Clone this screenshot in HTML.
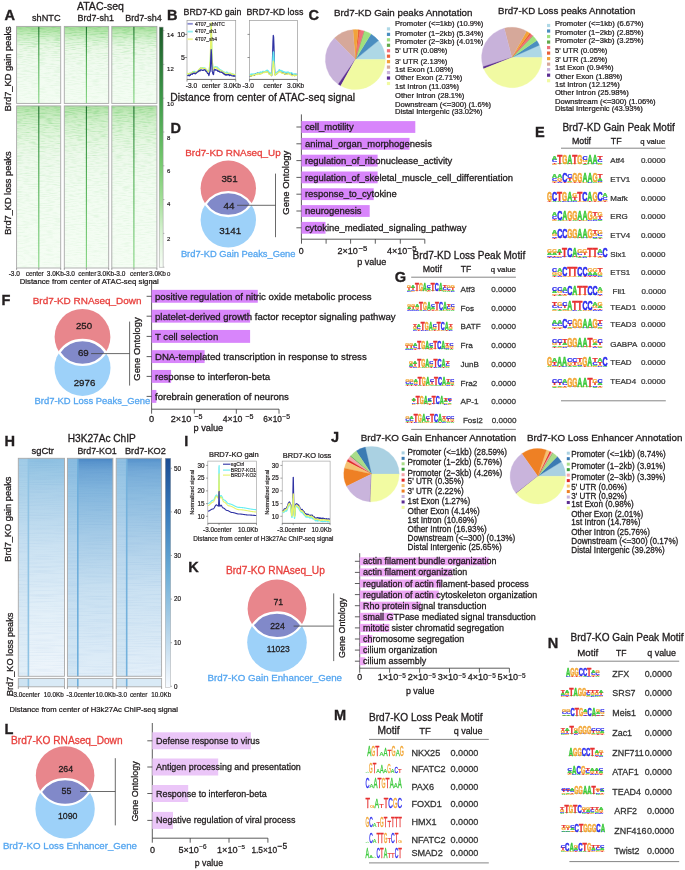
<!DOCTYPE html>
<html><head><meta charset="utf-8"><style>
html,body{margin:0;padding:0;background:#fff;}
svg{display:block;will-change:transform;}
text{font-family:"Liberation Sans",sans-serif;} .t{stroke-width:0.22px;}
</style></head><body>
<svg width="685" height="870" viewBox="0 0 685 870">
<defs><linearGradient id="gG" x1="0" y1="0" x2="0" y2="1">
<stop offset="0" stop-color="#a2db97"/><stop offset="0.05" stop-color="#b6e5ac"/><stop offset="0.12" stop-color="#cbeec4"/><stop offset="0.2" stop-color="#e0f5dc"/><stop offset="0.3" stop-color="#ecf9e9"/><stop offset="0.5" stop-color="#f1fbf0"/><stop offset="1" stop-color="#f4fdf3"/></linearGradient><linearGradient id="gL" x1="0" y1="0" x2="0" y2="1">
<stop offset="0" stop-color="#b0e1a6"/><stop offset="0.04" stop-color="#c3e9bb"/><stop offset="0.1" stop-color="#d5f1cf"/><stop offset="0.2" stop-color="#e5f7e1"/><stop offset="0.3" stop-color="#edf9eb"/><stop offset="0.5" stop-color="#f2fcf1"/><stop offset="1" stop-color="#f5fdf4"/></linearGradient><linearGradient id="gCL" x1="0" y1="0" x2="0" y2="1">
<stop offset="0" stop-color="#1a6a28"/><stop offset="0.12" stop-color="#2a8636"/><stop offset="0.45" stop-color="#4fae52"/><stop offset="1" stop-color="#86d684"/></linearGradient><linearGradient id="gCB" x1="0" y1="0" x2="0" y2="1">
<stop offset="0" stop-color="#1b5a29"/><stop offset="0.3" stop-color="#3e9a49"/><stop offset="0.57" stop-color="#76ca6f"/><stop offset="0.72" stop-color="#a3df98"/><stop offset="0.85" stop-color="#d6f2d0"/><stop offset="1" stop-color="#f7fdf6"/></linearGradient><filter id="nzG" x="0" y="0" width="1" height="1" color-interpolation-filters="sRGB">
<feTurbulence type="fractalNoise" baseFrequency="0.13 0.9" numOctaves="2" seed="11" result="n"/>
<feColorMatrix in="n" type="matrix" values="0 0 0 0 0.35  0 0 0 0 0.78  0 0 0 0 0.35  2.2 0 0 0 -0.95"/>
</filter><linearGradient id="mgG" x1="0" y1="0" x2="0" y2="1"><stop offset="0" stop-color="#fff"/><stop offset="0.2" stop-color="#aaa"/><stop offset="0.45" stop-color="#555"/><stop offset="1" stop-color="#222"/></linearGradient><linearGradient id="mgL" x1="0" y1="0" x2="0" y2="1"><stop offset="0" stop-color="#fff"/><stop offset="0.12" stop-color="#aaa"/><stop offset="0.35" stop-color="#555"/><stop offset="1" stop-color="#222"/></linearGradient><mask id="mk1" maskUnits="userSpaceOnUse" x="16.6" y="26.4" width="44.1" height="77.0"><rect x="16.6" y="26.4" width="44.1" height="77.0" fill="url(#mgG)"/></mask><mask id="mk2" maskUnits="userSpaceOnUse" x="16.6" y="105.9" width="44.1" height="162.1"><rect x="16.6" y="105.9" width="44.1" height="162.1" fill="url(#mgL)"/></mask><mask id="mk3" maskUnits="userSpaceOnUse" x="64.3" y="26.4" width="44.400000000000006" height="77.0"><rect x="64.3" y="26.4" width="44.400000000000006" height="77.0" fill="url(#mgG)"/></mask><mask id="mk4" maskUnits="userSpaceOnUse" x="64.3" y="105.9" width="44.400000000000006" height="162.1"><rect x="64.3" y="105.9" width="44.400000000000006" height="162.1" fill="url(#mgL)"/></mask><mask id="mk5" maskUnits="userSpaceOnUse" x="111.8" y="26.4" width="45.10000000000001" height="77.0"><rect x="111.8" y="26.4" width="45.10000000000001" height="77.0" fill="url(#mgG)"/></mask><mask id="mk6" maskUnits="userSpaceOnUse" x="111.8" y="105.9" width="45.10000000000001" height="162.1"><rect x="111.8" y="105.9" width="45.10000000000001" height="162.1" fill="url(#mgL)"/></mask><filter id="nzB" x="0" y="0" width="1" height="1" color-interpolation-filters="sRGB">
<feTurbulence type="fractalNoise" baseFrequency="0.035 1.1" numOctaves="1" seed="5" result="n"/>
<feColorMatrix in="n" type="matrix" values="0 0 0 0 0.2  0 0 0 0 0.45  0 0 0 0 0.75  2.0 0 0 0 -0.85"/>
</filter><linearGradient id="b1L" x1="0" y1="0" x2="0" y2="1"><stop offset="0" stop-color="#a0cbe7"/><stop offset="0.15" stop-color="#aed3ea"/><stop offset="0.4" stop-color="#c6dff1"/><stop offset="0.7" stop-color="#d8e9f5"/><stop offset="1" stop-color="#e2eff8"/></linearGradient><linearGradient id="b1R" x1="0" y1="0" x2="0" y2="1"><stop offset="0" stop-color="#8ec0e2"/><stop offset="0.05" stop-color="#98c6e4"/><stop offset="0.15" stop-color="#abd0e9"/><stop offset="0.4" stop-color="#cbe2f2"/><stop offset="0.7" stop-color="#e2eff8"/><stop offset="1" stop-color="#eef5fb"/></linearGradient><linearGradient id="b2L" x1="0" y1="0" x2="0" y2="1"><stop offset="0" stop-color="#88bbe0"/><stop offset="0.15" stop-color="#98c5e4"/><stop offset="0.4" stop-color="#b3d4ec"/><stop offset="0.7" stop-color="#c8e0f1"/><stop offset="1" stop-color="#d2e6f4"/></linearGradient><linearGradient id="b2R" x1="0" y1="0" x2="0" y2="1"><stop offset="0" stop-color="#4a87c5"/><stop offset="0.02" stop-color="#5a95cd"/><stop offset="0.06" stop-color="#6ea5d5"/><stop offset="0.15" stop-color="#83b6dd"/><stop offset="0.35" stop-color="#a5cbe7"/><stop offset="0.6" stop-color="#c8e0f1"/><stop offset="0.85" stop-color="#d8e9f6"/><stop offset="1" stop-color="#e1eef8"/></linearGradient><linearGradient id="b3L" x1="0" y1="0" x2="0" y2="1"><stop offset="0" stop-color="#90c0e2"/><stop offset="0.15" stop-color="#9ec9e6"/><stop offset="0.4" stop-color="#b7d6ed"/><stop offset="0.7" stop-color="#cae2f2"/><stop offset="1" stop-color="#d4e7f4"/></linearGradient><linearGradient id="b3R" x1="0" y1="0" x2="0" y2="1"><stop offset="0" stop-color="#5490cb"/><stop offset="0.02" stop-color="#639dd1"/><stop offset="0.06" stop-color="#76abd8"/><stop offset="0.15" stop-color="#89badf"/><stop offset="0.35" stop-color="#a9cde8"/><stop offset="0.6" stop-color="#cae1f2"/><stop offset="0.85" stop-color="#daeaf6"/><stop offset="1" stop-color="#e3eff9"/></linearGradient><linearGradient id="bcb" x1="0" y1="0" x2="0" y2="1">
<stop offset="0" stop-color="#1b4c92"/><stop offset="0.25" stop-color="#3b7dbd"/><stop offset="0.5" stop-color="#6cadd6"/><stop offset="0.75" stop-color="#b3d3e9"/><stop offset="1" stop-color="#f6faff"/></linearGradient></defs>
<rect width="685" height="870" fill="#fff"/>
<g fill="#231f20">
<rect x="16.60" y="26.40" width="44.10" height="77.00" fill="url(#gG)"/>
<rect x="16.60" y="26.40" width="44.10" height="77.00" filter="url(#nzG)" mask="url(#mk1)" opacity="0.5"/>
<rect x="38.25" y="26.40" width="1.10" height="77.00" fill="url(#gCL)"/>
<rect x="16.60" y="26.40" width="44.10" height="77.00" fill="none" stroke="#a9a9a9" stroke-width="0.9"/>
<rect x="16.60" y="105.90" width="44.10" height="162.10" fill="url(#gL)"/>
<rect x="16.60" y="105.90" width="44.10" height="162.10" filter="url(#nzG)" mask="url(#mk2)" opacity="0.5"/>
<rect x="38.25" y="105.90" width="1.10" height="162.10" fill="url(#gCL)"/>
<rect x="16.60" y="105.90" width="44.10" height="162.10" fill="none" stroke="#a9a9a9" stroke-width="0.9"/>
<rect x="64.30" y="26.40" width="44.40" height="77.00" fill="url(#gG)"/>
<rect x="64.30" y="26.40" width="44.40" height="77.00" filter="url(#nzG)" mask="url(#mk3)" opacity="0.5"/>
<rect x="85.85" y="26.40" width="1.10" height="77.00" fill="url(#gCL)"/>
<rect x="64.30" y="26.40" width="44.40" height="77.00" fill="none" stroke="#a9a9a9" stroke-width="0.9"/>
<rect x="64.30" y="105.90" width="44.40" height="162.10" fill="url(#gL)"/>
<rect x="64.30" y="105.90" width="44.40" height="162.10" filter="url(#nzG)" mask="url(#mk4)" opacity="0.5"/>
<rect x="85.85" y="105.90" width="1.10" height="162.10" fill="url(#gCL)"/>
<rect x="64.30" y="105.90" width="44.40" height="162.10" fill="none" stroke="#a9a9a9" stroke-width="0.9"/>
<rect x="111.80" y="26.40" width="45.10" height="77.00" fill="url(#gG)"/>
<rect x="111.80" y="26.40" width="45.10" height="77.00" filter="url(#nzG)" mask="url(#mk5)" opacity="0.5"/>
<rect x="133.35" y="26.40" width="1.10" height="77.00" fill="url(#gCL)"/>
<rect x="111.80" y="26.40" width="45.10" height="77.00" fill="none" stroke="#a9a9a9" stroke-width="0.9"/>
<rect x="111.80" y="105.90" width="45.10" height="162.10" fill="url(#gL)"/>
<rect x="111.80" y="105.90" width="45.10" height="162.10" filter="url(#nzG)" mask="url(#mk6)" opacity="0.5"/>
<rect x="133.35" y="105.90" width="1.10" height="162.10" fill="url(#gCL)"/>
<rect x="111.80" y="105.90" width="45.10" height="162.10" fill="none" stroke="#a9a9a9" stroke-width="0.9"/>
<rect x="159.20" y="27.10" width="3.90" height="240.10" fill="url(#gCB)"/>
<rect x="159.2" y="27.1" width="3.9" height="240.1" fill="none" stroke="#999" stroke-width="0.5"/>
<line x1="163.10" y1="30.60" x2="164.40" y2="30.60" stroke="#777" stroke-width="0.5"/>
<text x="167.10" y="36.50" font-size="6.00" stroke="#1c1819" stroke-width="0.187">14</text>
<line x1="163.10" y1="64.40" x2="164.40" y2="64.40" stroke="#777" stroke-width="0.5"/>
<text x="167.10" y="70.90" font-size="6.00" stroke="#1c1819" stroke-width="0.187">12</text>
<line x1="163.10" y1="98.20" x2="164.40" y2="98.20" stroke="#777" stroke-width="0.5"/>
<text x="167.10" y="105.60" font-size="6.00" stroke="#1c1819" stroke-width="0.187">10</text>
<line x1="163.10" y1="132.00" x2="164.40" y2="132.00" stroke="#777" stroke-width="0.5"/>
<text x="167.10" y="139.60" font-size="6.00" stroke="#1c1819" stroke-width="0.187">8</text>
<line x1="163.10" y1="165.80" x2="164.40" y2="165.80" stroke="#777" stroke-width="0.5"/>
<text x="167.10" y="173.30" font-size="6.00" stroke="#1c1819" stroke-width="0.187">6</text>
<line x1="163.10" y1="199.60" x2="164.40" y2="199.60" stroke="#777" stroke-width="0.5"/>
<text x="167.10" y="205.90" font-size="6.00" stroke="#1c1819" stroke-width="0.187">4</text>
<line x1="163.10" y1="233.40" x2="164.40" y2="233.40" stroke="#777" stroke-width="0.5"/>
<text x="167.10" y="241.30" font-size="6.00" stroke="#1c1819" stroke-width="0.187">2</text>
<line x1="163.10" y1="267.20" x2="164.40" y2="267.20" stroke="#777" stroke-width="0.5"/>
<text x="167.10" y="275.70" font-size="6.00" stroke="#1c1819" stroke-width="0.187">0</text>
<text x="4.40" y="20.22" font-size="14.56" fill="#231f20" font-weight="bold" stroke="#231f20" stroke-width="0.35">A</text>
<text x="77.00" y="10.30" font-size="10.53" stroke="#1c1819" stroke-width="0.296">ATAC-seq</text>
<text x="32.00" y="20.60" font-size="9.19" stroke="#1c1819" stroke-width="0.286">shNTC</text>
<text x="77.60" y="20.60" font-size="8.97" stroke="#1c1819" stroke-width="0.279">Brd7-sh1</text>
<text x="125.20" y="20.60" font-size="9.00" stroke="#1c1819" stroke-width="0.280">Brd7-sh4</text>
<text x="11.20" y="111.20" font-size="9.25" transform="rotate(-90 11.20 111.20)" stroke="#1c1819" stroke-width="0.288">Brd7_KD gain peaks</text>
<text x="11.20" y="234.80" font-size="9.21" transform="rotate(-90 11.20 234.80)" stroke="#1c1819" stroke-width="0.286">Brd7_KD loss peaks</text>
<line x1="16.60" y1="268.00" x2="16.60" y2="270.00" stroke="#555" stroke-width="0.5"/>
<line x1="38.80" y1="268.00" x2="38.80" y2="270.00" stroke="#555" stroke-width="0.5"/>
<line x1="60.70" y1="268.00" x2="60.70" y2="270.00" stroke="#555" stroke-width="0.5"/>
<line x1="64.30" y1="268.00" x2="64.30" y2="270.00" stroke="#555" stroke-width="0.5"/>
<line x1="86.40" y1="268.00" x2="86.40" y2="270.00" stroke="#555" stroke-width="0.5"/>
<line x1="108.70" y1="268.00" x2="108.70" y2="270.00" stroke="#555" stroke-width="0.5"/>
<line x1="111.80" y1="268.00" x2="111.80" y2="270.00" stroke="#555" stroke-width="0.5"/>
<line x1="133.90" y1="268.00" x2="133.90" y2="270.00" stroke="#555" stroke-width="0.5"/>
<line x1="156.90" y1="268.00" x2="156.90" y2="270.00" stroke="#555" stroke-width="0.5"/>
<text x="8.70" y="275.70" font-size="6.50" stroke="#1c1819" stroke-width="0.202">-3.0</text>
<text x="25.70" y="275.70" font-size="6.50" stroke="#1c1819" stroke-width="0.202">center</text>
<text x="46.80" y="275.70" font-size="6.50" stroke="#1c1819" stroke-width="0.202">3.0Kb-3.0</text>
<text x="78.30" y="275.70" font-size="6.50" stroke="#1c1819" stroke-width="0.202">center</text>
<text x="97.20" y="275.70" font-size="6.50" stroke="#1c1819" stroke-width="0.202">3.0Kb-3.0</text>
<text x="130.00" y="275.70" font-size="6.50" stroke="#1c1819" stroke-width="0.202">center</text>
<text x="149.00" y="275.70" font-size="6.50" stroke="#1c1819" stroke-width="0.202">3.0Kb</text>
<text x="19.70" y="283.80" font-size="7.78" stroke="#1c1819" stroke-width="0.242">Distance from center of ATAC-seq signal</text>
<text x="167.00" y="20.22" font-size="14.56" fill="#231f20" font-weight="bold" stroke="#231f20" stroke-width="0.35">B</text>
<text x="183.60" y="15.00" font-size="8.84" stroke="#1c1819" stroke-width="0.275">BRD7-KD gain</text>
<text x="246.40" y="15.00" font-size="8.84" stroke="#1c1819" stroke-width="0.275">BRD7-KD loss</text>
<rect x="187" y="20.5" width="48.70" height="58.90" fill="#fff" stroke="#9a9a9a" stroke-width="0.7"/>
<line x1="187.00" y1="79.40" x2="187.00" y2="81.60" stroke="#444" stroke-width="0.6"/>
<line x1="211.35" y1="79.40" x2="211.35" y2="81.60" stroke="#444" stroke-width="0.6"/>
<line x1="235.70" y1="79.40" x2="235.70" y2="81.60" stroke="#444" stroke-width="0.6"/>
<line x1="187.00" y1="79.40" x2="235.70" y2="79.40" stroke="#555" stroke-width="0.7"/>
<line x1="185.00" y1="34.40" x2="187.00" y2="34.40" stroke="#444" stroke-width="0.6"/>
<line x1="185.00" y1="57.50" x2="187.00" y2="57.50" stroke="#444" stroke-width="0.6"/>
<rect x="249.5" y="20.5" width="47.90" height="58.90" fill="#fff" stroke="#9a9a9a" stroke-width="0.7"/>
<line x1="249.50" y1="79.40" x2="249.50" y2="81.60" stroke="#444" stroke-width="0.6"/>
<line x1="273.45" y1="79.40" x2="273.45" y2="81.60" stroke="#444" stroke-width="0.6"/>
<line x1="297.40" y1="79.40" x2="297.40" y2="81.60" stroke="#444" stroke-width="0.6"/>
<line x1="249.50" y1="79.40" x2="297.40" y2="79.40" stroke="#555" stroke-width="0.7"/>
<line x1="247.50" y1="34.40" x2="249.50" y2="34.40" stroke="#444" stroke-width="0.6"/>
<line x1="247.50" y1="57.50" x2="249.50" y2="57.50" stroke="#444" stroke-width="0.6"/>
<text x="185.00" y="36.70" font-size="7.00" text-anchor="end" stroke="#1c1819" stroke-width="0.218">10</text>
<text x="185.00" y="59.80" font-size="7.00" text-anchor="end" stroke="#1c1819" stroke-width="0.218">5</text>
<path d="M187.30,74.52 L187.63,73.94 L187.96,73.65 L188.30,74.01 L188.63,73.91 L188.96,73.86 L189.29,73.55 L189.62,73.16 L189.95,73.65 L190.29,73.95 L190.62,73.18 L190.95,73.10 L191.28,72.63 L191.61,73.13 L191.94,72.88 L192.28,72.36 L192.61,72.54 L192.94,71.81 L193.27,71.37 L193.60,72.02 L193.93,72.38 L194.27,71.99 L194.60,71.28 L194.93,71.45 L195.26,71.73 L195.59,71.65 L195.92,72.04 L196.26,72.07 L196.59,71.80 L196.92,71.48 L197.25,71.47 L197.58,71.34 L197.92,71.14 L198.25,70.62 L198.58,70.36 L198.91,70.37 L199.24,69.35 L199.57,68.94 L199.91,68.51 L200.24,68.70 L200.57,67.88 L200.90,67.53 L201.23,68.17 L201.56,68.35 L201.90,68.05 L202.23,67.92 L202.56,67.61 L202.89,68.03 L203.22,67.86 L203.55,67.95 L203.89,68.43 L204.22,68.41 L204.55,68.07 L204.88,67.91 L205.21,68.32 L205.54,68.61 L205.88,69.56 L206.21,70.06 L206.54,69.89 L206.87,70.34 L207.20,70.96 L207.54,70.96 L207.87,70.77 L208.20,70.69 L208.53,71.17 L208.86,71.41 L209.19,70.33 L209.53,67.18 L209.86,64.11 L210.19,62.28 L210.52,56.27 L210.85,36.73 L211.18,24.17 L211.52,34.57 L211.85,54.30 L212.18,61.86 L212.51,63.67 L212.84,66.72 L213.17,69.09 L213.51,69.55 L213.84,68.33 L214.17,67.30 L214.50,67.00 L214.83,67.42 L215.16,67.27 L215.50,66.63 L215.83,66.62 L216.16,66.77 L216.49,67.15 L216.82,67.20 L217.16,66.91 L217.49,67.96 L217.82,67.89 L218.15,67.96 L218.48,68.09 L218.81,68.46 L219.15,68.70 L219.48,69.24 L219.81,69.54 L220.14,69.84 L220.47,70.41 L220.80,69.89 L221.14,69.98 L221.47,70.52 L221.80,70.59 L222.13,70.75 L222.46,71.08 L222.79,71.38 L223.13,71.45 L223.46,71.48 L223.79,71.61 L224.12,71.93 L224.45,72.67 L224.78,72.95 L225.12,73.22 L225.45,72.96 L225.78,72.51 L226.11,72.29 L226.44,72.15 L226.78,72.05 L227.11,72.63 L227.44,72.34 L227.77,72.37 L228.10,73.07 L228.43,73.58 L228.77,73.92 L229.10,73.32 L229.43,73.56 L229.76,73.88 L230.09,73.53 L230.42,73.66 L230.76,74.08 L231.09,74.26 L231.42,73.98 L231.75,74.25 L232.08,74.31 L232.41,73.89 L232.75,73.95 L233.08,74.15 L233.41,74.13 L233.74,74.63 L234.07,74.54 L234.40,74.46 L234.74,74.68 L235.07,74.90 L235.40,74.15" fill="none" stroke="#66eef2" stroke-width="1.2" stroke-linejoin="round"/>
<path d="M187.30,73.61 L187.63,73.29 L187.96,74.06 L188.30,74.46 L188.63,73.83 L188.96,73.53 L189.29,73.37 L189.62,73.64 L189.95,73.42 L190.29,73.24 L190.62,73.11 L190.95,73.45 L191.28,73.31 L191.61,73.21 L191.94,72.74 L192.28,72.10 L192.61,71.73 L192.94,71.91 L193.27,72.09 L193.60,72.35 L193.93,72.74 L194.27,72.95 L194.60,72.56 L194.93,72.48 L195.26,72.34 L195.59,71.69 L195.92,71.70 L196.26,71.68 L196.59,71.97 L196.92,72.29 L197.25,72.04 L197.58,71.97 L197.92,71.38 L198.25,70.35 L198.58,69.96 L198.91,70.13 L199.24,69.33 L199.57,68.85 L199.91,68.54 L200.24,68.10 L200.57,67.96 L200.90,67.84 L201.23,68.28 L201.56,67.88 L201.90,67.67 L202.23,68.45 L202.56,68.27 L202.89,68.22 L203.22,68.49 L203.55,68.58 L203.89,68.69 L204.22,68.28 L204.55,68.50 L204.88,68.28 L205.21,68.81 L205.54,68.70 L205.88,68.80 L206.21,69.51 L206.54,69.99 L206.87,70.01 L207.20,70.34 L207.54,70.85 L207.87,71.43 L208.20,71.66 L208.53,71.58 L208.86,72.15 L209.19,70.11 L209.53,66.76 L209.86,62.76 L210.19,61.37 L210.52,48.76 L210.85,31.59 L211.18,22.54 L211.52,30.49 L211.85,47.36 L212.18,60.53 L212.51,62.84 L212.84,66.03 L213.17,69.13 L213.51,70.07 L213.84,68.99 L214.17,68.40 L214.50,67.90 L214.83,67.65 L215.16,67.23 L215.50,67.73 L215.83,67.40 L216.16,67.97 L216.49,67.72 L216.82,68.10 L217.16,68.52 L217.49,68.20 L217.82,69.01 L218.15,69.18 L218.48,69.06 L218.81,69.78 L219.15,70.35 L219.48,70.01 L219.81,70.33 L220.14,70.18 L220.47,70.82 L220.80,70.89 L221.14,71.20 L221.47,70.92 L221.80,71.48 L222.13,70.94 L222.46,71.75 L222.79,71.54 L223.13,72.30 L223.46,72.59 L223.79,72.23 L224.12,72.82 L224.45,73.22 L224.78,72.95 L225.12,73.18 L225.45,73.72 L225.78,73.00 L226.11,73.49 L226.44,73.90 L226.78,73.81 L227.11,73.47 L227.44,73.14 L227.77,73.66 L228.10,73.74 L228.43,74.16 L228.77,73.97 L229.10,73.53 L229.43,73.32 L229.76,73.04 L230.09,73.07 L230.42,73.00 L230.76,73.16 L231.09,73.54 L231.42,74.07 L231.75,73.94 L232.08,74.27 L232.41,74.73 L232.75,74.64 L233.08,74.14 L233.41,74.69 L233.74,74.52 L234.07,74.65 L234.40,74.61 L234.74,75.00 L235.07,74.33 L235.40,74.71" fill="none" stroke="#e6f36a" stroke-width="1.2" stroke-linejoin="round"/>
<path d="M187.30,75.80 L187.63,75.60 L187.96,75.65 L188.30,75.39 L188.63,75.18 L188.96,75.63 L189.29,75.92 L189.62,75.14 L189.95,75.26 L190.29,75.31 L190.62,74.45 L190.95,74.46 L191.28,74.02 L191.61,74.10 L191.94,73.92 L192.28,74.30 L192.61,73.95 L192.94,73.44 L193.27,73.47 L193.60,73.21 L193.93,73.10 L194.27,73.68 L194.60,73.23 L194.93,73.13 L195.26,73.38 L195.59,73.82 L195.92,73.16 L196.26,73.20 L196.59,72.91 L196.92,72.46 L197.25,72.26 L197.58,71.79 L197.92,71.96 L198.25,71.47 L198.58,71.44 L198.91,70.74 L199.24,70.27 L199.57,70.74 L199.91,70.89 L200.24,70.83 L200.57,69.92 L200.90,69.96 L201.23,69.81 L201.56,70.12 L201.90,70.11 L202.23,70.28 L202.56,70.47 L202.89,70.37 L203.22,70.35 L203.55,70.01 L203.89,70.08 L204.22,69.86 L204.55,69.81 L204.88,69.63 L205.21,70.04 L205.54,71.04 L205.88,71.07 L206.21,71.18 L206.54,71.50 L206.87,72.22 L207.20,72.61 L207.54,73.46 L207.87,73.26 L208.20,73.52 L208.53,74.59 L208.86,75.56 L209.19,74.49 L209.53,72.72 L209.86,72.09 L210.19,71.09 L210.52,65.92 L210.85,55.71 L211.18,49.64 L211.52,54.39 L211.85,64.60 L212.18,71.58 L212.51,71.92 L212.84,73.67 L213.17,74.36 L213.51,74.62 L213.84,71.93 L214.17,69.75 L214.50,69.95 L214.83,69.41 L215.16,69.72 L215.50,70.08 L215.83,69.67 L216.16,70.08 L216.49,70.23 L216.82,70.20 L217.16,70.09 L217.49,70.68 L217.82,71.31 L218.15,70.92 L218.48,71.44 L218.81,71.16 L219.15,71.15 L219.48,71.79 L219.81,72.10 L220.14,72.19 L220.47,72.09 L220.80,72.12 L221.14,72.23 L221.47,72.29 L221.80,72.05 L222.13,72.45 L222.46,72.86 L222.79,72.87 L223.13,73.48 L223.46,73.86 L223.79,73.41 L224.12,73.71 L224.45,73.92 L224.78,74.69 L225.12,74.74 L225.45,74.61 L225.78,75.17 L226.11,74.83 L226.44,74.59 L226.78,75.09 L227.11,74.78 L227.44,74.79 L227.77,74.57 L228.10,74.83 L228.43,74.61 L228.77,74.47 L229.10,75.21 L229.43,75.64 L229.76,75.24 L230.09,74.71 L230.42,75.22 L230.76,75.32 L231.09,75.26 L231.42,75.55 L231.75,75.71 L232.08,75.89 L232.41,75.96 L232.75,75.77 L233.08,76.01 L233.41,76.09 L233.74,75.71 L234.07,76.33 L234.40,76.11 L234.74,75.80 L235.07,76.09 L235.40,76.36" fill="none" stroke="#2f32a3" stroke-width="1.2" stroke-linejoin="round"/>
<path d="M249.80,75.80 L250.13,76.11 L250.46,75.95 L250.79,76.11 L251.12,76.27 L251.45,75.98 L251.78,75.20 L252.12,74.84 L252.45,74.62 L252.78,75.07 L253.11,74.95 L253.44,75.13 L253.77,75.32 L254.10,75.47 L254.43,75.40 L254.76,74.53 L255.09,74.08 L255.42,73.79 L255.75,73.59 L256.08,74.10 L256.42,74.25 L256.75,73.94 L257.08,73.61 L257.41,73.24 L257.74,72.96 L258.07,73.65 L258.40,73.45 L258.73,73.24 L259.06,73.27 L259.39,73.64 L259.72,73.52 L260.05,73.86 L260.38,73.11 L260.72,72.74 L261.05,72.87 L261.38,73.22 L261.71,72.75 L262.04,72.79 L262.37,72.42 L262.70,72.18 L263.03,72.34 L263.36,72.47 L263.69,72.27 L264.02,72.26 L264.35,72.48 L264.68,72.38 L265.02,71.70 L265.35,72.08 L265.68,72.26 L266.01,71.68 L266.34,71.69 L266.67,71.40 L267.00,71.30 L267.33,71.42 L267.66,70.94 L267.99,71.76 L268.32,72.24 L268.65,72.97 L268.98,73.10 L269.32,73.68 L269.65,73.95 L269.98,73.61 L270.31,73.99 L270.64,74.17 L270.97,74.06 L271.30,75.00 L271.63,75.62 L271.96,74.56 L272.29,65.98 L272.62,53.78 L272.95,42.37 L273.28,35.34 L273.62,36.97 L273.95,45.76 L274.28,58.39 L274.61,69.14 L274.94,74.57 L275.27,74.29 L275.60,74.06 L275.93,73.47 L276.26,74.02 L276.59,73.99 L276.92,73.29 L277.25,73.00 L277.58,72.97 L277.92,72.11 L278.25,71.70 L278.58,71.04 L278.91,71.10 L279.24,71.22 L279.57,71.11 L279.90,71.46 L280.23,71.44 L280.56,70.85 L280.89,71.26 L281.22,71.94 L281.55,72.39 L281.88,72.60 L282.22,72.13 L282.55,72.39 L282.88,72.70 L283.21,73.17 L283.54,72.54 L283.87,72.83 L284.20,73.29 L284.53,73.76 L284.86,74.06 L285.19,74.11 L285.52,73.56 L285.85,73.81 L286.18,74.10 L286.52,73.78 L286.85,73.88 L287.18,73.12 L287.51,73.66 L287.84,73.56 L288.17,73.24 L288.50,73.49 L288.83,73.02 L289.16,73.33 L289.49,73.81 L289.82,73.94 L290.15,74.46 L290.48,74.37 L290.82,74.55 L291.15,73.97 L291.48,73.72 L291.81,73.97 L292.14,74.67 L292.47,74.87 L292.80,75.03 L293.13,75.19 L293.46,75.29 L293.79,74.67 L294.12,75.12 L294.45,75.52 L294.78,74.80 L295.12,74.79 L295.45,74.33 L295.78,74.71 L296.11,74.40 L296.44,74.49 L296.77,74.40 L297.10,74.40" fill="none" stroke="#2f32a3" stroke-width="1.2" stroke-linejoin="round"/>
<path d="M249.80,74.91 L250.13,74.68 L250.46,74.46 L250.79,74.15 L251.12,74.16 L251.45,73.94 L251.78,74.76 L252.12,74.74 L252.45,74.17 L252.78,74.11 L253.11,73.76 L253.44,74.39 L253.77,74.32 L254.10,74.49 L254.43,74.22 L254.76,73.98 L255.09,74.42 L255.42,74.42 L255.75,74.30 L256.08,73.48 L256.42,73.12 L256.75,73.53 L257.08,73.04 L257.41,73.44 L257.74,73.11 L258.07,73.42 L258.40,73.72 L258.73,72.91 L259.06,73.13 L259.39,73.24 L259.72,72.44 L260.05,72.06 L260.38,72.48 L260.72,71.97 L261.05,72.14 L261.38,72.09 L261.71,72.57 L262.04,71.99 L262.37,71.86 L262.70,71.41 L263.03,71.15 L263.36,71.57 L263.69,71.67 L264.02,71.87 L264.35,71.93 L264.68,71.97 L265.02,71.67 L265.35,71.08 L265.68,71.34 L266.01,70.71 L266.34,70.67 L266.67,70.67 L267.00,70.10 L267.33,70.18 L267.66,70.58 L267.99,70.86 L268.32,71.01 L268.65,72.02 L268.98,71.78 L269.32,72.80 L269.65,72.62 L269.98,72.33 L270.31,73.25 L270.64,73.22 L270.97,73.90 L271.30,74.23 L271.63,75.07 L271.96,74.75 L272.29,70.22 L272.62,62.54 L272.95,56.22 L273.28,51.76 L273.62,52.11 L273.95,56.93 L274.28,64.39 L274.61,71.08 L274.94,74.45 L275.27,74.16 L275.60,74.39 L275.93,73.56 L276.26,72.82 L276.59,72.23 L276.92,72.87 L277.25,72.19 L277.58,72.47 L277.92,72.11 L278.25,71.34 L278.58,70.34 L278.91,70.26 L279.24,69.53 L279.57,69.61 L279.90,70.00 L280.23,70.27 L280.56,70.65 L280.89,71.05 L281.22,71.29 L281.55,70.91 L281.88,70.43 L282.22,71.14 L282.55,71.78 L282.88,71.19 L283.21,71.42 L283.54,71.75 L283.87,72.20 L284.20,72.11 L284.53,71.83 L284.86,72.09 L285.19,72.28 L285.52,72.78 L285.85,72.13 L286.18,72.73 L286.52,72.60 L286.85,72.16 L287.18,72.70 L287.51,72.38 L287.84,71.98 L288.17,72.12 L288.50,72.06 L288.83,72.82 L289.16,72.94 L289.49,73.37 L289.82,72.89 L290.15,73.25 L290.48,73.33 L290.82,72.81 L291.15,72.70 L291.48,72.53 L291.81,73.05 L292.14,73.36 L292.47,73.32 L292.80,73.60 L293.13,74.02 L293.46,74.17 L293.79,74.58 L294.12,74.60 L294.45,73.96 L294.78,73.63 L295.12,73.83 L295.45,74.10 L295.78,74.46 L296.11,74.96 L296.44,75.07 L296.77,74.57 L297.10,74.18" fill="none" stroke="#66eef2" stroke-width="1.2" stroke-linejoin="round"/>
<path d="M249.80,75.65 L250.13,75.40 L250.46,75.61 L250.79,75.97 L251.12,76.45 L251.45,75.98 L251.78,75.88 L252.12,75.47 L252.45,75.63 L252.78,75.25 L253.11,75.53 L253.44,75.08 L253.77,74.86 L254.10,75.03 L254.43,74.96 L254.76,74.72 L255.09,75.08 L255.42,74.86 L255.75,74.41 L256.08,74.70 L256.42,74.24 L256.75,74.06 L257.08,73.74 L257.41,74.08 L257.74,74.52 L258.07,73.98 L258.40,73.62 L258.73,73.77 L259.06,74.24 L259.39,74.38 L259.72,73.97 L260.05,74.09 L260.38,73.42 L260.72,73.41 L261.05,73.84 L261.38,73.60 L261.71,73.76 L262.04,73.19 L262.37,72.81 L262.70,72.97 L263.03,72.85 L263.36,72.64 L263.69,72.33 L264.02,71.88 L264.35,72.58 L264.68,72.57 L265.02,72.23 L265.35,72.29 L265.68,71.97 L266.01,72.29 L266.34,71.57 L266.67,71.53 L267.00,71.96 L267.33,71.64 L267.66,72.02 L267.99,72.59 L268.32,72.85 L268.65,73.59 L268.98,74.13 L269.32,73.82 L269.65,73.85 L269.98,74.55 L270.31,74.23 L270.64,75.09 L270.97,75.44 L271.30,75.12 L271.63,75.26 L271.96,75.19 L272.29,72.47 L272.62,68.28 L272.95,64.47 L273.28,61.19 L273.62,62.27 L273.95,65.37 L274.28,69.29 L274.61,73.42 L274.94,74.96 L275.27,75.43 L275.60,74.65 L275.93,74.09 L276.26,73.85 L276.59,73.41 L276.92,73.70 L277.25,73.38 L277.58,72.99 L277.92,72.83 L278.25,72.56 L278.58,71.96 L278.91,71.81 L279.24,72.05 L279.57,71.55 L279.90,71.86 L280.23,71.84 L280.56,71.57 L280.89,72.15 L281.22,72.74 L281.55,73.05 L281.88,72.81 L282.22,73.00 L282.55,73.31 L282.88,73.35 L283.21,72.92 L283.54,73.47 L283.87,73.68 L284.20,73.33 L284.53,73.45 L284.86,73.91 L285.19,73.96 L285.52,73.97 L285.85,74.34 L286.18,74.32 L286.52,74.40 L286.85,73.91 L287.18,74.17 L287.51,73.97 L287.84,73.53 L288.17,73.34 L288.50,73.86 L288.83,73.94 L289.16,74.34 L289.49,74.51 L289.82,74.55 L290.15,74.27 L290.48,73.97 L290.82,74.53 L291.15,75.22 L291.48,75.17 L291.81,75.61 L292.14,75.93 L292.47,75.33 L292.80,75.73 L293.13,75.32 L293.46,75.50 L293.79,74.99 L294.12,74.81 L294.45,75.59 L294.78,75.94 L295.12,75.33 L295.45,75.34 L295.78,75.58 L296.11,75.33 L296.44,75.15 L296.77,75.41 L297.10,75.58" fill="none" stroke="#e6f36a" stroke-width="1.2" stroke-linejoin="round"/>
<line x1="187.40" y1="23.80" x2="192.80" y2="23.80" stroke="#8c8ed0" stroke-width="1.8"/>
<text x="194.90" y="25.60" font-size="5.06" stroke="#1c1819" stroke-width="0.157">4T07_shNTC</text>
<line x1="187.40" y1="31.60" x2="192.80" y2="31.60" stroke="#8ff3f5" stroke-width="1.8"/>
<text x="194.90" y="33.40" font-size="4.95" stroke="#1c1819" stroke-width="0.154">4T07_sh1</text>
<line x1="187.40" y1="39.20" x2="192.80" y2="39.20" stroke="#eef59a" stroke-width="1.8"/>
<text x="194.90" y="41.00" font-size="5.01" stroke="#1c1819" stroke-width="0.156">4T07_sh4</text>
<text x="185.70" y="87.90" font-size="6.60" stroke="#1c1819" stroke-width="0.205">-3.0</text>
<text x="201.80" y="87.90" font-size="6.60" stroke="#1c1819" stroke-width="0.205">center</text>
<text x="223.60" y="87.90" font-size="6.60" stroke="#1c1819" stroke-width="0.205">3.0Kb</text>
<text x="242.60" y="87.90" font-size="6.60" stroke="#1c1819" stroke-width="0.205">-3.0</text>
<text x="263.60" y="87.90" font-size="6.60" stroke="#1c1819" stroke-width="0.205">center</text>
<text x="287.00" y="87.90" font-size="6.60" stroke="#1c1819" stroke-width="0.205">3.0Kb</text>
<text x="170.20" y="101.00" font-size="10.32" stroke="#1c1819" stroke-width="0.296">Distance from center of ATAC-seq signal</text>
<text x="308.40" y="20.22" font-size="14.56" fill="#231f20" font-weight="bold" stroke="#231f20" stroke-width="0.35">C</text>
<text x="334.00" y="15.60" font-size="9.77" stroke="#1c1819" stroke-width="0.296">Brd7-KD Gain peaks Annotation</text>
<path d="M355.30,59.60 L385.30,59.60 A30,30 0 0 0 378.54,40.62 Z" fill="#aed8e6" stroke="#aed8e6" stroke-width="0.3"/>
<path d="M355.30,59.60 L378.54,40.62 A30,30 0 0 0 370.99,34.03 Z" fill="#4a8ec0" stroke="#4a8ec0" stroke-width="0.3"/>
<path d="M355.30,59.60 L370.99,34.03 A30,30 0 0 0 364.12,30.93 Z" fill="#9fe07e" stroke="#9fe07e" stroke-width="0.3"/>
<path d="M355.30,59.60 L364.12,30.93 A30,30 0 0 0 363.98,30.88 Z" fill="#62a84a" stroke="#62a84a" stroke-width="0.3"/>
<path d="M355.30,59.60 L363.98,30.88 A30,30 0 0 0 360.07,29.98 Z" fill="#f0707a" stroke="#f0707a" stroke-width="0.3"/>
<path d="M355.30,59.60 L360.07,29.98 A30,30 0 0 0 358.05,29.73 Z" fill="#ea6038" stroke="#ea6038" stroke-width="0.3"/>
<path d="M355.30,59.60 L358.05,29.73 A30,30 0 0 0 352.95,29.69 Z" fill="#f2a33a" stroke="#f2a33a" stroke-width="0.3"/>
<path d="M355.30,59.60 L352.95,29.69 A30,30 0 0 0 334.38,38.10 Z" fill="#d6a89a" stroke="#d6a89a" stroke-width="0.3"/>
<path d="M355.30,59.60 L334.38,38.10 A30,30 0 0 0 338.25,84.28 Z" fill="#c8b2da" stroke="#c8b2da" stroke-width="0.3"/>
<path d="M355.30,59.60 L338.25,84.28 A30,30 0 0 0 340.81,85.87 Z" fill="#5c2e91" stroke="#5c2e91" stroke-width="0.3"/>
<path d="M355.30,59.60 L340.81,85.87 A30,30 0 0 0 385.30,59.60 Z" fill="#f1faa2" stroke="#f1faa2" stroke-width="0.3"/>
<rect x="386.90" y="27.30" width="3.20" height="3.20" fill="#aed8e6"/>
<rect x="386.90" y="32.76" width="3.20" height="3.20" fill="#4a8ec0"/>
<rect x="386.90" y="38.22" width="3.20" height="3.20" fill="#9fe07e"/>
<rect x="386.90" y="43.68" width="3.20" height="3.20" fill="#62a84a"/>
<rect x="386.90" y="49.14" width="3.20" height="3.20" fill="#f0707a"/>
<rect x="386.90" y="54.60" width="3.20" height="3.20" fill="#ea6038"/>
<rect x="386.90" y="60.06" width="3.20" height="3.20" fill="#f2a33a"/>
<rect x="386.90" y="65.52" width="3.20" height="3.20" fill="#d6a89a"/>
<rect x="386.90" y="70.98" width="3.20" height="3.20" fill="#c8b2da"/>
<rect x="386.90" y="76.44" width="3.20" height="3.20" fill="#5c2e91"/>
<rect x="386.90" y="81.90" width="3.20" height="3.20" fill="#f1faa2"/>
<text x="395.00" y="26.00" font-size="7.62" stroke="#1c1819" stroke-width="0.237">Promoter (&lt;=1kb) (10.9%)</text>
<text x="395.00" y="35.70" font-size="7.62" stroke="#1c1819" stroke-width="0.237">Promoter (1−2kb) (5.34%)</text>
<text x="395.00" y="43.70" font-size="7.62" stroke="#1c1819" stroke-width="0.237">Promoter (2−3kb) (4.01%)</text>
<text x="395.00" y="53.00" font-size="7.62" stroke="#1c1819" stroke-width="0.237">5' UTR (0.08%)</text>
<text x="395.00" y="63.50" font-size="7.62" stroke="#1c1819" stroke-width="0.237">3' UTR (2.13%)</text>
<text x="395.00" y="71.50" font-size="7.62" stroke="#1c1819" stroke-width="0.237">1st Exon (1.08%)</text>
<text x="395.00" y="79.50" font-size="7.62" stroke="#1c1819" stroke-width="0.237">Other Exon (2.71%)</text>
<text x="395.00" y="89.20" font-size="7.62" stroke="#1c1819" stroke-width="0.237">1st Intron (11.03%)</text>
<text x="395.00" y="98.30" font-size="7.62" stroke="#1c1819" stroke-width="0.237">Other Intron (28.1%)</text>
<text x="395.00" y="106.50" font-size="7.62" stroke="#1c1819" stroke-width="0.237">Downstream (&lt;=300) (1.6%)</text>
<text x="395.00" y="114.40" font-size="7.62" stroke="#1c1819" stroke-width="0.237">Distal Intergenic (33.02%)</text>
<text x="498.00" y="14.00" font-size="9.70" stroke="#1c1819" stroke-width="0.296">Brd7-KD Loss peaks Annotation</text>
<path d="M511.80,57.50 L542.00,57.50 A30.2,30.2 0 0 0 539.39,45.21 Z" fill="#aed8e6" stroke="#aed8e6" stroke-width="0.3"/>
<path d="M511.80,57.50 L539.39,45.21 A30.2,30.2 0 0 0 536.76,40.49 Z" fill="#4a8ec0" stroke="#4a8ec0" stroke-width="0.3"/>
<path d="M511.80,57.50 L536.76,40.49 A30.2,30.2 0 0 0 532.79,35.78 Z" fill="#9fe07e" stroke="#9fe07e" stroke-width="0.3"/>
<path d="M511.80,57.50 L532.79,35.78 A30.2,30.2 0 0 0 532.72,35.72 Z" fill="#62a84a" stroke="#62a84a" stroke-width="0.3"/>
<path d="M511.80,57.50 L532.72,35.72 A30.2,30.2 0 0 0 530.93,34.13 Z" fill="#f0707a" stroke="#f0707a" stroke-width="0.3"/>
<path d="M511.80,57.50 L530.93,34.13 A30.2,30.2 0 0 0 529.52,33.04 Z" fill="#ea6038" stroke="#ea6038" stroke-width="0.3"/>
<path d="M511.80,57.50 L529.52,33.04 A30.2,30.2 0 0 0 526.51,31.13 Z" fill="#f2a33a" stroke="#f2a33a" stroke-width="0.3"/>
<path d="M511.80,57.50 L526.51,31.13 A30.2,30.2 0 0 0 504.25,28.26 Z" fill="#d6a89a" stroke="#d6a89a" stroke-width="0.3"/>
<path d="M511.80,57.50 L504.25,28.26 A30.2,30.2 0 0 0 483.08,66.84 Z" fill="#c8b2da" stroke="#c8b2da" stroke-width="0.3"/>
<path d="M511.80,57.50 L483.08,66.84 A30.2,30.2 0 0 0 483.77,68.73 Z" fill="#5c2e91" stroke="#5c2e91" stroke-width="0.3"/>
<path d="M511.80,57.50 L483.77,68.73 A30.2,30.2 0 0 0 542.00,57.50 Z" fill="#f1faa2" stroke="#f1faa2" stroke-width="0.3"/>
<rect x="547.00" y="23.90" width="3.20" height="3.20" fill="#aed8e6"/>
<rect x="547.00" y="29.42" width="3.20" height="3.20" fill="#4a8ec0"/>
<rect x="547.00" y="34.94" width="3.20" height="3.20" fill="#9fe07e"/>
<rect x="547.00" y="40.46" width="3.20" height="3.20" fill="#62a84a"/>
<rect x="547.00" y="45.98" width="3.20" height="3.20" fill="#f0707a"/>
<rect x="547.00" y="51.50" width="3.20" height="3.20" fill="#ea6038"/>
<rect x="547.00" y="57.02" width="3.20" height="3.20" fill="#f2a33a"/>
<rect x="547.00" y="62.54" width="3.20" height="3.20" fill="#d6a89a"/>
<rect x="547.00" y="68.06" width="3.20" height="3.20" fill="#c8b2da"/>
<rect x="547.00" y="73.58" width="3.20" height="3.20" fill="#5c2e91"/>
<rect x="547.00" y="79.10" width="3.20" height="3.20" fill="#f1faa2"/>
<text x="554.90" y="25.90" font-size="7.65" stroke="#1c1819" stroke-width="0.238">Promoter (&lt;=1kb) (6.67%)</text>
<text x="554.90" y="35.10" font-size="7.65" stroke="#1c1819" stroke-width="0.238">Promoter (1−2kb) (2.85%)</text>
<text x="554.90" y="43.40" font-size="7.65" stroke="#1c1819" stroke-width="0.238">Promoter (2−3kb) (3.25%)</text>
<text x="554.90" y="52.70" font-size="7.65" stroke="#1c1819" stroke-width="0.238">5' UTR (0.05%)</text>
<text x="554.90" y="62.00" font-size="7.65" stroke="#1c1819" stroke-width="0.238">3' UTR (1.26%)</text>
<text x="554.90" y="69.70" font-size="7.65" stroke="#1c1819" stroke-width="0.238">1st Exon (0.94%)</text>
<text x="554.90" y="79.00" font-size="7.65" stroke="#1c1819" stroke-width="0.238">Other Exon (1.88%)</text>
<text x="554.90" y="87.20" font-size="7.65" stroke="#1c1819" stroke-width="0.238">1st Intron (12.12%)</text>
<text x="554.90" y="95.20" font-size="7.65" stroke="#1c1819" stroke-width="0.238">Other Intron (25.98%)</text>
<text x="554.90" y="103.50" font-size="7.65" stroke="#1c1819" stroke-width="0.238">Downstream (&lt;=300) (1.06%)</text>
<text x="554.90" y="111.40" font-size="7.65" stroke="#1c1819" stroke-width="0.238">Distal Intergenic (43.93%)</text>
<text x="170.50" y="133.32" font-size="14.56" fill="#231f20" font-weight="bold" stroke="#231f20" stroke-width="0.35">D</text>
<text x="185.30" y="155.80" font-size="9.87" fill="#e8403d" stroke="#e8403d" stroke-width="0.296">Brd7-KD RNAseq_Up</text>
<circle cx="228.30" cy="188.30" r="27.70" fill="#e8868c"/>
<circle cx="228.30" cy="219.80" r="27.70" fill="#9dd1f9"/>
<path d="M205.51,204.05 A27.70,27.70 0 0 0 251.09,204.05 A27.70,27.70 0 0 0 205.51,204.05 Z" fill="#8189c9" stroke="#fff" stroke-width="2.3"/>
<text x="229.60" y="182.00" font-size="9.80" text-anchor="middle" stroke="#1c1819" stroke-width="0.296">351</text>
<text x="229.00" y="208.90" font-size="9.80" text-anchor="middle" stroke="#1c1819" stroke-width="0.296">44</text>
<text x="230.20" y="233.70" font-size="9.80" text-anchor="middle" stroke="#1c1819" stroke-width="0.296">3141</text>
<line x1="237.00" y1="205.30" x2="275.50" y2="205.30" stroke="#444" stroke-width="0.8"/>
<line x1="275.50" y1="173.60" x2="275.50" y2="237.20" stroke="#444" stroke-width="0.8"/>
<text x="180.90" y="256.50" font-size="9.34" fill="#55a6f0" stroke="#55a6f0" stroke-width="0.290">Brd7-KD Gain Peaks_Gene</text>
<text x="289.00" y="214.70" font-size="9.50" transform="rotate(-90 289.00 214.70)" stroke="#1c1819" stroke-width="0.296">Gene Ontology</text>
<line x1="301.40" y1="114.40" x2="301.40" y2="239.20" stroke="#333" stroke-width="0.8"/>
<line x1="301.40" y1="239.20" x2="424.80" y2="239.20" stroke="#333" stroke-width="0.8"/>
<rect x="301.40" y="121.10" width="113.90" height="11.80" fill="#d885fb"/>
<line x1="296.40" y1="127.00" x2="301.40" y2="127.00" stroke="#333" stroke-width="0.8"/>
<rect x="301.40" y="137.90" width="108.10" height="11.80" fill="#d885fb"/>
<line x1="296.40" y1="143.80" x2="301.40" y2="143.80" stroke="#333" stroke-width="0.8"/>
<rect x="301.40" y="154.70" width="76.20" height="11.80" fill="#d885fb"/>
<line x1="296.40" y1="160.60" x2="301.40" y2="160.60" stroke="#333" stroke-width="0.8"/>
<rect x="301.40" y="171.50" width="76.20" height="11.80" fill="#d885fb"/>
<line x1="296.40" y1="177.40" x2="301.40" y2="177.40" stroke="#333" stroke-width="0.8"/>
<rect x="301.40" y="188.30" width="72.30" height="11.80" fill="#d885fb"/>
<line x1="296.40" y1="194.20" x2="301.40" y2="194.20" stroke="#333" stroke-width="0.8"/>
<rect x="301.40" y="205.10" width="68.30" height="11.80" fill="#d885fb"/>
<line x1="296.40" y1="211.00" x2="301.40" y2="211.00" stroke="#333" stroke-width="0.8"/>
<rect x="301.40" y="221.90" width="24.10" height="11.80" fill="#d885fb"/>
<line x1="296.40" y1="227.80" x2="301.40" y2="227.80" stroke="#333" stroke-width="0.8"/>
<text x="304.90" y="130.20" font-size="9.45" stroke="#1c1819" stroke-width="0.294">cell_motility</text>
<text x="304.90" y="147.00" font-size="9.45" stroke="#1c1819" stroke-width="0.294">animal_organ_morphogenesis</text>
<text x="304.90" y="163.80" font-size="9.45" stroke="#1c1819" stroke-width="0.294">regulation_of_ribonuclease_activity</text>
<text x="304.90" y="180.60" font-size="9.45" stroke="#1c1819" stroke-width="0.294">regulation_of_skeletal_muscle_cell_differentiation</text>
<text x="304.90" y="197.40" font-size="9.45" stroke="#1c1819" stroke-width="0.294">response_to_cytokine</text>
<text x="304.90" y="214.20" font-size="9.45" stroke="#1c1819" stroke-width="0.294">neurogenesis</text>
<text x="304.90" y="231.00" font-size="9.45" stroke="#1c1819" stroke-width="0.294">cytokine_mediated_signaling_pathway</text>
<line x1="301.50" y1="239.20" x2="301.50" y2="243.70" stroke="#333" stroke-width="0.8"/>
<line x1="326.10" y1="239.20" x2="326.10" y2="243.70" stroke="#333" stroke-width="0.8"/>
<line x1="350.60" y1="239.20" x2="350.60" y2="243.70" stroke="#333" stroke-width="0.8"/>
<line x1="375.30" y1="239.20" x2="375.30" y2="243.70" stroke="#333" stroke-width="0.8"/>
<line x1="400.30" y1="239.20" x2="400.30" y2="243.70" stroke="#333" stroke-width="0.8"/>
<line x1="424.80" y1="239.20" x2="424.80" y2="243.70" stroke="#333" stroke-width="0.8"/>
<text x="301.20" y="253.90" font-size="8.80" text-anchor="middle" stroke="#1c1819" stroke-width="0.274">0</text>
<text x="337.40" y="253.90" font-size="9.06" stroke="#1c1819" stroke-width="0.282">2×10</text>
<text x="358.40" y="251.20" font-size="7.72" stroke="#1c1819" stroke-width="0.240">−5</text>
<text x="387.00" y="253.90" font-size="8.97" stroke="#1c1819" stroke-width="0.279">4×10</text>
<text x="407.60" y="251.20" font-size="7.89" stroke="#1c1819" stroke-width="0.246">−5</text>
<text x="357.30" y="264.70" font-size="9.02" stroke="#1c1819" stroke-width="0.281">p value</text>
<text x="535.00" y="136.52" font-size="14.56" fill="#231f20" font-weight="bold" stroke="#231f20" stroke-width="0.35">E</text>
<text x="562.40" y="130.80" font-size="10.01" stroke="#1c1819" stroke-width="0.296">Brd7-KD Gain Peak Motif</text>
<text x="571.90" y="144.00" font-size="8.86" stroke="#1c1819" stroke-width="0.276">Motif</text>
<text x="610.80" y="144.00" font-size="8.90" stroke="#1c1819" stroke-width="0.277">TF</text>
<text x="640.20" y="144.00" font-size="7.78" stroke="#1c1819" stroke-width="0.242">q value</text>
<line x1="561.00" y1="148.20" x2="665.80" y2="148.20" stroke="#666" stroke-width="0.8"/>
<line x1="561.00" y1="400.80" x2="665.80" y2="400.80" stroke="#777" stroke-width="0.9"/>
<text x="610.30" y="163.20" font-size="8.00" fill="#333" stroke="#333" stroke-width="0.249">Atf4</text>
<text x="640.90" y="163.20" font-size="8.00" fill="#333" stroke="#333" stroke-width="0.249">0.0000</text>
<text transform="translate(552.10,164.70) scale(6.492,1.453)" font-size="1" font-weight="bold" fill="#f2a634" stroke="#f2a634" stroke-width="0.05">G</text>
<text transform="translate(552.10,163.70) scale(8.267,2.326)" font-size="1" font-weight="bold" fill="#e63030" stroke="#e63030" stroke-width="0.05">T</text>
<text transform="translate(552.10,162.10) scale(6.993,3.488)" font-size="1" font-weight="bold" fill="#2b2bee" stroke="#2b2bee" stroke-width="0.05">C</text>
<text transform="translate(552.10,159.70) scale(6.993,4.942)" font-size="1" font-weight="bold" fill="#3cc93c" stroke="#3cc93c" stroke-width="0.05">A</text>
<text transform="translate(557.15,164.70) scale(6.993,0.581)" font-size="1" font-weight="bold" fill="#2b2bee" stroke="#2b2bee" stroke-width="0.05">C</text>
<text transform="translate(557.15,164.30) scale(6.993,0.872)" font-size="1" font-weight="bold" fill="#3cc93c" stroke="#3cc93c" stroke-width="0.05">A</text>
<text transform="translate(557.15,163.70) scale(8.267,13.081)" font-size="1" font-weight="bold" fill="#e63030" stroke="#e63030" stroke-width="0.05">T</text>
<text transform="translate(562.20,164.70) scale(6.993,0.581)" font-size="1" font-weight="bold" fill="#2b2bee" stroke="#2b2bee" stroke-width="0.05">C</text>
<text transform="translate(562.20,164.30) scale(6.993,0.872)" font-size="1" font-weight="bold" fill="#3cc93c" stroke="#3cc93c" stroke-width="0.05">A</text>
<text transform="translate(562.20,163.70) scale(6.492,13.081)" font-size="1" font-weight="bold" fill="#f2a634" stroke="#f2a634" stroke-width="0.05">G</text>
<text transform="translate(567.25,164.70) scale(6.492,0.581)" font-size="1" font-weight="bold" fill="#f2a634" stroke="#f2a634" stroke-width="0.05">G</text>
<text transform="translate(567.25,164.30) scale(8.267,0.872)" font-size="1" font-weight="bold" fill="#e63030" stroke="#e63030" stroke-width="0.05">T</text>
<text transform="translate(567.25,163.70) scale(6.993,13.081)" font-size="1" font-weight="bold" fill="#3cc93c" stroke="#3cc93c" stroke-width="0.05">A</text>
<text transform="translate(572.30,164.70) scale(6.993,0.581)" font-size="1" font-weight="bold" fill="#3cc93c" stroke="#3cc93c" stroke-width="0.05">A</text>
<text transform="translate(572.30,164.30) scale(6.492,0.872)" font-size="1" font-weight="bold" fill="#f2a634" stroke="#f2a634" stroke-width="0.05">G</text>
<text transform="translate(572.30,163.70) scale(8.267,13.081)" font-size="1" font-weight="bold" fill="#e63030" stroke="#e63030" stroke-width="0.05">T</text>
<text transform="translate(577.35,164.70) scale(6.993,0.581)" font-size="1" font-weight="bold" fill="#2b2bee" stroke="#2b2bee" stroke-width="0.05">C</text>
<text transform="translate(577.35,164.30) scale(6.993,0.872)" font-size="1" font-weight="bold" fill="#3cc93c" stroke="#3cc93c" stroke-width="0.05">A</text>
<text transform="translate(577.35,163.70) scale(6.492,13.081)" font-size="1" font-weight="bold" fill="#f2a634" stroke="#f2a634" stroke-width="0.05">G</text>
<text transform="translate(582.40,164.70) scale(6.993,1.453)" font-size="1" font-weight="bold" fill="#3cc93c" stroke="#3cc93c" stroke-width="0.05">A</text>
<text transform="translate(582.40,163.70) scale(8.267,2.326)" font-size="1" font-weight="bold" fill="#e63030" stroke="#e63030" stroke-width="0.05">T</text>
<text transform="translate(582.40,162.10) scale(6.492,3.488)" font-size="1" font-weight="bold" fill="#f2a634" stroke="#f2a634" stroke-width="0.05">G</text>
<text transform="translate(582.40,159.70) scale(6.993,4.942)" font-size="1" font-weight="bold" fill="#2b2bee" stroke="#2b2bee" stroke-width="0.05">C</text>
<text transform="translate(587.45,164.70) scale(8.267,0.581)" font-size="1" font-weight="bold" fill="#e63030" stroke="#e63030" stroke-width="0.05">T</text>
<text transform="translate(587.45,164.30) scale(6.492,0.872)" font-size="1" font-weight="bold" fill="#f2a634" stroke="#f2a634" stroke-width="0.05">G</text>
<text transform="translate(587.45,163.70) scale(6.993,13.081)" font-size="1" font-weight="bold" fill="#3cc93c" stroke="#3cc93c" stroke-width="0.05">A</text>
<text transform="translate(592.50,164.70) scale(6.492,0.581)" font-size="1" font-weight="bold" fill="#f2a634" stroke="#f2a634" stroke-width="0.05">G</text>
<text transform="translate(592.50,164.30) scale(6.993,0.872)" font-size="1" font-weight="bold" fill="#2b2bee" stroke="#2b2bee" stroke-width="0.05">C</text>
<text transform="translate(592.50,163.70) scale(6.993,13.081)" font-size="1" font-weight="bold" fill="#3cc93c" stroke="#3cc93c" stroke-width="0.05">A</text>
<text transform="translate(597.55,164.70) scale(6.492,1.453)" font-size="1" font-weight="bold" fill="#f2a634" stroke="#f2a634" stroke-width="0.05">G</text>
<text transform="translate(597.55,163.70) scale(6.993,2.326)" font-size="1" font-weight="bold" fill="#3cc93c" stroke="#3cc93c" stroke-width="0.05">A</text>
<text transform="translate(597.55,162.10) scale(6.993,3.488)" font-size="1" font-weight="bold" fill="#2b2bee" stroke="#2b2bee" stroke-width="0.05">C</text>
<text transform="translate(597.55,159.70) scale(8.267,4.942)" font-size="1" font-weight="bold" fill="#e63030" stroke="#e63030" stroke-width="0.05">T</text>
<text x="610.30" y="182.00" font-size="8.00" fill="#333" stroke="#333" stroke-width="0.249">ETV1</text>
<text x="640.90" y="182.00" font-size="8.00" fill="#333" stroke="#333" stroke-width="0.249">0.0000</text>
<text transform="translate(552.10,183.30) scale(8.267,1.453)" font-size="1" font-weight="bold" fill="#e63030" stroke="#e63030" stroke-width="0.05">T</text>
<text transform="translate(552.10,182.30) scale(6.492,2.326)" font-size="1" font-weight="bold" fill="#f2a634" stroke="#f2a634" stroke-width="0.05">G</text>
<text transform="translate(552.10,180.70) scale(6.993,3.488)" font-size="1" font-weight="bold" fill="#2b2bee" stroke="#2b2bee" stroke-width="0.05">C</text>
<text transform="translate(552.10,178.30) scale(6.993,4.942)" font-size="1" font-weight="bold" fill="#3cc93c" stroke="#3cc93c" stroke-width="0.05">A</text>
<text transform="translate(557.15,183.30) scale(6.993,1.453)" font-size="1" font-weight="bold" fill="#2b2bee" stroke="#2b2bee" stroke-width="0.05">C</text>
<text transform="translate(557.15,182.30) scale(8.267,2.326)" font-size="1" font-weight="bold" fill="#e63030" stroke="#e63030" stroke-width="0.05">T</text>
<text transform="translate(557.15,180.70) scale(6.492,3.488)" font-size="1" font-weight="bold" fill="#f2a634" stroke="#f2a634" stroke-width="0.05">G</text>
<text transform="translate(557.15,178.30) scale(6.993,4.942)" font-size="1" font-weight="bold" fill="#3cc93c" stroke="#3cc93c" stroke-width="0.05">A</text>
<text transform="translate(562.20,183.30) scale(6.492,0.581)" font-size="1" font-weight="bold" fill="#f2a634" stroke="#f2a634" stroke-width="0.05">G</text>
<text transform="translate(562.20,182.90) scale(8.267,0.872)" font-size="1" font-weight="bold" fill="#e63030" stroke="#e63030" stroke-width="0.05">T</text>
<text transform="translate(562.20,182.30) scale(6.993,13.081)" font-size="1" font-weight="bold" fill="#2b2bee" stroke="#2b2bee" stroke-width="0.05">C</text>
<text transform="translate(567.25,183.30) scale(6.492,1.453)" font-size="1" font-weight="bold" fill="#f2a634" stroke="#f2a634" stroke-width="0.05">G</text>
<text transform="translate(567.25,182.30) scale(6.993,2.326)" font-size="1" font-weight="bold" fill="#3cc93c" stroke="#3cc93c" stroke-width="0.05">A</text>
<text transform="translate(567.25,180.70) scale(8.267,3.488)" font-size="1" font-weight="bold" fill="#e63030" stroke="#e63030" stroke-width="0.05">T</text>
<text transform="translate(567.25,178.30) scale(6.993,4.942)" font-size="1" font-weight="bold" fill="#2b2bee" stroke="#2b2bee" stroke-width="0.05">C</text>
<text transform="translate(572.30,183.30) scale(6.993,0.581)" font-size="1" font-weight="bold" fill="#3cc93c" stroke="#3cc93c" stroke-width="0.05">A</text>
<text transform="translate(572.30,182.90) scale(8.267,0.872)" font-size="1" font-weight="bold" fill="#e63030" stroke="#e63030" stroke-width="0.05">T</text>
<text transform="translate(572.30,182.30) scale(6.492,13.081)" font-size="1" font-weight="bold" fill="#f2a634" stroke="#f2a634" stroke-width="0.05">G</text>
<text transform="translate(577.35,183.30) scale(6.993,0.581)" font-size="1" font-weight="bold" fill="#3cc93c" stroke="#3cc93c" stroke-width="0.05">A</text>
<text transform="translate(577.35,182.90) scale(8.267,0.872)" font-size="1" font-weight="bold" fill="#e63030" stroke="#e63030" stroke-width="0.05">T</text>
<text transform="translate(577.35,182.30) scale(6.492,13.081)" font-size="1" font-weight="bold" fill="#f2a634" stroke="#f2a634" stroke-width="0.05">G</text>
<text transform="translate(582.40,183.30) scale(8.267,0.581)" font-size="1" font-weight="bold" fill="#e63030" stroke="#e63030" stroke-width="0.05">T</text>
<text transform="translate(582.40,182.90) scale(6.492,0.872)" font-size="1" font-weight="bold" fill="#f2a634" stroke="#f2a634" stroke-width="0.05">G</text>
<text transform="translate(582.40,182.30) scale(6.993,13.081)" font-size="1" font-weight="bold" fill="#3cc93c" stroke="#3cc93c" stroke-width="0.05">A</text>
<text transform="translate(587.45,183.30) scale(8.267,0.581)" font-size="1" font-weight="bold" fill="#e63030" stroke="#e63030" stroke-width="0.05">T</text>
<text transform="translate(587.45,182.90) scale(6.993,0.872)" font-size="1" font-weight="bold" fill="#2b2bee" stroke="#2b2bee" stroke-width="0.05">C</text>
<text transform="translate(587.45,182.30) scale(6.993,13.081)" font-size="1" font-weight="bold" fill="#3cc93c" stroke="#3cc93c" stroke-width="0.05">A</text>
<text transform="translate(592.50,183.30) scale(8.267,0.581)" font-size="1" font-weight="bold" fill="#e63030" stroke="#e63030" stroke-width="0.05">T</text>
<text transform="translate(592.50,182.90) scale(6.993,0.872)" font-size="1" font-weight="bold" fill="#3cc93c" stroke="#3cc93c" stroke-width="0.05">A</text>
<text transform="translate(592.50,182.30) scale(6.492,13.081)" font-size="1" font-weight="bold" fill="#f2a634" stroke="#f2a634" stroke-width="0.05">G</text>
<text transform="translate(597.55,183.30) scale(6.492,1.453)" font-size="1" font-weight="bold" fill="#f2a634" stroke="#f2a634" stroke-width="0.05">G</text>
<text transform="translate(597.55,182.30) scale(6.993,2.326)" font-size="1" font-weight="bold" fill="#2b2bee" stroke="#2b2bee" stroke-width="0.05">C</text>
<text transform="translate(597.55,180.70) scale(6.993,3.488)" font-size="1" font-weight="bold" fill="#3cc93c" stroke="#3cc93c" stroke-width="0.05">A</text>
<text transform="translate(597.55,178.30) scale(8.267,4.942)" font-size="1" font-weight="bold" fill="#e63030" stroke="#e63030" stroke-width="0.05">T</text>
<text x="610.30" y="200.50" font-size="8.00" fill="#333" stroke="#333" stroke-width="0.249">Mafk</text>
<text x="640.90" y="200.50" font-size="8.00" fill="#333" stroke="#333" stroke-width="0.249">0.0000</text>
<text transform="translate(546.90,202.20) scale(7.004,0.581)" font-size="1" font-weight="bold" fill="#3cc93c" stroke="#3cc93c" stroke-width="0.05">A</text>
<text transform="translate(546.90,201.80) scale(8.281,0.872)" font-size="1" font-weight="bold" fill="#e63030" stroke="#e63030" stroke-width="0.05">T</text>
<text transform="translate(546.90,201.20) scale(6.503,13.081)" font-size="1" font-weight="bold" fill="#f2a634" stroke="#f2a634" stroke-width="0.05">G</text>
<text transform="translate(551.96,202.20) scale(6.503,0.581)" font-size="1" font-weight="bold" fill="#f2a634" stroke="#f2a634" stroke-width="0.05">G</text>
<text transform="translate(551.96,201.80) scale(7.004,0.872)" font-size="1" font-weight="bold" fill="#3cc93c" stroke="#3cc93c" stroke-width="0.05">A</text>
<text transform="translate(551.96,201.20) scale(7.004,13.081)" font-size="1" font-weight="bold" fill="#2b2bee" stroke="#2b2bee" stroke-width="0.05">C</text>
<text transform="translate(557.02,202.20) scale(6.503,0.581)" font-size="1" font-weight="bold" fill="#f2a634" stroke="#f2a634" stroke-width="0.05">G</text>
<text transform="translate(557.02,201.80) scale(7.004,0.872)" font-size="1" font-weight="bold" fill="#3cc93c" stroke="#3cc93c" stroke-width="0.05">A</text>
<text transform="translate(557.02,201.20) scale(8.281,13.081)" font-size="1" font-weight="bold" fill="#e63030" stroke="#e63030" stroke-width="0.05">T</text>
<text transform="translate(562.08,202.20) scale(7.004,0.581)" font-size="1" font-weight="bold" fill="#3cc93c" stroke="#3cc93c" stroke-width="0.05">A</text>
<text transform="translate(562.08,201.80) scale(7.004,0.872)" font-size="1" font-weight="bold" fill="#2b2bee" stroke="#2b2bee" stroke-width="0.05">C</text>
<text transform="translate(562.08,201.20) scale(6.503,13.081)" font-size="1" font-weight="bold" fill="#f2a634" stroke="#f2a634" stroke-width="0.05">G</text>
<text transform="translate(567.13,202.20) scale(8.281,0.581)" font-size="1" font-weight="bold" fill="#e63030" stroke="#e63030" stroke-width="0.05">T</text>
<text transform="translate(567.13,201.80) scale(7.004,0.872)" font-size="1" font-weight="bold" fill="#2b2bee" stroke="#2b2bee" stroke-width="0.05">C</text>
<text transform="translate(567.13,201.20) scale(7.004,13.081)" font-size="1" font-weight="bold" fill="#3cc93c" stroke="#3cc93c" stroke-width="0.05">A</text>
<text transform="translate(572.19,202.20) scale(7.004,1.453)" font-size="1" font-weight="bold" fill="#2b2bee" stroke="#2b2bee" stroke-width="0.05">C</text>
<text transform="translate(572.19,201.20) scale(7.004,2.326)" font-size="1" font-weight="bold" fill="#3cc93c" stroke="#3cc93c" stroke-width="0.05">A</text>
<text transform="translate(572.19,199.60) scale(8.281,3.488)" font-size="1" font-weight="bold" fill="#e63030" stroke="#e63030" stroke-width="0.05">T</text>
<text transform="translate(572.19,197.20) scale(6.503,4.942)" font-size="1" font-weight="bold" fill="#f2a634" stroke="#f2a634" stroke-width="0.05">G</text>
<text transform="translate(577.25,202.20) scale(7.004,0.581)" font-size="1" font-weight="bold" fill="#3cc93c" stroke="#3cc93c" stroke-width="0.05">A</text>
<text transform="translate(577.25,201.80) scale(6.503,0.872)" font-size="1" font-weight="bold" fill="#f2a634" stroke="#f2a634" stroke-width="0.05">G</text>
<text transform="translate(577.25,201.20) scale(8.281,13.081)" font-size="1" font-weight="bold" fill="#e63030" stroke="#e63030" stroke-width="0.05">T</text>
<text transform="translate(582.31,202.20) scale(7.004,0.581)" font-size="1" font-weight="bold" fill="#3cc93c" stroke="#3cc93c" stroke-width="0.05">A</text>
<text transform="translate(582.31,201.80) scale(6.503,0.872)" font-size="1" font-weight="bold" fill="#f2a634" stroke="#f2a634" stroke-width="0.05">G</text>
<text transform="translate(582.31,201.20) scale(7.004,13.081)" font-size="1" font-weight="bold" fill="#2b2bee" stroke="#2b2bee" stroke-width="0.05">C</text>
<text transform="translate(587.37,202.20) scale(7.004,0.581)" font-size="1" font-weight="bold" fill="#2b2bee" stroke="#2b2bee" stroke-width="0.05">C</text>
<text transform="translate(587.37,201.80) scale(8.281,0.872)" font-size="1" font-weight="bold" fill="#e63030" stroke="#e63030" stroke-width="0.05">T</text>
<text transform="translate(587.37,201.20) scale(7.004,13.081)" font-size="1" font-weight="bold" fill="#3cc93c" stroke="#3cc93c" stroke-width="0.05">A</text>
<text transform="translate(592.42,202.20) scale(7.004,0.581)" font-size="1" font-weight="bold" fill="#3cc93c" stroke="#3cc93c" stroke-width="0.05">A</text>
<text transform="translate(592.42,201.80) scale(8.281,0.872)" font-size="1" font-weight="bold" fill="#e63030" stroke="#e63030" stroke-width="0.05">T</text>
<text transform="translate(592.42,201.20) scale(6.503,13.081)" font-size="1" font-weight="bold" fill="#f2a634" stroke="#f2a634" stroke-width="0.05">G</text>
<text transform="translate(597.48,202.20) scale(8.281,0.581)" font-size="1" font-weight="bold" fill="#e63030" stroke="#e63030" stroke-width="0.05">T</text>
<text transform="translate(597.48,201.80) scale(6.503,0.872)" font-size="1" font-weight="bold" fill="#f2a634" stroke="#f2a634" stroke-width="0.05">G</text>
<text transform="translate(597.48,201.20) scale(7.004,13.081)" font-size="1" font-weight="bold" fill="#2b2bee" stroke="#2b2bee" stroke-width="0.05">C</text>
<text transform="translate(602.54,202.20) scale(8.281,1.453)" font-size="1" font-weight="bold" fill="#e63030" stroke="#e63030" stroke-width="0.05">T</text>
<text transform="translate(602.54,201.20) scale(6.503,2.326)" font-size="1" font-weight="bold" fill="#f2a634" stroke="#f2a634" stroke-width="0.05">G</text>
<text transform="translate(602.54,199.60) scale(7.004,3.488)" font-size="1" font-weight="bold" fill="#2b2bee" stroke="#2b2bee" stroke-width="0.05">C</text>
<text transform="translate(602.54,197.20) scale(7.004,4.942)" font-size="1" font-weight="bold" fill="#3cc93c" stroke="#3cc93c" stroke-width="0.05">A</text>
<text x="610.30" y="219.30" font-size="8.00" fill="#333" stroke="#333" stroke-width="0.249">ERG</text>
<text x="640.90" y="219.30" font-size="8.00" fill="#333" stroke="#333" stroke-width="0.249">0.0000</text>
<text transform="translate(552.10,221.10) scale(6.492,1.453)" font-size="1" font-weight="bold" fill="#f2a634" stroke="#f2a634" stroke-width="0.05">G</text>
<text transform="translate(552.10,220.10) scale(8.267,2.326)" font-size="1" font-weight="bold" fill="#e63030" stroke="#e63030" stroke-width="0.05">T</text>
<text transform="translate(552.10,218.50) scale(6.993,3.488)" font-size="1" font-weight="bold" fill="#2b2bee" stroke="#2b2bee" stroke-width="0.05">C</text>
<text transform="translate(552.10,216.10) scale(6.993,4.942)" font-size="1" font-weight="bold" fill="#3cc93c" stroke="#3cc93c" stroke-width="0.05">A</text>
<text transform="translate(557.15,221.10) scale(6.492,0.581)" font-size="1" font-weight="bold" fill="#f2a634" stroke="#f2a634" stroke-width="0.05">G</text>
<text transform="translate(557.15,220.70) scale(6.993,0.872)" font-size="1" font-weight="bold" fill="#3cc93c" stroke="#3cc93c" stroke-width="0.05">A</text>
<text transform="translate(557.15,220.10) scale(6.993,13.081)" font-size="1" font-weight="bold" fill="#2b2bee" stroke="#2b2bee" stroke-width="0.05">C</text>
<text transform="translate(562.20,221.10) scale(6.993,0.581)" font-size="1" font-weight="bold" fill="#2b2bee" stroke="#2b2bee" stroke-width="0.05">C</text>
<text transform="translate(562.20,220.70) scale(6.492,0.872)" font-size="1" font-weight="bold" fill="#f2a634" stroke="#f2a634" stroke-width="0.05">G</text>
<text transform="translate(562.20,220.10) scale(6.993,13.081)" font-size="1" font-weight="bold" fill="#3cc93c" stroke="#3cc93c" stroke-width="0.05">A</text>
<text transform="translate(567.25,221.10) scale(6.993,0.581)" font-size="1" font-weight="bold" fill="#2b2bee" stroke="#2b2bee" stroke-width="0.05">C</text>
<text transform="translate(567.25,220.70) scale(8.267,0.872)" font-size="1" font-weight="bold" fill="#e63030" stroke="#e63030" stroke-width="0.05">T</text>
<text transform="translate(567.25,220.10) scale(6.492,13.081)" font-size="1" font-weight="bold" fill="#f2a634" stroke="#f2a634" stroke-width="0.05">G</text>
<text transform="translate(572.30,221.10) scale(6.993,0.581)" font-size="1" font-weight="bold" fill="#2b2bee" stroke="#2b2bee" stroke-width="0.05">C</text>
<text transform="translate(572.30,220.70) scale(6.993,0.872)" font-size="1" font-weight="bold" fill="#3cc93c" stroke="#3cc93c" stroke-width="0.05">A</text>
<text transform="translate(572.30,220.10) scale(6.492,13.081)" font-size="1" font-weight="bold" fill="#f2a634" stroke="#f2a634" stroke-width="0.05">G</text>
<text transform="translate(577.35,221.10) scale(6.492,0.581)" font-size="1" font-weight="bold" fill="#f2a634" stroke="#f2a634" stroke-width="0.05">G</text>
<text transform="translate(577.35,220.70) scale(8.267,0.872)" font-size="1" font-weight="bold" fill="#e63030" stroke="#e63030" stroke-width="0.05">T</text>
<text transform="translate(577.35,220.10) scale(6.993,13.081)" font-size="1" font-weight="bold" fill="#3cc93c" stroke="#3cc93c" stroke-width="0.05">A</text>
<text transform="translate(582.40,221.10) scale(6.993,0.581)" font-size="1" font-weight="bold" fill="#2b2bee" stroke="#2b2bee" stroke-width="0.05">C</text>
<text transform="translate(582.40,220.70) scale(6.492,0.872)" font-size="1" font-weight="bold" fill="#f2a634" stroke="#f2a634" stroke-width="0.05">G</text>
<text transform="translate(582.40,220.10) scale(6.993,13.081)" font-size="1" font-weight="bold" fill="#3cc93c" stroke="#3cc93c" stroke-width="0.05">A</text>
<text transform="translate(587.45,221.10) scale(6.993,0.581)" font-size="1" font-weight="bold" fill="#3cc93c" stroke="#3cc93c" stroke-width="0.05">A</text>
<text transform="translate(587.45,220.70) scale(6.993,0.872)" font-size="1" font-weight="bold" fill="#2b2bee" stroke="#2b2bee" stroke-width="0.05">C</text>
<text transform="translate(587.45,220.10) scale(6.492,13.081)" font-size="1" font-weight="bold" fill="#f2a634" stroke="#f2a634" stroke-width="0.05">G</text>
<text transform="translate(592.50,221.10) scale(6.993,1.453)" font-size="1" font-weight="bold" fill="#2b2bee" stroke="#2b2bee" stroke-width="0.05">C</text>
<text transform="translate(592.50,220.10) scale(6.993,2.326)" font-size="1" font-weight="bold" fill="#3cc93c" stroke="#3cc93c" stroke-width="0.05">A</text>
<text transform="translate(592.50,218.50) scale(6.492,3.488)" font-size="1" font-weight="bold" fill="#f2a634" stroke="#f2a634" stroke-width="0.05">G</text>
<text transform="translate(592.50,216.10) scale(8.267,4.942)" font-size="1" font-weight="bold" fill="#e63030" stroke="#e63030" stroke-width="0.05">T</text>
<text transform="translate(597.55,221.10) scale(6.993,1.453)" font-size="1" font-weight="bold" fill="#3cc93c" stroke="#3cc93c" stroke-width="0.05">A</text>
<text transform="translate(597.55,220.10) scale(6.993,2.326)" font-size="1" font-weight="bold" fill="#2b2bee" stroke="#2b2bee" stroke-width="0.05">C</text>
<text transform="translate(597.55,218.50) scale(8.267,3.488)" font-size="1" font-weight="bold" fill="#e63030" stroke="#e63030" stroke-width="0.05">T</text>
<text transform="translate(597.55,216.10) scale(6.492,4.942)" font-size="1" font-weight="bold" fill="#f2a634" stroke="#f2a634" stroke-width="0.05">G</text>
<text x="610.30" y="237.90" font-size="8.00" fill="#333" stroke="#333" stroke-width="0.249">ETV4</text>
<text x="640.90" y="237.90" font-size="8.00" fill="#333" stroke="#333" stroke-width="0.249">0.0000</text>
<text transform="translate(552.10,238.70) scale(8.267,1.453)" font-size="1" font-weight="bold" fill="#e63030" stroke="#e63030" stroke-width="0.05">T</text>
<text transform="translate(552.10,237.70) scale(6.993,2.326)" font-size="1" font-weight="bold" fill="#2b2bee" stroke="#2b2bee" stroke-width="0.05">C</text>
<text transform="translate(552.10,236.10) scale(6.492,3.488)" font-size="1" font-weight="bold" fill="#f2a634" stroke="#f2a634" stroke-width="0.05">G</text>
<text transform="translate(552.10,233.70) scale(6.993,4.942)" font-size="1" font-weight="bold" fill="#3cc93c" stroke="#3cc93c" stroke-width="0.05">A</text>
<text transform="translate(557.15,238.70) scale(8.267,0.581)" font-size="1" font-weight="bold" fill="#e63030" stroke="#e63030" stroke-width="0.05">T</text>
<text transform="translate(557.15,238.30) scale(6.492,0.872)" font-size="1" font-weight="bold" fill="#f2a634" stroke="#f2a634" stroke-width="0.05">G</text>
<text transform="translate(557.15,237.70) scale(6.993,13.081)" font-size="1" font-weight="bold" fill="#2b2bee" stroke="#2b2bee" stroke-width="0.05">C</text>
<text transform="translate(562.20,238.70) scale(6.492,0.581)" font-size="1" font-weight="bold" fill="#f2a634" stroke="#f2a634" stroke-width="0.05">G</text>
<text transform="translate(562.20,238.30) scale(8.267,0.872)" font-size="1" font-weight="bold" fill="#e63030" stroke="#e63030" stroke-width="0.05">T</text>
<text transform="translate(562.20,237.70) scale(6.993,13.081)" font-size="1" font-weight="bold" fill="#2b2bee" stroke="#2b2bee" stroke-width="0.05">C</text>
<text transform="translate(567.25,238.70) scale(8.267,0.581)" font-size="1" font-weight="bold" fill="#e63030" stroke="#e63030" stroke-width="0.05">T</text>
<text transform="translate(567.25,238.30) scale(6.993,0.872)" font-size="1" font-weight="bold" fill="#3cc93c" stroke="#3cc93c" stroke-width="0.05">A</text>
<text transform="translate(567.25,237.70) scale(6.492,13.081)" font-size="1" font-weight="bold" fill="#f2a634" stroke="#f2a634" stroke-width="0.05">G</text>
<text transform="translate(572.30,238.70) scale(6.993,0.581)" font-size="1" font-weight="bold" fill="#3cc93c" stroke="#3cc93c" stroke-width="0.05">A</text>
<text transform="translate(572.30,238.30) scale(6.993,0.872)" font-size="1" font-weight="bold" fill="#2b2bee" stroke="#2b2bee" stroke-width="0.05">C</text>
<text transform="translate(572.30,237.70) scale(6.492,13.081)" font-size="1" font-weight="bold" fill="#f2a634" stroke="#f2a634" stroke-width="0.05">G</text>
<text transform="translate(577.35,238.70) scale(6.492,0.581)" font-size="1" font-weight="bold" fill="#f2a634" stroke="#f2a634" stroke-width="0.05">G</text>
<text transform="translate(577.35,238.30) scale(8.267,0.872)" font-size="1" font-weight="bold" fill="#e63030" stroke="#e63030" stroke-width="0.05">T</text>
<text transform="translate(577.35,237.70) scale(6.993,13.081)" font-size="1" font-weight="bold" fill="#3cc93c" stroke="#3cc93c" stroke-width="0.05">A</text>
<text transform="translate(582.40,238.70) scale(6.492,0.581)" font-size="1" font-weight="bold" fill="#f2a634" stroke="#f2a634" stroke-width="0.05">G</text>
<text transform="translate(582.40,238.30) scale(6.993,0.872)" font-size="1" font-weight="bold" fill="#2b2bee" stroke="#2b2bee" stroke-width="0.05">C</text>
<text transform="translate(582.40,237.70) scale(6.993,13.081)" font-size="1" font-weight="bold" fill="#3cc93c" stroke="#3cc93c" stroke-width="0.05">A</text>
<text transform="translate(587.45,238.70) scale(6.993,0.581)" font-size="1" font-weight="bold" fill="#2b2bee" stroke="#2b2bee" stroke-width="0.05">C</text>
<text transform="translate(587.45,238.30) scale(8.267,0.872)" font-size="1" font-weight="bold" fill="#e63030" stroke="#e63030" stroke-width="0.05">T</text>
<text transform="translate(587.45,237.70) scale(6.492,13.081)" font-size="1" font-weight="bold" fill="#f2a634" stroke="#f2a634" stroke-width="0.05">G</text>
<text transform="translate(592.50,238.70) scale(6.993,1.453)" font-size="1" font-weight="bold" fill="#3cc93c" stroke="#3cc93c" stroke-width="0.05">A</text>
<text transform="translate(592.50,237.70) scale(6.993,2.326)" font-size="1" font-weight="bold" fill="#2b2bee" stroke="#2b2bee" stroke-width="0.05">C</text>
<text transform="translate(592.50,236.10) scale(6.492,3.488)" font-size="1" font-weight="bold" fill="#f2a634" stroke="#f2a634" stroke-width="0.05">G</text>
<text transform="translate(592.50,233.70) scale(8.267,4.942)" font-size="1" font-weight="bold" fill="#e63030" stroke="#e63030" stroke-width="0.05">T</text>
<text transform="translate(597.55,238.70) scale(8.267,1.453)" font-size="1" font-weight="bold" fill="#e63030" stroke="#e63030" stroke-width="0.05">T</text>
<text transform="translate(597.55,237.70) scale(6.993,2.326)" font-size="1" font-weight="bold" fill="#3cc93c" stroke="#3cc93c" stroke-width="0.05">A</text>
<text transform="translate(597.55,236.10) scale(6.993,3.488)" font-size="1" font-weight="bold" fill="#2b2bee" stroke="#2b2bee" stroke-width="0.05">C</text>
<text transform="translate(597.55,233.70) scale(6.492,4.942)" font-size="1" font-weight="bold" fill="#f2a634" stroke="#f2a634" stroke-width="0.05">G</text>
<text x="610.30" y="256.60" font-size="8.00" fill="#333" stroke="#333" stroke-width="0.249">Six1</text>
<text x="640.90" y="256.60" font-size="8.00" fill="#333" stroke="#333" stroke-width="0.249">0.0000</text>
<text transform="translate(546.90,257.70) scale(8.281,1.453)" font-size="1" font-weight="bold" fill="#e63030" stroke="#e63030" stroke-width="0.05">T</text>
<text transform="translate(546.90,256.70) scale(7.004,2.326)" font-size="1" font-weight="bold" fill="#2b2bee" stroke="#2b2bee" stroke-width="0.05">C</text>
<text transform="translate(546.90,255.10) scale(7.004,3.488)" font-size="1" font-weight="bold" fill="#3cc93c" stroke="#3cc93c" stroke-width="0.05">A</text>
<text transform="translate(546.90,252.70) scale(6.503,4.942)" font-size="1" font-weight="bold" fill="#f2a634" stroke="#f2a634" stroke-width="0.05">G</text>
<text transform="translate(551.96,257.70) scale(7.004,1.453)" font-size="1" font-weight="bold" fill="#2b2bee" stroke="#2b2bee" stroke-width="0.05">C</text>
<text transform="translate(551.96,256.70) scale(8.281,2.326)" font-size="1" font-weight="bold" fill="#e63030" stroke="#e63030" stroke-width="0.05">T</text>
<text transform="translate(551.96,255.10) scale(7.004,3.488)" font-size="1" font-weight="bold" fill="#3cc93c" stroke="#3cc93c" stroke-width="0.05">A</text>
<text transform="translate(551.96,252.70) scale(6.503,4.942)" font-size="1" font-weight="bold" fill="#f2a634" stroke="#f2a634" stroke-width="0.05">G</text>
<text transform="translate(557.02,257.70) scale(7.004,1.453)" font-size="1" font-weight="bold" fill="#2b2bee" stroke="#2b2bee" stroke-width="0.05">C</text>
<text transform="translate(557.02,256.70) scale(6.503,2.326)" font-size="1" font-weight="bold" fill="#f2a634" stroke="#f2a634" stroke-width="0.05">G</text>
<text transform="translate(557.02,255.10) scale(8.281,3.488)" font-size="1" font-weight="bold" fill="#e63030" stroke="#e63030" stroke-width="0.05">T</text>
<text transform="translate(557.02,252.70) scale(7.004,4.942)" font-size="1" font-weight="bold" fill="#3cc93c" stroke="#3cc93c" stroke-width="0.05">A</text>
<text transform="translate(562.08,257.70) scale(6.503,0.581)" font-size="1" font-weight="bold" fill="#f2a634" stroke="#f2a634" stroke-width="0.05">G</text>
<text transform="translate(562.08,257.30) scale(7.004,0.872)" font-size="1" font-weight="bold" fill="#2b2bee" stroke="#2b2bee" stroke-width="0.05">C</text>
<text transform="translate(562.08,256.70) scale(8.281,13.081)" font-size="1" font-weight="bold" fill="#e63030" stroke="#e63030" stroke-width="0.05">T</text>
<text transform="translate(567.13,257.70) scale(8.281,0.581)" font-size="1" font-weight="bold" fill="#e63030" stroke="#e63030" stroke-width="0.05">T</text>
<text transform="translate(567.13,257.30) scale(7.004,0.872)" font-size="1" font-weight="bold" fill="#3cc93c" stroke="#3cc93c" stroke-width="0.05">A</text>
<text transform="translate(567.13,256.70) scale(7.004,13.081)" font-size="1" font-weight="bold" fill="#2b2bee" stroke="#2b2bee" stroke-width="0.05">C</text>
<text transform="translate(572.19,257.70) scale(7.004,0.581)" font-size="1" font-weight="bold" fill="#2b2bee" stroke="#2b2bee" stroke-width="0.05">C</text>
<text transform="translate(572.19,257.30) scale(8.281,0.872)" font-size="1" font-weight="bold" fill="#e63030" stroke="#e63030" stroke-width="0.05">T</text>
<text transform="translate(572.19,256.70) scale(7.004,13.081)" font-size="1" font-weight="bold" fill="#3cc93c" stroke="#3cc93c" stroke-width="0.05">A</text>
<text transform="translate(577.25,257.70) scale(7.004,1.453)" font-size="1" font-weight="bold" fill="#3cc93c" stroke="#3cc93c" stroke-width="0.05">A</text>
<text transform="translate(577.25,256.70) scale(8.281,2.326)" font-size="1" font-weight="bold" fill="#e63030" stroke="#e63030" stroke-width="0.05">T</text>
<text transform="translate(577.25,255.10) scale(7.004,3.488)" font-size="1" font-weight="bold" fill="#2b2bee" stroke="#2b2bee" stroke-width="0.05">C</text>
<text transform="translate(577.25,252.70) scale(6.503,4.942)" font-size="1" font-weight="bold" fill="#f2a634" stroke="#f2a634" stroke-width="0.05">G</text>
<text transform="translate(582.31,257.70) scale(7.004,1.453)" font-size="1" font-weight="bold" fill="#2b2bee" stroke="#2b2bee" stroke-width="0.05">C</text>
<text transform="translate(582.31,256.70) scale(7.004,2.326)" font-size="1" font-weight="bold" fill="#3cc93c" stroke="#3cc93c" stroke-width="0.05">A</text>
<text transform="translate(582.31,255.10) scale(8.281,3.488)" font-size="1" font-weight="bold" fill="#e63030" stroke="#e63030" stroke-width="0.05">T</text>
<text transform="translate(582.31,252.70) scale(6.503,4.942)" font-size="1" font-weight="bold" fill="#f2a634" stroke="#f2a634" stroke-width="0.05">G</text>
<text transform="translate(587.37,257.70) scale(7.004,0.581)" font-size="1" font-weight="bold" fill="#2b2bee" stroke="#2b2bee" stroke-width="0.05">C</text>
<text transform="translate(587.37,257.30) scale(6.503,0.872)" font-size="1" font-weight="bold" fill="#f2a634" stroke="#f2a634" stroke-width="0.05">G</text>
<text transform="translate(587.37,256.70) scale(8.281,13.081)" font-size="1" font-weight="bold" fill="#e63030" stroke="#e63030" stroke-width="0.05">T</text>
<text transform="translate(592.42,257.70) scale(7.004,0.581)" font-size="1" font-weight="bold" fill="#2b2bee" stroke="#2b2bee" stroke-width="0.05">C</text>
<text transform="translate(592.42,257.30) scale(6.503,0.872)" font-size="1" font-weight="bold" fill="#f2a634" stroke="#f2a634" stroke-width="0.05">G</text>
<text transform="translate(592.42,256.70) scale(8.281,13.081)" font-size="1" font-weight="bold" fill="#e63030" stroke="#e63030" stroke-width="0.05">T</text>
<text transform="translate(597.48,257.70) scale(6.503,1.453)" font-size="1" font-weight="bold" fill="#f2a634" stroke="#f2a634" stroke-width="0.05">G</text>
<text transform="translate(597.48,256.70) scale(8.281,2.326)" font-size="1" font-weight="bold" fill="#e63030" stroke="#e63030" stroke-width="0.05">T</text>
<text transform="translate(597.48,255.10) scale(7.004,3.488)" font-size="1" font-weight="bold" fill="#2b2bee" stroke="#2b2bee" stroke-width="0.05">C</text>
<text transform="translate(597.48,252.70) scale(7.004,4.942)" font-size="1" font-weight="bold" fill="#3cc93c" stroke="#3cc93c" stroke-width="0.05">A</text>
<text transform="translate(602.54,257.70) scale(8.281,0.581)" font-size="1" font-weight="bold" fill="#e63030" stroke="#e63030" stroke-width="0.05">T</text>
<text transform="translate(602.54,257.30) scale(6.503,0.872)" font-size="1" font-weight="bold" fill="#f2a634" stroke="#f2a634" stroke-width="0.05">G</text>
<text transform="translate(602.54,256.70) scale(7.004,13.081)" font-size="1" font-weight="bold" fill="#2b2bee" stroke="#2b2bee" stroke-width="0.05">C</text>
<text x="610.30" y="275.20" font-size="8.00" fill="#333" stroke="#333" stroke-width="0.249">ETS1</text>
<text x="640.90" y="275.20" font-size="8.00" fill="#333" stroke="#333" stroke-width="0.249">0.0000</text>
<text transform="translate(552.10,277.10) scale(8.267,1.453)" font-size="1" font-weight="bold" fill="#e63030" stroke="#e63030" stroke-width="0.05">T</text>
<text transform="translate(552.10,276.10) scale(6.993,2.326)" font-size="1" font-weight="bold" fill="#3cc93c" stroke="#3cc93c" stroke-width="0.05">A</text>
<text transform="translate(552.10,274.50) scale(6.492,3.488)" font-size="1" font-weight="bold" fill="#f2a634" stroke="#f2a634" stroke-width="0.05">G</text>
<text transform="translate(552.10,272.10) scale(6.993,4.942)" font-size="1" font-weight="bold" fill="#2b2bee" stroke="#2b2bee" stroke-width="0.05">C</text>
<text transform="translate(557.15,277.10) scale(6.993,1.453)" font-size="1" font-weight="bold" fill="#2b2bee" stroke="#2b2bee" stroke-width="0.05">C</text>
<text transform="translate(557.15,276.10) scale(8.267,2.326)" font-size="1" font-weight="bold" fill="#e63030" stroke="#e63030" stroke-width="0.05">T</text>
<text transform="translate(557.15,274.50) scale(6.492,3.488)" font-size="1" font-weight="bold" fill="#f2a634" stroke="#f2a634" stroke-width="0.05">G</text>
<text transform="translate(557.15,272.10) scale(6.993,4.942)" font-size="1" font-weight="bold" fill="#3cc93c" stroke="#3cc93c" stroke-width="0.05">A</text>
<text transform="translate(562.20,277.10) scale(6.993,0.581)" font-size="1" font-weight="bold" fill="#3cc93c" stroke="#3cc93c" stroke-width="0.05">A</text>
<text transform="translate(562.20,276.70) scale(6.492,0.872)" font-size="1" font-weight="bold" fill="#f2a634" stroke="#f2a634" stroke-width="0.05">G</text>
<text transform="translate(562.20,276.10) scale(6.993,13.081)" font-size="1" font-weight="bold" fill="#2b2bee" stroke="#2b2bee" stroke-width="0.05">C</text>
<text transform="translate(567.25,277.10) scale(6.993,0.581)" font-size="1" font-weight="bold" fill="#3cc93c" stroke="#3cc93c" stroke-width="0.05">A</text>
<text transform="translate(567.25,276.70) scale(6.492,0.872)" font-size="1" font-weight="bold" fill="#f2a634" stroke="#f2a634" stroke-width="0.05">G</text>
<text transform="translate(567.25,276.10) scale(8.267,13.081)" font-size="1" font-weight="bold" fill="#e63030" stroke="#e63030" stroke-width="0.05">T</text>
<text transform="translate(572.30,277.10) scale(6.993,0.581)" font-size="1" font-weight="bold" fill="#3cc93c" stroke="#3cc93c" stroke-width="0.05">A</text>
<text transform="translate(572.30,276.70) scale(6.492,0.872)" font-size="1" font-weight="bold" fill="#f2a634" stroke="#f2a634" stroke-width="0.05">G</text>
<text transform="translate(572.30,276.10) scale(8.267,13.081)" font-size="1" font-weight="bold" fill="#e63030" stroke="#e63030" stroke-width="0.05">T</text>
<text transform="translate(577.35,277.10) scale(6.492,0.581)" font-size="1" font-weight="bold" fill="#f2a634" stroke="#f2a634" stroke-width="0.05">G</text>
<text transform="translate(577.35,276.70) scale(6.993,0.872)" font-size="1" font-weight="bold" fill="#3cc93c" stroke="#3cc93c" stroke-width="0.05">A</text>
<text transform="translate(577.35,276.10) scale(6.993,13.081)" font-size="1" font-weight="bold" fill="#2b2bee" stroke="#2b2bee" stroke-width="0.05">C</text>
<text transform="translate(582.40,277.10) scale(6.492,0.581)" font-size="1" font-weight="bold" fill="#f2a634" stroke="#f2a634" stroke-width="0.05">G</text>
<text transform="translate(582.40,276.70) scale(8.267,0.872)" font-size="1" font-weight="bold" fill="#e63030" stroke="#e63030" stroke-width="0.05">T</text>
<text transform="translate(582.40,276.10) scale(6.993,13.081)" font-size="1" font-weight="bold" fill="#2b2bee" stroke="#2b2bee" stroke-width="0.05">C</text>
<text transform="translate(587.45,277.10) scale(8.267,1.453)" font-size="1" font-weight="bold" fill="#e63030" stroke="#e63030" stroke-width="0.05">T</text>
<text transform="translate(587.45,276.10) scale(6.993,2.326)" font-size="1" font-weight="bold" fill="#2b2bee" stroke="#2b2bee" stroke-width="0.05">C</text>
<text transform="translate(587.45,274.50) scale(6.993,3.488)" font-size="1" font-weight="bold" fill="#3cc93c" stroke="#3cc93c" stroke-width="0.05">A</text>
<text transform="translate(587.45,272.10) scale(6.492,4.942)" font-size="1" font-weight="bold" fill="#f2a634" stroke="#f2a634" stroke-width="0.05">G</text>
<text transform="translate(592.50,277.10) scale(8.267,1.453)" font-size="1" font-weight="bold" fill="#e63030" stroke="#e63030" stroke-width="0.05">T</text>
<text transform="translate(592.50,276.10) scale(6.993,2.326)" font-size="1" font-weight="bold" fill="#2b2bee" stroke="#2b2bee" stroke-width="0.05">C</text>
<text transform="translate(592.50,274.50) scale(6.993,3.488)" font-size="1" font-weight="bold" fill="#3cc93c" stroke="#3cc93c" stroke-width="0.05">A</text>
<text transform="translate(592.50,272.10) scale(6.492,4.942)" font-size="1" font-weight="bold" fill="#f2a634" stroke="#f2a634" stroke-width="0.05">G</text>
<text transform="translate(597.55,277.10) scale(6.993,1.453)" font-size="1" font-weight="bold" fill="#2b2bee" stroke="#2b2bee" stroke-width="0.05">C</text>
<text transform="translate(597.55,276.10) scale(6.993,2.326)" font-size="1" font-weight="bold" fill="#3cc93c" stroke="#3cc93c" stroke-width="0.05">A</text>
<text transform="translate(597.55,274.50) scale(6.492,3.488)" font-size="1" font-weight="bold" fill="#f2a634" stroke="#f2a634" stroke-width="0.05">G</text>
<text transform="translate(597.55,272.10) scale(8.267,4.942)" font-size="1" font-weight="bold" fill="#e63030" stroke="#e63030" stroke-width="0.05">T</text>
<text x="612.60" y="293.80" font-size="8.00" fill="#333" stroke="#333" stroke-width="0.249">Fli1</text>
<text x="641.60" y="293.80" font-size="8.00" fill="#333" stroke="#333" stroke-width="0.249">0.0000</text>
<text transform="translate(552.10,295.80) scale(8.267,1.453)" font-size="1" font-weight="bold" fill="#e63030" stroke="#e63030" stroke-width="0.05">T</text>
<text transform="translate(552.10,294.80) scale(6.492,2.326)" font-size="1" font-weight="bold" fill="#f2a634" stroke="#f2a634" stroke-width="0.05">G</text>
<text transform="translate(552.10,293.20) scale(6.993,3.488)" font-size="1" font-weight="bold" fill="#3cc93c" stroke="#3cc93c" stroke-width="0.05">A</text>
<text transform="translate(552.10,290.80) scale(6.993,4.942)" font-size="1" font-weight="bold" fill="#2b2bee" stroke="#2b2bee" stroke-width="0.05">C</text>
<text transform="translate(557.15,295.80) scale(6.993,1.453)" font-size="1" font-weight="bold" fill="#3cc93c" stroke="#3cc93c" stroke-width="0.05">A</text>
<text transform="translate(557.15,294.80) scale(8.267,2.326)" font-size="1" font-weight="bold" fill="#e63030" stroke="#e63030" stroke-width="0.05">T</text>
<text transform="translate(557.15,293.20) scale(6.492,3.488)" font-size="1" font-weight="bold" fill="#f2a634" stroke="#f2a634" stroke-width="0.05">G</text>
<text transform="translate(557.15,290.80) scale(6.993,4.942)" font-size="1" font-weight="bold" fill="#2b2bee" stroke="#2b2bee" stroke-width="0.05">C</text>
<text transform="translate(562.20,295.80) scale(6.492,1.453)" font-size="1" font-weight="bold" fill="#f2a634" stroke="#f2a634" stroke-width="0.05">G</text>
<text transform="translate(562.20,294.80) scale(8.267,2.326)" font-size="1" font-weight="bold" fill="#e63030" stroke="#e63030" stroke-width="0.05">T</text>
<text transform="translate(562.20,293.20) scale(6.993,3.488)" font-size="1" font-weight="bold" fill="#2b2bee" stroke="#2b2bee" stroke-width="0.05">C</text>
<text transform="translate(562.20,290.80) scale(6.993,4.942)" font-size="1" font-weight="bold" fill="#3cc93c" stroke="#3cc93c" stroke-width="0.05">A</text>
<text transform="translate(567.25,295.80) scale(6.993,0.581)" font-size="1" font-weight="bold" fill="#3cc93c" stroke="#3cc93c" stroke-width="0.05">A</text>
<text transform="translate(567.25,295.40) scale(6.492,0.872)" font-size="1" font-weight="bold" fill="#f2a634" stroke="#f2a634" stroke-width="0.05">G</text>
<text transform="translate(567.25,294.80) scale(6.993,13.081)" font-size="1" font-weight="bold" fill="#2b2bee" stroke="#2b2bee" stroke-width="0.05">C</text>
<text transform="translate(572.30,295.80) scale(8.267,0.581)" font-size="1" font-weight="bold" fill="#e63030" stroke="#e63030" stroke-width="0.05">T</text>
<text transform="translate(572.30,295.40) scale(6.492,0.872)" font-size="1" font-weight="bold" fill="#f2a634" stroke="#f2a634" stroke-width="0.05">G</text>
<text transform="translate(572.30,294.80) scale(6.993,13.081)" font-size="1" font-weight="bold" fill="#3cc93c" stroke="#3cc93c" stroke-width="0.05">A</text>
<text transform="translate(577.35,295.80) scale(6.993,0.581)" font-size="1" font-weight="bold" fill="#2b2bee" stroke="#2b2bee" stroke-width="0.05">C</text>
<text transform="translate(577.35,295.40) scale(6.492,0.872)" font-size="1" font-weight="bold" fill="#f2a634" stroke="#f2a634" stroke-width="0.05">G</text>
<text transform="translate(577.35,294.80) scale(8.267,13.081)" font-size="1" font-weight="bold" fill="#e63030" stroke="#e63030" stroke-width="0.05">T</text>
<text transform="translate(582.40,295.80) scale(6.993,0.581)" font-size="1" font-weight="bold" fill="#2b2bee" stroke="#2b2bee" stroke-width="0.05">C</text>
<text transform="translate(582.40,295.40) scale(6.492,0.872)" font-size="1" font-weight="bold" fill="#f2a634" stroke="#f2a634" stroke-width="0.05">G</text>
<text transform="translate(582.40,294.80) scale(8.267,13.081)" font-size="1" font-weight="bold" fill="#e63030" stroke="#e63030" stroke-width="0.05">T</text>
<text transform="translate(587.45,295.80) scale(8.267,0.581)" font-size="1" font-weight="bold" fill="#e63030" stroke="#e63030" stroke-width="0.05">T</text>
<text transform="translate(587.45,295.40) scale(6.993,0.872)" font-size="1" font-weight="bold" fill="#3cc93c" stroke="#3cc93c" stroke-width="0.05">A</text>
<text transform="translate(587.45,294.80) scale(6.993,13.081)" font-size="1" font-weight="bold" fill="#2b2bee" stroke="#2b2bee" stroke-width="0.05">C</text>
<text transform="translate(592.50,295.80) scale(6.492,0.581)" font-size="1" font-weight="bold" fill="#f2a634" stroke="#f2a634" stroke-width="0.05">G</text>
<text transform="translate(592.50,295.40) scale(6.993,0.872)" font-size="1" font-weight="bold" fill="#3cc93c" stroke="#3cc93c" stroke-width="0.05">A</text>
<text transform="translate(592.50,294.80) scale(6.993,13.081)" font-size="1" font-weight="bold" fill="#2b2bee" stroke="#2b2bee" stroke-width="0.05">C</text>
<text transform="translate(597.55,295.80) scale(8.267,1.453)" font-size="1" font-weight="bold" fill="#e63030" stroke="#e63030" stroke-width="0.05">T</text>
<text transform="translate(597.55,294.80) scale(6.993,2.326)" font-size="1" font-weight="bold" fill="#2b2bee" stroke="#2b2bee" stroke-width="0.05">C</text>
<text transform="translate(597.55,293.20) scale(6.492,3.488)" font-size="1" font-weight="bold" fill="#f2a634" stroke="#f2a634" stroke-width="0.05">G</text>
<text transform="translate(597.55,290.80) scale(6.993,4.942)" font-size="1" font-weight="bold" fill="#3cc93c" stroke="#3cc93c" stroke-width="0.05">A</text>
<text x="610.30" y="309.60" font-size="8.00" fill="#333" stroke="#333" stroke-width="0.249">TEAD1</text>
<text x="640.90" y="309.60" font-size="8.00" fill="#333" stroke="#333" stroke-width="0.249">0.0000</text>
<text transform="translate(552.10,311.00) scale(6.492,1.453)" font-size="1" font-weight="bold" fill="#f2a634" stroke="#f2a634" stroke-width="0.05">G</text>
<text transform="translate(552.10,310.00) scale(6.993,2.326)" font-size="1" font-weight="bold" fill="#3cc93c" stroke="#3cc93c" stroke-width="0.05">A</text>
<text transform="translate(552.10,308.40) scale(6.993,3.488)" font-size="1" font-weight="bold" fill="#2b2bee" stroke="#2b2bee" stroke-width="0.05">C</text>
<text transform="translate(552.10,306.00) scale(8.267,4.942)" font-size="1" font-weight="bold" fill="#e63030" stroke="#e63030" stroke-width="0.05">T</text>
<text transform="translate(557.15,311.00) scale(6.993,1.453)" font-size="1" font-weight="bold" fill="#3cc93c" stroke="#3cc93c" stroke-width="0.05">A</text>
<text transform="translate(557.15,310.00) scale(8.267,2.326)" font-size="1" font-weight="bold" fill="#e63030" stroke="#e63030" stroke-width="0.05">T</text>
<text transform="translate(557.15,308.40) scale(6.993,3.488)" font-size="1" font-weight="bold" fill="#2b2bee" stroke="#2b2bee" stroke-width="0.05">C</text>
<text transform="translate(557.15,306.00) scale(6.492,4.942)" font-size="1" font-weight="bold" fill="#f2a634" stroke="#f2a634" stroke-width="0.05">G</text>
<text transform="translate(562.20,311.00) scale(6.492,1.453)" font-size="1" font-weight="bold" fill="#f2a634" stroke="#f2a634" stroke-width="0.05">G</text>
<text transform="translate(562.20,310.00) scale(6.993,2.326)" font-size="1" font-weight="bold" fill="#3cc93c" stroke="#3cc93c" stroke-width="0.05">A</text>
<text transform="translate(562.20,308.40) scale(8.267,3.488)" font-size="1" font-weight="bold" fill="#e63030" stroke="#e63030" stroke-width="0.05">T</text>
<text transform="translate(562.20,306.00) scale(6.993,4.942)" font-size="1" font-weight="bold" fill="#2b2bee" stroke="#2b2bee" stroke-width="0.05">C</text>
<text transform="translate(567.25,311.00) scale(8.267,0.581)" font-size="1" font-weight="bold" fill="#e63030" stroke="#e63030" stroke-width="0.05">T</text>
<text transform="translate(567.25,310.60) scale(6.492,0.872)" font-size="1" font-weight="bold" fill="#f2a634" stroke="#f2a634" stroke-width="0.05">G</text>
<text transform="translate(567.25,310.00) scale(6.993,13.081)" font-size="1" font-weight="bold" fill="#3cc93c" stroke="#3cc93c" stroke-width="0.05">A</text>
<text transform="translate(572.30,311.00) scale(6.993,0.581)" font-size="1" font-weight="bold" fill="#3cc93c" stroke="#3cc93c" stroke-width="0.05">A</text>
<text transform="translate(572.30,310.60) scale(6.993,0.872)" font-size="1" font-weight="bold" fill="#2b2bee" stroke="#2b2bee" stroke-width="0.05">C</text>
<text transform="translate(572.30,310.00) scale(8.267,13.081)" font-size="1" font-weight="bold" fill="#e63030" stroke="#e63030" stroke-width="0.05">T</text>
<text transform="translate(577.35,311.00) scale(6.492,0.581)" font-size="1" font-weight="bold" fill="#f2a634" stroke="#f2a634" stroke-width="0.05">G</text>
<text transform="translate(577.35,310.60) scale(6.993,0.872)" font-size="1" font-weight="bold" fill="#3cc93c" stroke="#3cc93c" stroke-width="0.05">A</text>
<text transform="translate(577.35,310.00) scale(8.267,13.081)" font-size="1" font-weight="bold" fill="#e63030" stroke="#e63030" stroke-width="0.05">T</text>
<text transform="translate(582.40,311.00) scale(8.267,0.581)" font-size="1" font-weight="bold" fill="#e63030" stroke="#e63030" stroke-width="0.05">T</text>
<text transform="translate(582.40,310.60) scale(6.492,0.872)" font-size="1" font-weight="bold" fill="#f2a634" stroke="#f2a634" stroke-width="0.05">G</text>
<text transform="translate(582.40,310.00) scale(6.993,13.081)" font-size="1" font-weight="bold" fill="#2b2bee" stroke="#2b2bee" stroke-width="0.05">C</text>
<text transform="translate(587.45,311.00) scale(6.993,0.581)" font-size="1" font-weight="bold" fill="#3cc93c" stroke="#3cc93c" stroke-width="0.05">A</text>
<text transform="translate(587.45,310.60) scale(6.492,0.872)" font-size="1" font-weight="bold" fill="#f2a634" stroke="#f2a634" stroke-width="0.05">G</text>
<text transform="translate(587.45,310.00) scale(6.993,13.081)" font-size="1" font-weight="bold" fill="#2b2bee" stroke="#2b2bee" stroke-width="0.05">C</text>
<text transform="translate(592.50,311.00) scale(6.993,1.453)" font-size="1" font-weight="bold" fill="#2b2bee" stroke="#2b2bee" stroke-width="0.05">C</text>
<text transform="translate(592.50,310.00) scale(8.267,2.326)" font-size="1" font-weight="bold" fill="#e63030" stroke="#e63030" stroke-width="0.05">T</text>
<text transform="translate(592.50,308.40) scale(6.492,3.488)" font-size="1" font-weight="bold" fill="#f2a634" stroke="#f2a634" stroke-width="0.05">G</text>
<text transform="translate(592.50,306.00) scale(6.993,4.942)" font-size="1" font-weight="bold" fill="#3cc93c" stroke="#3cc93c" stroke-width="0.05">A</text>
<text transform="translate(597.55,311.00) scale(6.993,1.453)" font-size="1" font-weight="bold" fill="#2b2bee" stroke="#2b2bee" stroke-width="0.05">C</text>
<text transform="translate(597.55,310.00) scale(8.267,2.326)" font-size="1" font-weight="bold" fill="#e63030" stroke="#e63030" stroke-width="0.05">T</text>
<text transform="translate(597.55,308.40) scale(6.993,3.488)" font-size="1" font-weight="bold" fill="#3cc93c" stroke="#3cc93c" stroke-width="0.05">A</text>
<text transform="translate(597.55,306.00) scale(6.492,4.942)" font-size="1" font-weight="bold" fill="#f2a634" stroke="#f2a634" stroke-width="0.05">G</text>
<text x="610.30" y="326.60" font-size="8.00" fill="#333" stroke="#333" stroke-width="0.249">TEAD3</text>
<text x="640.90" y="326.60" font-size="8.00" fill="#333" stroke="#333" stroke-width="0.249">0.0000</text>
<text transform="translate(552.10,328.70) scale(8.267,1.453)" font-size="1" font-weight="bold" fill="#e63030" stroke="#e63030" stroke-width="0.05">T</text>
<text transform="translate(552.10,327.70) scale(6.492,2.326)" font-size="1" font-weight="bold" fill="#f2a634" stroke="#f2a634" stroke-width="0.05">G</text>
<text transform="translate(552.10,326.10) scale(6.993,3.488)" font-size="1" font-weight="bold" fill="#2b2bee" stroke="#2b2bee" stroke-width="0.05">C</text>
<text transform="translate(552.10,323.70) scale(6.993,4.942)" font-size="1" font-weight="bold" fill="#3cc93c" stroke="#3cc93c" stroke-width="0.05">A</text>
<text transform="translate(557.15,328.70) scale(8.267,1.453)" font-size="1" font-weight="bold" fill="#e63030" stroke="#e63030" stroke-width="0.05">T</text>
<text transform="translate(557.15,327.70) scale(6.492,2.326)" font-size="1" font-weight="bold" fill="#f2a634" stroke="#f2a634" stroke-width="0.05">G</text>
<text transform="translate(557.15,326.10) scale(6.993,3.488)" font-size="1" font-weight="bold" fill="#2b2bee" stroke="#2b2bee" stroke-width="0.05">C</text>
<text transform="translate(557.15,323.70) scale(6.993,4.942)" font-size="1" font-weight="bold" fill="#3cc93c" stroke="#3cc93c" stroke-width="0.05">A</text>
<text transform="translate(562.20,328.70) scale(6.993,0.581)" font-size="1" font-weight="bold" fill="#3cc93c" stroke="#3cc93c" stroke-width="0.05">A</text>
<text transform="translate(562.20,328.30) scale(6.492,0.872)" font-size="1" font-weight="bold" fill="#f2a634" stroke="#f2a634" stroke-width="0.05">G</text>
<text transform="translate(562.20,327.70) scale(6.993,13.081)" font-size="1" font-weight="bold" fill="#2b2bee" stroke="#2b2bee" stroke-width="0.05">C</text>
<text transform="translate(567.25,328.70) scale(6.492,1.453)" font-size="1" font-weight="bold" fill="#f2a634" stroke="#f2a634" stroke-width="0.05">G</text>
<text transform="translate(567.25,327.70) scale(6.993,2.326)" font-size="1" font-weight="bold" fill="#3cc93c" stroke="#3cc93c" stroke-width="0.05">A</text>
<text transform="translate(567.25,326.10) scale(8.267,3.488)" font-size="1" font-weight="bold" fill="#e63030" stroke="#e63030" stroke-width="0.05">T</text>
<text transform="translate(567.25,323.70) scale(6.993,4.942)" font-size="1" font-weight="bold" fill="#2b2bee" stroke="#2b2bee" stroke-width="0.05">C</text>
<text transform="translate(572.30,328.70) scale(6.993,0.581)" font-size="1" font-weight="bold" fill="#3cc93c" stroke="#3cc93c" stroke-width="0.05">A</text>
<text transform="translate(572.30,328.30) scale(6.993,0.872)" font-size="1" font-weight="bold" fill="#2b2bee" stroke="#2b2bee" stroke-width="0.05">C</text>
<text transform="translate(572.30,327.70) scale(6.492,13.081)" font-size="1" font-weight="bold" fill="#f2a634" stroke="#f2a634" stroke-width="0.05">G</text>
<text transform="translate(577.35,328.70) scale(8.267,0.581)" font-size="1" font-weight="bold" fill="#e63030" stroke="#e63030" stroke-width="0.05">T</text>
<text transform="translate(577.35,328.30) scale(6.993,0.872)" font-size="1" font-weight="bold" fill="#2b2bee" stroke="#2b2bee" stroke-width="0.05">C</text>
<text transform="translate(577.35,327.70) scale(6.492,13.081)" font-size="1" font-weight="bold" fill="#f2a634" stroke="#f2a634" stroke-width="0.05">G</text>
<text transform="translate(582.40,328.70) scale(8.267,0.581)" font-size="1" font-weight="bold" fill="#e63030" stroke="#e63030" stroke-width="0.05">T</text>
<text transform="translate(582.40,328.30) scale(6.993,0.872)" font-size="1" font-weight="bold" fill="#2b2bee" stroke="#2b2bee" stroke-width="0.05">C</text>
<text transform="translate(582.40,327.70) scale(6.993,13.081)" font-size="1" font-weight="bold" fill="#3cc93c" stroke="#3cc93c" stroke-width="0.05">A</text>
<text transform="translate(587.45,328.70) scale(6.492,0.581)" font-size="1" font-weight="bold" fill="#f2a634" stroke="#f2a634" stroke-width="0.05">G</text>
<text transform="translate(587.45,328.30) scale(8.267,0.872)" font-size="1" font-weight="bold" fill="#e63030" stroke="#e63030" stroke-width="0.05">T</text>
<text transform="translate(587.45,327.70) scale(6.993,13.081)" font-size="1" font-weight="bold" fill="#3cc93c" stroke="#3cc93c" stroke-width="0.05">A</text>
<text transform="translate(592.50,328.70) scale(6.993,0.581)" font-size="1" font-weight="bold" fill="#3cc93c" stroke="#3cc93c" stroke-width="0.05">A</text>
<text transform="translate(592.50,328.30) scale(6.993,0.872)" font-size="1" font-weight="bold" fill="#2b2bee" stroke="#2b2bee" stroke-width="0.05">C</text>
<text transform="translate(592.50,327.70) scale(6.492,13.081)" font-size="1" font-weight="bold" fill="#f2a634" stroke="#f2a634" stroke-width="0.05">G</text>
<text transform="translate(597.55,328.70) scale(6.492,1.453)" font-size="1" font-weight="bold" fill="#f2a634" stroke="#f2a634" stroke-width="0.05">G</text>
<text transform="translate(597.55,327.70) scale(6.993,2.326)" font-size="1" font-weight="bold" fill="#3cc93c" stroke="#3cc93c" stroke-width="0.05">A</text>
<text transform="translate(597.55,326.10) scale(6.993,3.488)" font-size="1" font-weight="bold" fill="#2b2bee" stroke="#2b2bee" stroke-width="0.05">C</text>
<text transform="translate(597.55,323.70) scale(8.267,4.942)" font-size="1" font-weight="bold" fill="#e63030" stroke="#e63030" stroke-width="0.05">T</text>
<text x="610.30" y="347.00" font-size="8.00" fill="#333" stroke="#333" stroke-width="0.249">GABPA</text>
<text x="640.90" y="347.00" font-size="8.00" fill="#333" stroke="#333" stroke-width="0.249">0.0000</text>
<text transform="translate(552.10,347.60) scale(8.267,1.453)" font-size="1" font-weight="bold" fill="#e63030" stroke="#e63030" stroke-width="0.05">T</text>
<text transform="translate(552.10,346.60) scale(6.993,2.326)" font-size="1" font-weight="bold" fill="#3cc93c" stroke="#3cc93c" stroke-width="0.05">A</text>
<text transform="translate(552.10,345.00) scale(6.492,3.488)" font-size="1" font-weight="bold" fill="#f2a634" stroke="#f2a634" stroke-width="0.05">G</text>
<text transform="translate(552.10,342.60) scale(6.993,4.942)" font-size="1" font-weight="bold" fill="#2b2bee" stroke="#2b2bee" stroke-width="0.05">C</text>
<text transform="translate(557.15,347.60) scale(6.492,1.453)" font-size="1" font-weight="bold" fill="#f2a634" stroke="#f2a634" stroke-width="0.05">G</text>
<text transform="translate(557.15,346.60) scale(6.993,2.326)" font-size="1" font-weight="bold" fill="#3cc93c" stroke="#3cc93c" stroke-width="0.05">A</text>
<text transform="translate(557.15,345.00) scale(8.267,3.488)" font-size="1" font-weight="bold" fill="#e63030" stroke="#e63030" stroke-width="0.05">T</text>
<text transform="translate(557.15,342.60) scale(6.993,4.942)" font-size="1" font-weight="bold" fill="#2b2bee" stroke="#2b2bee" stroke-width="0.05">C</text>
<text transform="translate(562.20,347.60) scale(6.993,1.453)" font-size="1" font-weight="bold" fill="#2b2bee" stroke="#2b2bee" stroke-width="0.05">C</text>
<text transform="translate(562.20,346.60) scale(6.492,2.326)" font-size="1" font-weight="bold" fill="#f2a634" stroke="#f2a634" stroke-width="0.05">G</text>
<text transform="translate(562.20,345.00) scale(6.993,3.488)" font-size="1" font-weight="bold" fill="#3cc93c" stroke="#3cc93c" stroke-width="0.05">A</text>
<text transform="translate(562.20,342.60) scale(8.267,4.942)" font-size="1" font-weight="bold" fill="#e63030" stroke="#e63030" stroke-width="0.05">T</text>
<text transform="translate(567.25,347.60) scale(6.993,0.581)" font-size="1" font-weight="bold" fill="#3cc93c" stroke="#3cc93c" stroke-width="0.05">A</text>
<text transform="translate(567.25,347.20) scale(6.993,0.872)" font-size="1" font-weight="bold" fill="#2b2bee" stroke="#2b2bee" stroke-width="0.05">C</text>
<text transform="translate(567.25,346.60) scale(6.492,13.081)" font-size="1" font-weight="bold" fill="#f2a634" stroke="#f2a634" stroke-width="0.05">G</text>
<text transform="translate(572.30,347.60) scale(8.267,0.581)" font-size="1" font-weight="bold" fill="#e63030" stroke="#e63030" stroke-width="0.05">T</text>
<text transform="translate(572.30,347.20) scale(6.993,0.872)" font-size="1" font-weight="bold" fill="#2b2bee" stroke="#2b2bee" stroke-width="0.05">C</text>
<text transform="translate(572.30,346.60) scale(6.492,13.081)" font-size="1" font-weight="bold" fill="#f2a634" stroke="#f2a634" stroke-width="0.05">G</text>
<text transform="translate(577.35,347.60) scale(8.267,0.581)" font-size="1" font-weight="bold" fill="#e63030" stroke="#e63030" stroke-width="0.05">T</text>
<text transform="translate(577.35,347.20) scale(6.993,0.872)" font-size="1" font-weight="bold" fill="#2b2bee" stroke="#2b2bee" stroke-width="0.05">C</text>
<text transform="translate(577.35,346.60) scale(6.993,13.081)" font-size="1" font-weight="bold" fill="#3cc93c" stroke="#3cc93c" stroke-width="0.05">A</text>
<text transform="translate(582.40,347.60) scale(6.492,0.581)" font-size="1" font-weight="bold" fill="#f2a634" stroke="#f2a634" stroke-width="0.05">G</text>
<text transform="translate(582.40,347.20) scale(8.267,0.872)" font-size="1" font-weight="bold" fill="#e63030" stroke="#e63030" stroke-width="0.05">T</text>
<text transform="translate(582.40,346.60) scale(6.993,13.081)" font-size="1" font-weight="bold" fill="#3cc93c" stroke="#3cc93c" stroke-width="0.05">A</text>
<text transform="translate(587.45,347.60) scale(6.993,0.581)" font-size="1" font-weight="bold" fill="#2b2bee" stroke="#2b2bee" stroke-width="0.05">C</text>
<text transform="translate(587.45,347.20) scale(6.492,0.872)" font-size="1" font-weight="bold" fill="#f2a634" stroke="#f2a634" stroke-width="0.05">G</text>
<text transform="translate(587.45,346.60) scale(8.267,13.081)" font-size="1" font-weight="bold" fill="#e63030" stroke="#e63030" stroke-width="0.05">T</text>
<text transform="translate(592.50,347.60) scale(6.993,1.453)" font-size="1" font-weight="bold" fill="#2b2bee" stroke="#2b2bee" stroke-width="0.05">C</text>
<text transform="translate(592.50,346.60) scale(8.267,2.326)" font-size="1" font-weight="bold" fill="#e63030" stroke="#e63030" stroke-width="0.05">T</text>
<text transform="translate(592.50,345.00) scale(6.993,3.488)" font-size="1" font-weight="bold" fill="#3cc93c" stroke="#3cc93c" stroke-width="0.05">A</text>
<text transform="translate(592.50,342.60) scale(6.492,4.942)" font-size="1" font-weight="bold" fill="#f2a634" stroke="#f2a634" stroke-width="0.05">G</text>
<text transform="translate(597.55,347.60) scale(6.993,1.453)" font-size="1" font-weight="bold" fill="#3cc93c" stroke="#3cc93c" stroke-width="0.05">A</text>
<text transform="translate(597.55,346.60) scale(6.492,2.326)" font-size="1" font-weight="bold" fill="#f2a634" stroke="#f2a634" stroke-width="0.05">G</text>
<text transform="translate(597.55,345.00) scale(8.267,3.488)" font-size="1" font-weight="bold" fill="#e63030" stroke="#e63030" stroke-width="0.05">T</text>
<text transform="translate(597.55,342.60) scale(6.993,4.942)" font-size="1" font-weight="bold" fill="#2b2bee" stroke="#2b2bee" stroke-width="0.05">C</text>
<text x="610.30" y="365.00" font-size="8.00" fill="#333" stroke="#333" stroke-width="0.249">TEAD</text>
<text x="640.90" y="365.00" font-size="8.00" fill="#333" stroke="#333" stroke-width="0.249">0.0000</text>
<text transform="translate(546.90,367.20) scale(8.281,0.581)" font-size="1" font-weight="bold" fill="#e63030" stroke="#e63030" stroke-width="0.05">T</text>
<text transform="translate(546.90,366.80) scale(7.004,0.872)" font-size="1" font-weight="bold" fill="#3cc93c" stroke="#3cc93c" stroke-width="0.05">A</text>
<text transform="translate(546.90,366.20) scale(6.503,13.081)" font-size="1" font-weight="bold" fill="#f2a634" stroke="#f2a634" stroke-width="0.05">G</text>
<text transform="translate(551.96,367.20) scale(6.503,1.453)" font-size="1" font-weight="bold" fill="#f2a634" stroke="#f2a634" stroke-width="0.05">G</text>
<text transform="translate(551.96,366.20) scale(7.004,2.326)" font-size="1" font-weight="bold" fill="#2b2bee" stroke="#2b2bee" stroke-width="0.05">C</text>
<text transform="translate(551.96,364.60) scale(8.281,3.488)" font-size="1" font-weight="bold" fill="#e63030" stroke="#e63030" stroke-width="0.05">T</text>
<text transform="translate(551.96,362.20) scale(7.004,4.942)" font-size="1" font-weight="bold" fill="#3cc93c" stroke="#3cc93c" stroke-width="0.05">A</text>
<text transform="translate(557.02,367.20) scale(7.004,0.581)" font-size="1" font-weight="bold" fill="#2b2bee" stroke="#2b2bee" stroke-width="0.05">C</text>
<text transform="translate(557.02,366.80) scale(8.281,0.872)" font-size="1" font-weight="bold" fill="#e63030" stroke="#e63030" stroke-width="0.05">T</text>
<text transform="translate(557.02,366.20) scale(7.004,13.081)" font-size="1" font-weight="bold" fill="#3cc93c" stroke="#3cc93c" stroke-width="0.05">A</text>
<text transform="translate(562.08,367.20) scale(8.281,0.581)" font-size="1" font-weight="bold" fill="#e63030" stroke="#e63030" stroke-width="0.05">T</text>
<text transform="translate(562.08,366.80) scale(7.004,0.872)" font-size="1" font-weight="bold" fill="#2b2bee" stroke="#2b2bee" stroke-width="0.05">C</text>
<text transform="translate(562.08,366.20) scale(7.004,13.081)" font-size="1" font-weight="bold" fill="#3cc93c" stroke="#3cc93c" stroke-width="0.05">A</text>
<text transform="translate(567.13,367.20) scale(7.004,1.453)" font-size="1" font-weight="bold" fill="#3cc93c" stroke="#3cc93c" stroke-width="0.05">A</text>
<text transform="translate(567.13,366.20) scale(8.281,2.326)" font-size="1" font-weight="bold" fill="#e63030" stroke="#e63030" stroke-width="0.05">T</text>
<text transform="translate(567.13,364.60) scale(6.503,3.488)" font-size="1" font-weight="bold" fill="#f2a634" stroke="#f2a634" stroke-width="0.05">G</text>
<text transform="translate(567.13,362.20) scale(7.004,4.942)" font-size="1" font-weight="bold" fill="#2b2bee" stroke="#2b2bee" stroke-width="0.05">C</text>
<text transform="translate(572.19,367.20) scale(7.004,1.453)" font-size="1" font-weight="bold" fill="#3cc93c" stroke="#3cc93c" stroke-width="0.05">A</text>
<text transform="translate(572.19,366.20) scale(6.503,2.326)" font-size="1" font-weight="bold" fill="#f2a634" stroke="#f2a634" stroke-width="0.05">G</text>
<text transform="translate(572.19,364.60) scale(8.281,3.488)" font-size="1" font-weight="bold" fill="#e63030" stroke="#e63030" stroke-width="0.05">T</text>
<text transform="translate(572.19,362.20) scale(7.004,4.942)" font-size="1" font-weight="bold" fill="#2b2bee" stroke="#2b2bee" stroke-width="0.05">C</text>
<text transform="translate(577.25,367.20) scale(7.004,1.453)" font-size="1" font-weight="bold" fill="#3cc93c" stroke="#3cc93c" stroke-width="0.05">A</text>
<text transform="translate(577.25,366.20) scale(7.004,2.326)" font-size="1" font-weight="bold" fill="#2b2bee" stroke="#2b2bee" stroke-width="0.05">C</text>
<text transform="translate(577.25,364.60) scale(6.503,3.488)" font-size="1" font-weight="bold" fill="#f2a634" stroke="#f2a634" stroke-width="0.05">G</text>
<text transform="translate(577.25,362.20) scale(8.281,4.942)" font-size="1" font-weight="bold" fill="#e63030" stroke="#e63030" stroke-width="0.05">T</text>
<text transform="translate(582.31,367.20) scale(7.004,0.581)" font-size="1" font-weight="bold" fill="#3cc93c" stroke="#3cc93c" stroke-width="0.05">A</text>
<text transform="translate(582.31,366.80) scale(8.281,0.872)" font-size="1" font-weight="bold" fill="#e63030" stroke="#e63030" stroke-width="0.05">T</text>
<text transform="translate(582.31,366.20) scale(6.503,13.081)" font-size="1" font-weight="bold" fill="#f2a634" stroke="#f2a634" stroke-width="0.05">G</text>
<text transform="translate(587.37,367.20) scale(7.004,0.581)" font-size="1" font-weight="bold" fill="#2b2bee" stroke="#2b2bee" stroke-width="0.05">C</text>
<text transform="translate(587.37,366.80) scale(6.503,0.872)" font-size="1" font-weight="bold" fill="#f2a634" stroke="#f2a634" stroke-width="0.05">G</text>
<text transform="translate(587.37,366.20) scale(7.004,13.081)" font-size="1" font-weight="bold" fill="#3cc93c" stroke="#3cc93c" stroke-width="0.05">A</text>
<text transform="translate(592.42,367.20) scale(6.503,1.453)" font-size="1" font-weight="bold" fill="#f2a634" stroke="#f2a634" stroke-width="0.05">G</text>
<text transform="translate(592.42,366.20) scale(7.004,2.326)" font-size="1" font-weight="bold" fill="#3cc93c" stroke="#3cc93c" stroke-width="0.05">A</text>
<text transform="translate(592.42,364.60) scale(7.004,3.488)" font-size="1" font-weight="bold" fill="#2b2bee" stroke="#2b2bee" stroke-width="0.05">C</text>
<text transform="translate(592.42,362.20) scale(8.281,4.942)" font-size="1" font-weight="bold" fill="#e63030" stroke="#e63030" stroke-width="0.05">T</text>
<text transform="translate(597.48,367.20) scale(7.004,1.453)" font-size="1" font-weight="bold" fill="#2b2bee" stroke="#2b2bee" stroke-width="0.05">C</text>
<text transform="translate(597.48,366.20) scale(6.503,2.326)" font-size="1" font-weight="bold" fill="#f2a634" stroke="#f2a634" stroke-width="0.05">G</text>
<text transform="translate(597.48,364.60) scale(8.281,3.488)" font-size="1" font-weight="bold" fill="#e63030" stroke="#e63030" stroke-width="0.05">T</text>
<text transform="translate(597.48,362.20) scale(7.004,4.942)" font-size="1" font-weight="bold" fill="#3cc93c" stroke="#3cc93c" stroke-width="0.05">A</text>
<text transform="translate(602.54,367.20) scale(8.281,0.581)" font-size="1" font-weight="bold" fill="#e63030" stroke="#e63030" stroke-width="0.05">T</text>
<text transform="translate(602.54,366.80) scale(7.004,0.872)" font-size="1" font-weight="bold" fill="#3cc93c" stroke="#3cc93c" stroke-width="0.05">A</text>
<text transform="translate(602.54,366.20) scale(7.004,13.081)" font-size="1" font-weight="bold" fill="#2b2bee" stroke="#2b2bee" stroke-width="0.05">C</text>
<text x="610.30" y="384.30" font-size="8.00" fill="#333" stroke="#333" stroke-width="0.249">TEAD4</text>
<text x="640.90" y="384.30" font-size="8.00" fill="#333" stroke="#333" stroke-width="0.249">0.0000</text>
<text transform="translate(552.10,387.50) scale(6.993,1.453)" font-size="1" font-weight="bold" fill="#3cc93c" stroke="#3cc93c" stroke-width="0.05">A</text>
<text transform="translate(552.10,386.50) scale(6.492,2.326)" font-size="1" font-weight="bold" fill="#f2a634" stroke="#f2a634" stroke-width="0.05">G</text>
<text transform="translate(552.10,384.90) scale(8.267,3.488)" font-size="1" font-weight="bold" fill="#e63030" stroke="#e63030" stroke-width="0.05">T</text>
<text transform="translate(552.10,382.50) scale(6.993,4.942)" font-size="1" font-weight="bold" fill="#2b2bee" stroke="#2b2bee" stroke-width="0.05">C</text>
<text transform="translate(557.15,387.50) scale(6.492,1.453)" font-size="1" font-weight="bold" fill="#f2a634" stroke="#f2a634" stroke-width="0.05">G</text>
<text transform="translate(557.15,386.50) scale(6.993,2.326)" font-size="1" font-weight="bold" fill="#3cc93c" stroke="#3cc93c" stroke-width="0.05">A</text>
<text transform="translate(557.15,384.90) scale(8.267,3.488)" font-size="1" font-weight="bold" fill="#e63030" stroke="#e63030" stroke-width="0.05">T</text>
<text transform="translate(557.15,382.50) scale(6.993,4.942)" font-size="1" font-weight="bold" fill="#2b2bee" stroke="#2b2bee" stroke-width="0.05">C</text>
<text transform="translate(562.20,387.50) scale(6.492,1.453)" font-size="1" font-weight="bold" fill="#f2a634" stroke="#f2a634" stroke-width="0.05">G</text>
<text transform="translate(562.20,386.50) scale(8.267,2.326)" font-size="1" font-weight="bold" fill="#e63030" stroke="#e63030" stroke-width="0.05">T</text>
<text transform="translate(562.20,384.90) scale(6.993,3.488)" font-size="1" font-weight="bold" fill="#2b2bee" stroke="#2b2bee" stroke-width="0.05">C</text>
<text transform="translate(562.20,382.50) scale(6.993,4.942)" font-size="1" font-weight="bold" fill="#3cc93c" stroke="#3cc93c" stroke-width="0.05">A</text>
<text transform="translate(567.25,387.50) scale(8.267,0.581)" font-size="1" font-weight="bold" fill="#e63030" stroke="#e63030" stroke-width="0.05">T</text>
<text transform="translate(567.25,387.10) scale(6.993,0.872)" font-size="1" font-weight="bold" fill="#3cc93c" stroke="#3cc93c" stroke-width="0.05">A</text>
<text transform="translate(567.25,386.50) scale(6.492,13.081)" font-size="1" font-weight="bold" fill="#f2a634" stroke="#f2a634" stroke-width="0.05">G</text>
<text transform="translate(572.30,387.50) scale(8.267,0.581)" font-size="1" font-weight="bold" fill="#e63030" stroke="#e63030" stroke-width="0.05">T</text>
<text transform="translate(572.30,387.10) scale(6.993,0.872)" font-size="1" font-weight="bold" fill="#2b2bee" stroke="#2b2bee" stroke-width="0.05">C</text>
<text transform="translate(572.30,386.50) scale(6.492,13.081)" font-size="1" font-weight="bold" fill="#f2a634" stroke="#f2a634" stroke-width="0.05">G</text>
<text transform="translate(577.35,387.50) scale(8.267,0.581)" font-size="1" font-weight="bold" fill="#e63030" stroke="#e63030" stroke-width="0.05">T</text>
<text transform="translate(577.35,387.10) scale(6.492,0.872)" font-size="1" font-weight="bold" fill="#f2a634" stroke="#f2a634" stroke-width="0.05">G</text>
<text transform="translate(577.35,386.50) scale(6.993,13.081)" font-size="1" font-weight="bold" fill="#3cc93c" stroke="#3cc93c" stroke-width="0.05">A</text>
<text transform="translate(582.40,387.50) scale(8.267,0.581)" font-size="1" font-weight="bold" fill="#e63030" stroke="#e63030" stroke-width="0.05">T</text>
<text transform="translate(582.40,387.10) scale(6.492,0.872)" font-size="1" font-weight="bold" fill="#f2a634" stroke="#f2a634" stroke-width="0.05">G</text>
<text transform="translate(582.40,386.50) scale(6.993,13.081)" font-size="1" font-weight="bold" fill="#3cc93c" stroke="#3cc93c" stroke-width="0.05">A</text>
<text transform="translate(587.45,387.50) scale(6.492,0.581)" font-size="1" font-weight="bold" fill="#f2a634" stroke="#f2a634" stroke-width="0.05">G</text>
<text transform="translate(587.45,387.10) scale(6.993,0.872)" font-size="1" font-weight="bold" fill="#3cc93c" stroke="#3cc93c" stroke-width="0.05">A</text>
<text transform="translate(587.45,386.50) scale(8.267,13.081)" font-size="1" font-weight="bold" fill="#e63030" stroke="#e63030" stroke-width="0.05">T</text>
<text transform="translate(592.50,387.50) scale(6.993,1.453)" font-size="1" font-weight="bold" fill="#3cc93c" stroke="#3cc93c" stroke-width="0.05">A</text>
<text transform="translate(592.50,386.50) scale(6.993,2.326)" font-size="1" font-weight="bold" fill="#2b2bee" stroke="#2b2bee" stroke-width="0.05">C</text>
<text transform="translate(592.50,384.90) scale(8.267,3.488)" font-size="1" font-weight="bold" fill="#e63030" stroke="#e63030" stroke-width="0.05">T</text>
<text transform="translate(592.50,382.50) scale(6.492,4.942)" font-size="1" font-weight="bold" fill="#f2a634" stroke="#f2a634" stroke-width="0.05">G</text>
<text transform="translate(597.55,387.50) scale(6.492,1.453)" font-size="1" font-weight="bold" fill="#f2a634" stroke="#f2a634" stroke-width="0.05">G</text>
<text transform="translate(597.55,386.50) scale(8.267,2.326)" font-size="1" font-weight="bold" fill="#e63030" stroke="#e63030" stroke-width="0.05">T</text>
<text transform="translate(597.55,384.90) scale(6.993,3.488)" font-size="1" font-weight="bold" fill="#3cc93c" stroke="#3cc93c" stroke-width="0.05">A</text>
<text transform="translate(597.55,382.50) scale(6.993,4.942)" font-size="1" font-weight="bold" fill="#2b2bee" stroke="#2b2bee" stroke-width="0.05">C</text>
<text x="1.50" y="305.02" font-size="14.56" fill="#231f20" font-weight="bold" stroke="#231f20" stroke-width="0.35">F</text>
<text x="32.70" y="303.60" font-size="9.95" fill="#e8403d" stroke="#e8403d" stroke-width="0.296">Brd7-KD RNAseq_Down</text>
<circle cx="82.50" cy="336.90" r="27.90" fill="#e8868c"/>
<circle cx="82.50" cy="368.00" r="28.00" fill="#9dd1f9"/>
<path d="M59.28,352.36 A27.90,27.90 0 0 0 105.72,352.36 A28.00,28.00 0 0 0 59.28,352.36 Z" fill="#8189c9" stroke="#fff" stroke-width="2.3"/>
<text x="84.00" y="328.60" font-size="9.70" text-anchor="middle" stroke="#1c1819" stroke-width="0.296">250</text>
<text x="83.30" y="356.40" font-size="9.70" text-anchor="middle" stroke="#1c1819" stroke-width="0.296">69</text>
<text x="84.50" y="385.60" font-size="9.70" text-anchor="middle" stroke="#1c1819" stroke-width="0.296">2976</text>
<line x1="91.10" y1="353.60" x2="129.60" y2="353.60" stroke="#444" stroke-width="0.8"/>
<line x1="129.60" y1="321.60" x2="129.60" y2="385.60" stroke="#444" stroke-width="0.8"/>
<text x="34.50" y="404.30" font-size="9.43" fill="#55a6f0" stroke="#55a6f0" stroke-width="0.294">Brd7-KD Loss Peaks_Gene</text>
<text x="140.50" y="380.70" font-size="9.43" transform="rotate(-90 140.50 380.70)" stroke="#1c1819" stroke-width="0.293">Gene Ontology</text>
<line x1="151.60" y1="280.00" x2="151.60" y2="409.20" stroke="#333" stroke-width="0.8"/>
<line x1="151.60" y1="409.20" x2="279.00" y2="409.20" stroke="#333" stroke-width="0.8"/>
<rect x="151.60" y="289.85" width="106.20" height="12.90" fill="#d885fb"/>
<line x1="146.60" y1="296.30" x2="151.60" y2="296.30" stroke="#333" stroke-width="0.8"/>
<rect x="151.60" y="309.75" width="98.50" height="12.90" fill="#d885fb"/>
<line x1="146.60" y1="316.20" x2="151.60" y2="316.20" stroke="#333" stroke-width="0.8"/>
<rect x="151.60" y="329.95" width="98.50" height="12.90" fill="#d885fb"/>
<line x1="146.60" y1="336.40" x2="151.60" y2="336.40" stroke="#333" stroke-width="0.8"/>
<rect x="151.60" y="350.15" width="53.00" height="12.90" fill="#d885fb"/>
<line x1="146.60" y1="356.60" x2="151.60" y2="356.60" stroke="#333" stroke-width="0.8"/>
<rect x="151.60" y="369.95" width="19.50" height="12.90" fill="#d885fb"/>
<line x1="146.60" y1="376.40" x2="151.60" y2="376.40" stroke="#333" stroke-width="0.8"/>
<rect x="151.60" y="389.95" width="4.80" height="12.90" fill="#d885fb"/>
<line x1="146.60" y1="396.40" x2="151.60" y2="396.40" stroke="#333" stroke-width="0.8"/>
<text x="155.00" y="299.70" font-size="9.60" stroke="#1c1819" stroke-width="0.296">positive regulation of nitric oxide metabolic process</text>
<text x="155.00" y="319.60" font-size="9.60" stroke="#1c1819" stroke-width="0.296">platelet-derived growth factor receptor signaling pathway</text>
<text x="155.00" y="339.80" font-size="9.60" stroke="#1c1819" stroke-width="0.296">T cell selection</text>
<text x="155.00" y="360.00" font-size="9.60" stroke="#1c1819" stroke-width="0.296">DNA-templated transcription in response to stress</text>
<text x="155.00" y="379.80" font-size="9.60" stroke="#1c1819" stroke-width="0.296">response to interferon-beta</text>
<text x="155.00" y="399.80" font-size="9.60" stroke="#1c1819" stroke-width="0.296">forebrain generation of neurons</text>
<line x1="151.60" y1="409.20" x2="151.60" y2="413.70" stroke="#333" stroke-width="0.8"/>
<line x1="194.30" y1="409.20" x2="194.30" y2="413.70" stroke="#333" stroke-width="0.8"/>
<line x1="236.30" y1="409.20" x2="236.30" y2="413.70" stroke="#333" stroke-width="0.8"/>
<line x1="279.00" y1="409.20" x2="279.00" y2="413.70" stroke="#333" stroke-width="0.8"/>
<text x="151.60" y="422.10" font-size="9.20" text-anchor="middle" stroke="#1c1819" stroke-width="0.286">0</text>
<text x="170.80" y="422.10" font-size="9.15" stroke="#1c1819" stroke-width="0.285">2×10</text>
<text x="194.30" y="419.20" font-size="7.10" stroke="#1c1819" stroke-width="0.221">−5</text>
<text x="222.70" y="422.10" font-size="8.75" stroke="#1c1819" stroke-width="0.272">4×10</text>
<text x="245.30" y="419.20" font-size="7.10" stroke="#1c1819" stroke-width="0.221">−5</text>
<text x="263.20" y="422.10" font-size="8.30" stroke="#1c1819" stroke-width="0.258">6×10</text>
<text x="282.20" y="419.20" font-size="6.84" stroke="#1c1819" stroke-width="0.213">−5</text>
<text x="193.60" y="431.00" font-size="9.18" stroke="#1c1819" stroke-width="0.286">p value</text>
<text x="394.80" y="281.82" font-size="14.56" fill="#231f20" font-weight="bold" stroke="#231f20" stroke-width="0.35">G</text>
<text x="412.60" y="259.30" font-size="10.04" stroke="#1c1819" stroke-width="0.296">Brd7-KD Loss Peak Motif</text>
<text x="422.80" y="272.40" font-size="8.81" stroke="#1c1819" stroke-width="0.274">Motif</text>
<text x="460.80" y="272.40" font-size="8.60" stroke="#1c1819" stroke-width="0.268">TF</text>
<text x="490.70" y="272.40" font-size="7.81" stroke="#1c1819" stroke-width="0.243">q value</text>
<line x1="411.20" y1="277.20" x2="515.90" y2="277.20" stroke="#666" stroke-width="0.8"/>
<line x1="411.20" y1="429.40" x2="515.90" y2="429.40" stroke="#777" stroke-width="0.9"/>
<text x="460.50" y="291.50" font-size="8.10" fill="#333" stroke="#333" stroke-width="0.252">Atf3</text>
<text x="491.20" y="291.50" font-size="8.10" fill="#333" stroke="#333" stroke-width="0.252">0.0000</text>
<text transform="translate(406.90,291.70) scale(5.527,1.163)" font-size="1" font-weight="bold" fill="#2b2bee" stroke="#2b2bee" stroke-width="0.05">C</text>
<text transform="translate(406.90,290.90) scale(5.527,1.860)" font-size="1" font-weight="bold" fill="#3cc93c" stroke="#3cc93c" stroke-width="0.05">A</text>
<text transform="translate(406.90,289.62) scale(6.535,2.791)" font-size="1" font-weight="bold" fill="#e63030" stroke="#e63030" stroke-width="0.05">T</text>
<text transform="translate(406.90,287.70) scale(5.132,3.953)" font-size="1" font-weight="bold" fill="#f2a634" stroke="#f2a634" stroke-width="0.05">G</text>
<text transform="translate(410.89,291.70) scale(5.132,1.163)" font-size="1" font-weight="bold" fill="#f2a634" stroke="#f2a634" stroke-width="0.05">G</text>
<text transform="translate(410.89,290.90) scale(5.527,1.860)" font-size="1" font-weight="bold" fill="#2b2bee" stroke="#2b2bee" stroke-width="0.05">C</text>
<text transform="translate(410.89,289.62) scale(6.535,2.791)" font-size="1" font-weight="bold" fill="#e63030" stroke="#e63030" stroke-width="0.05">T</text>
<text transform="translate(410.89,287.70) scale(5.527,3.953)" font-size="1" font-weight="bold" fill="#3cc93c" stroke="#3cc93c" stroke-width="0.05">A</text>
<text transform="translate(414.88,291.70) scale(5.527,0.465)" font-size="1" font-weight="bold" fill="#3cc93c" stroke="#3cc93c" stroke-width="0.05">A</text>
<text transform="translate(414.88,291.38) scale(5.132,0.698)" font-size="1" font-weight="bold" fill="#f2a634" stroke="#f2a634" stroke-width="0.05">G</text>
<text transform="translate(414.88,290.90) scale(6.535,10.465)" font-size="1" font-weight="bold" fill="#e63030" stroke="#e63030" stroke-width="0.05">T</text>
<text transform="translate(418.88,291.70) scale(5.527,0.465)" font-size="1" font-weight="bold" fill="#3cc93c" stroke="#3cc93c" stroke-width="0.05">A</text>
<text transform="translate(418.88,291.38) scale(5.527,0.698)" font-size="1" font-weight="bold" fill="#2b2bee" stroke="#2b2bee" stroke-width="0.05">C</text>
<text transform="translate(418.88,290.90) scale(5.132,10.465)" font-size="1" font-weight="bold" fill="#f2a634" stroke="#f2a634" stroke-width="0.05">G</text>
<text transform="translate(422.87,291.70) scale(6.535,0.465)" font-size="1" font-weight="bold" fill="#e63030" stroke="#e63030" stroke-width="0.05">T</text>
<text transform="translate(422.87,291.38) scale(5.132,0.698)" font-size="1" font-weight="bold" fill="#f2a634" stroke="#f2a634" stroke-width="0.05">G</text>
<text transform="translate(422.87,290.90) scale(5.527,10.465)" font-size="1" font-weight="bold" fill="#3cc93c" stroke="#3cc93c" stroke-width="0.05">A</text>
<text transform="translate(426.86,291.70) scale(5.132,1.163)" font-size="1" font-weight="bold" fill="#f2a634" stroke="#f2a634" stroke-width="0.05">G</text>
<text transform="translate(426.86,290.90) scale(6.535,1.860)" font-size="1" font-weight="bold" fill="#e63030" stroke="#e63030" stroke-width="0.05">T</text>
<text transform="translate(426.86,289.62) scale(5.527,2.791)" font-size="1" font-weight="bold" fill="#3cc93c" stroke="#3cc93c" stroke-width="0.05">A</text>
<text transform="translate(426.86,287.70) scale(5.527,3.953)" font-size="1" font-weight="bold" fill="#2b2bee" stroke="#2b2bee" stroke-width="0.05">C</text>
<text transform="translate(430.85,291.70) scale(5.527,0.465)" font-size="1" font-weight="bold" fill="#2b2bee" stroke="#2b2bee" stroke-width="0.05">C</text>
<text transform="translate(430.85,291.38) scale(5.527,0.698)" font-size="1" font-weight="bold" fill="#3cc93c" stroke="#3cc93c" stroke-width="0.05">A</text>
<text transform="translate(430.85,290.90) scale(6.535,10.465)" font-size="1" font-weight="bold" fill="#e63030" stroke="#e63030" stroke-width="0.05">T</text>
<text transform="translate(434.84,291.70) scale(5.132,0.465)" font-size="1" font-weight="bold" fill="#f2a634" stroke="#f2a634" stroke-width="0.05">G</text>
<text transform="translate(434.84,291.38) scale(6.535,0.698)" font-size="1" font-weight="bold" fill="#e63030" stroke="#e63030" stroke-width="0.05">T</text>
<text transform="translate(434.84,290.90) scale(5.527,10.465)" font-size="1" font-weight="bold" fill="#2b2bee" stroke="#2b2bee" stroke-width="0.05">C</text>
<text transform="translate(438.83,291.70) scale(5.527,0.465)" font-size="1" font-weight="bold" fill="#2b2bee" stroke="#2b2bee" stroke-width="0.05">C</text>
<text transform="translate(438.83,291.38) scale(6.535,0.698)" font-size="1" font-weight="bold" fill="#e63030" stroke="#e63030" stroke-width="0.05">T</text>
<text transform="translate(438.83,290.90) scale(5.527,10.465)" font-size="1" font-weight="bold" fill="#3cc93c" stroke="#3cc93c" stroke-width="0.05">A</text>
<text transform="translate(442.82,291.70) scale(5.527,1.163)" font-size="1" font-weight="bold" fill="#3cc93c" stroke="#3cc93c" stroke-width="0.05">A</text>
<text transform="translate(442.82,290.90) scale(5.132,1.860)" font-size="1" font-weight="bold" fill="#f2a634" stroke="#f2a634" stroke-width="0.05">G</text>
<text transform="translate(442.82,289.62) scale(5.527,2.791)" font-size="1" font-weight="bold" fill="#2b2bee" stroke="#2b2bee" stroke-width="0.05">C</text>
<text transform="translate(442.82,287.70) scale(6.535,3.953)" font-size="1" font-weight="bold" fill="#e63030" stroke="#e63030" stroke-width="0.05">T</text>
<text transform="translate(446.82,291.70) scale(5.527,1.163)" font-size="1" font-weight="bold" fill="#3cc93c" stroke="#3cc93c" stroke-width="0.05">A</text>
<text transform="translate(446.82,290.90) scale(6.535,1.860)" font-size="1" font-weight="bold" fill="#e63030" stroke="#e63030" stroke-width="0.05">T</text>
<text transform="translate(446.82,289.62) scale(5.527,2.791)" font-size="1" font-weight="bold" fill="#2b2bee" stroke="#2b2bee" stroke-width="0.05">C</text>
<text transform="translate(446.82,287.70) scale(5.132,3.953)" font-size="1" font-weight="bold" fill="#f2a634" stroke="#f2a634" stroke-width="0.05">G</text>
<text transform="translate(450.81,291.70) scale(5.527,1.163)" font-size="1" font-weight="bold" fill="#2b2bee" stroke="#2b2bee" stroke-width="0.05">C</text>
<text transform="translate(450.81,290.90) scale(5.527,1.860)" font-size="1" font-weight="bold" fill="#3cc93c" stroke="#3cc93c" stroke-width="0.05">A</text>
<text transform="translate(450.81,289.62) scale(6.535,2.791)" font-size="1" font-weight="bold" fill="#e63030" stroke="#e63030" stroke-width="0.05">T</text>
<text transform="translate(450.81,287.70) scale(5.132,3.953)" font-size="1" font-weight="bold" fill="#f2a634" stroke="#f2a634" stroke-width="0.05">G</text>
<text x="460.50" y="310.50" font-size="8.10" fill="#333" stroke="#333" stroke-width="0.252">Fos</text>
<text x="491.20" y="310.50" font-size="8.10" fill="#333" stroke="#333" stroke-width="0.252">0.0000</text>
<text transform="translate(407.20,311.00) scale(5.493,1.163)" font-size="1" font-weight="bold" fill="#2b2bee" stroke="#2b2bee" stroke-width="0.05">C</text>
<text transform="translate(407.20,310.20) scale(6.494,1.860)" font-size="1" font-weight="bold" fill="#e63030" stroke="#e63030" stroke-width="0.05">T</text>
<text transform="translate(407.20,308.92) scale(5.493,2.791)" font-size="1" font-weight="bold" fill="#3cc93c" stroke="#3cc93c" stroke-width="0.05">A</text>
<text transform="translate(407.20,307.00) scale(5.100,3.953)" font-size="1" font-weight="bold" fill="#f2a634" stroke="#f2a634" stroke-width="0.05">G</text>
<text transform="translate(411.17,311.00) scale(5.493,1.163)" font-size="1" font-weight="bold" fill="#2b2bee" stroke="#2b2bee" stroke-width="0.05">C</text>
<text transform="translate(411.17,310.20) scale(5.493,1.860)" font-size="1" font-weight="bold" fill="#3cc93c" stroke="#3cc93c" stroke-width="0.05">A</text>
<text transform="translate(411.17,308.92) scale(6.494,2.791)" font-size="1" font-weight="bold" fill="#e63030" stroke="#e63030" stroke-width="0.05">T</text>
<text transform="translate(411.17,307.00) scale(5.100,3.953)" font-size="1" font-weight="bold" fill="#f2a634" stroke="#f2a634" stroke-width="0.05">G</text>
<text transform="translate(415.13,311.00) scale(5.493,1.163)" font-size="1" font-weight="bold" fill="#2b2bee" stroke="#2b2bee" stroke-width="0.05">C</text>
<text transform="translate(415.13,310.20) scale(6.494,1.860)" font-size="1" font-weight="bold" fill="#e63030" stroke="#e63030" stroke-width="0.05">T</text>
<text transform="translate(415.13,308.92) scale(5.100,2.791)" font-size="1" font-weight="bold" fill="#f2a634" stroke="#f2a634" stroke-width="0.05">G</text>
<text transform="translate(415.13,307.00) scale(5.493,3.953)" font-size="1" font-weight="bold" fill="#3cc93c" stroke="#3cc93c" stroke-width="0.05">A</text>
<text transform="translate(419.10,311.00) scale(5.100,0.465)" font-size="1" font-weight="bold" fill="#f2a634" stroke="#f2a634" stroke-width="0.05">G</text>
<text transform="translate(419.10,310.68) scale(5.493,0.698)" font-size="1" font-weight="bold" fill="#3cc93c" stroke="#3cc93c" stroke-width="0.05">A</text>
<text transform="translate(419.10,310.20) scale(6.494,10.465)" font-size="1" font-weight="bold" fill="#e63030" stroke="#e63030" stroke-width="0.05">T</text>
<text transform="translate(423.07,311.00) scale(5.493,0.465)" font-size="1" font-weight="bold" fill="#3cc93c" stroke="#3cc93c" stroke-width="0.05">A</text>
<text transform="translate(423.07,310.68) scale(5.493,0.698)" font-size="1" font-weight="bold" fill="#2b2bee" stroke="#2b2bee" stroke-width="0.05">C</text>
<text transform="translate(423.07,310.20) scale(5.100,10.465)" font-size="1" font-weight="bold" fill="#f2a634" stroke="#f2a634" stroke-width="0.05">G</text>
<text transform="translate(427.03,311.00) scale(5.493,0.465)" font-size="1" font-weight="bold" fill="#2b2bee" stroke="#2b2bee" stroke-width="0.05">C</text>
<text transform="translate(427.03,310.68) scale(6.494,0.698)" font-size="1" font-weight="bold" fill="#e63030" stroke="#e63030" stroke-width="0.05">T</text>
<text transform="translate(427.03,310.20) scale(5.493,10.465)" font-size="1" font-weight="bold" fill="#3cc93c" stroke="#3cc93c" stroke-width="0.05">A</text>
<text transform="translate(431.00,311.00) scale(6.494,1.163)" font-size="1" font-weight="bold" fill="#e63030" stroke="#e63030" stroke-width="0.05">T</text>
<text transform="translate(431.00,310.20) scale(5.100,1.860)" font-size="1" font-weight="bold" fill="#f2a634" stroke="#f2a634" stroke-width="0.05">G</text>
<text transform="translate(431.00,308.92) scale(5.493,2.791)" font-size="1" font-weight="bold" fill="#3cc93c" stroke="#3cc93c" stroke-width="0.05">A</text>
<text transform="translate(431.00,307.00) scale(5.493,3.953)" font-size="1" font-weight="bold" fill="#2b2bee" stroke="#2b2bee" stroke-width="0.05">C</text>
<text transform="translate(434.97,311.00) scale(5.493,0.465)" font-size="1" font-weight="bold" fill="#2b2bee" stroke="#2b2bee" stroke-width="0.05">C</text>
<text transform="translate(434.97,310.68) scale(5.100,0.698)" font-size="1" font-weight="bold" fill="#f2a634" stroke="#f2a634" stroke-width="0.05">G</text>
<text transform="translate(434.97,310.20) scale(6.494,10.465)" font-size="1" font-weight="bold" fill="#e63030" stroke="#e63030" stroke-width="0.05">T</text>
<text transform="translate(438.93,311.00) scale(5.100,0.465)" font-size="1" font-weight="bold" fill="#f2a634" stroke="#f2a634" stroke-width="0.05">G</text>
<text transform="translate(438.93,310.68) scale(5.493,0.698)" font-size="1" font-weight="bold" fill="#3cc93c" stroke="#3cc93c" stroke-width="0.05">A</text>
<text transform="translate(438.93,310.20) scale(5.493,10.465)" font-size="1" font-weight="bold" fill="#2b2bee" stroke="#2b2bee" stroke-width="0.05">C</text>
<text transform="translate(442.90,311.00) scale(6.494,0.465)" font-size="1" font-weight="bold" fill="#e63030" stroke="#e63030" stroke-width="0.05">T</text>
<text transform="translate(442.90,310.68) scale(5.100,0.698)" font-size="1" font-weight="bold" fill="#f2a634" stroke="#f2a634" stroke-width="0.05">G</text>
<text transform="translate(442.90,310.20) scale(5.493,10.465)" font-size="1" font-weight="bold" fill="#3cc93c" stroke="#3cc93c" stroke-width="0.05">A</text>
<text transform="translate(446.87,311.00) scale(5.493,1.163)" font-size="1" font-weight="bold" fill="#3cc93c" stroke="#3cc93c" stroke-width="0.05">A</text>
<text transform="translate(446.87,310.20) scale(5.100,1.860)" font-size="1" font-weight="bold" fill="#f2a634" stroke="#f2a634" stroke-width="0.05">G</text>
<text transform="translate(446.87,308.92) scale(5.493,2.791)" font-size="1" font-weight="bold" fill="#2b2bee" stroke="#2b2bee" stroke-width="0.05">C</text>
<text transform="translate(446.87,307.00) scale(6.494,3.953)" font-size="1" font-weight="bold" fill="#e63030" stroke="#e63030" stroke-width="0.05">T</text>
<text transform="translate(450.83,311.00) scale(5.493,1.163)" font-size="1" font-weight="bold" fill="#3cc93c" stroke="#3cc93c" stroke-width="0.05">A</text>
<text transform="translate(450.83,310.20) scale(6.494,1.860)" font-size="1" font-weight="bold" fill="#e63030" stroke="#e63030" stroke-width="0.05">T</text>
<text transform="translate(450.83,308.92) scale(5.100,2.791)" font-size="1" font-weight="bold" fill="#f2a634" stroke="#f2a634" stroke-width="0.05">G</text>
<text transform="translate(450.83,307.00) scale(5.493,3.953)" font-size="1" font-weight="bold" fill="#2b2bee" stroke="#2b2bee" stroke-width="0.05">C</text>
<text x="460.50" y="329.30" font-size="8.10" fill="#333" stroke="#333" stroke-width="0.252">BATF</text>
<text x="491.20" y="329.30" font-size="8.10" fill="#333" stroke="#333" stroke-width="0.252">0.0000</text>
<text transform="translate(412.90,330.90) scale(5.497,1.163)" font-size="1" font-weight="bold" fill="#2b2bee" stroke="#2b2bee" stroke-width="0.05">C</text>
<text transform="translate(412.90,330.10) scale(5.497,1.860)" font-size="1" font-weight="bold" fill="#3cc93c" stroke="#3cc93c" stroke-width="0.05">A</text>
<text transform="translate(412.90,328.82) scale(5.104,2.791)" font-size="1" font-weight="bold" fill="#f2a634" stroke="#f2a634" stroke-width="0.05">G</text>
<text transform="translate(412.90,326.90) scale(6.499,3.953)" font-size="1" font-weight="bold" fill="#e63030" stroke="#e63030" stroke-width="0.05">T</text>
<text transform="translate(416.87,330.90) scale(6.499,1.163)" font-size="1" font-weight="bold" fill="#e63030" stroke="#e63030" stroke-width="0.05">T</text>
<text transform="translate(416.87,330.10) scale(5.104,1.860)" font-size="1" font-weight="bold" fill="#f2a634" stroke="#f2a634" stroke-width="0.05">G</text>
<text transform="translate(416.87,328.82) scale(5.497,2.791)" font-size="1" font-weight="bold" fill="#2b2bee" stroke="#2b2bee" stroke-width="0.05">C</text>
<text transform="translate(416.87,326.90) scale(5.497,3.953)" font-size="1" font-weight="bold" fill="#3cc93c" stroke="#3cc93c" stroke-width="0.05">A</text>
<text transform="translate(420.84,330.90) scale(5.104,0.465)" font-size="1" font-weight="bold" fill="#f2a634" stroke="#f2a634" stroke-width="0.05">G</text>
<text transform="translate(420.84,330.58) scale(5.497,0.698)" font-size="1" font-weight="bold" fill="#2b2bee" stroke="#2b2bee" stroke-width="0.05">C</text>
<text transform="translate(420.84,330.10) scale(6.499,10.465)" font-size="1" font-weight="bold" fill="#e63030" stroke="#e63030" stroke-width="0.05">T</text>
<text transform="translate(424.81,330.90) scale(6.499,0.465)" font-size="1" font-weight="bold" fill="#e63030" stroke="#e63030" stroke-width="0.05">T</text>
<text transform="translate(424.81,330.58) scale(5.497,0.698)" font-size="1" font-weight="bold" fill="#2b2bee" stroke="#2b2bee" stroke-width="0.05">C</text>
<text transform="translate(424.81,330.10) scale(5.104,10.465)" font-size="1" font-weight="bold" fill="#f2a634" stroke="#f2a634" stroke-width="0.05">G</text>
<text transform="translate(428.78,330.90) scale(6.499,0.465)" font-size="1" font-weight="bold" fill="#e63030" stroke="#e63030" stroke-width="0.05">T</text>
<text transform="translate(428.78,330.58) scale(5.104,0.698)" font-size="1" font-weight="bold" fill="#f2a634" stroke="#f2a634" stroke-width="0.05">G</text>
<text transform="translate(428.78,330.10) scale(5.497,10.465)" font-size="1" font-weight="bold" fill="#3cc93c" stroke="#3cc93c" stroke-width="0.05">A</text>
<text transform="translate(432.75,330.90) scale(6.499,1.163)" font-size="1" font-weight="bold" fill="#e63030" stroke="#e63030" stroke-width="0.05">T</text>
<text transform="translate(432.75,330.10) scale(5.497,1.860)" font-size="1" font-weight="bold" fill="#3cc93c" stroke="#3cc93c" stroke-width="0.05">A</text>
<text transform="translate(432.75,328.82) scale(5.104,2.791)" font-size="1" font-weight="bold" fill="#f2a634" stroke="#f2a634" stroke-width="0.05">G</text>
<text transform="translate(432.75,326.90) scale(5.497,3.953)" font-size="1" font-weight="bold" fill="#2b2bee" stroke="#2b2bee" stroke-width="0.05">C</text>
<text transform="translate(436.72,330.90) scale(5.497,0.465)" font-size="1" font-weight="bold" fill="#3cc93c" stroke="#3cc93c" stroke-width="0.05">A</text>
<text transform="translate(436.72,330.58) scale(5.104,0.698)" font-size="1" font-weight="bold" fill="#f2a634" stroke="#f2a634" stroke-width="0.05">G</text>
<text transform="translate(436.72,330.10) scale(6.499,10.465)" font-size="1" font-weight="bold" fill="#e63030" stroke="#e63030" stroke-width="0.05">T</text>
<text transform="translate(440.69,330.90) scale(6.499,0.465)" font-size="1" font-weight="bold" fill="#e63030" stroke="#e63030" stroke-width="0.05">T</text>
<text transform="translate(440.69,330.58) scale(5.104,0.698)" font-size="1" font-weight="bold" fill="#f2a634" stroke="#f2a634" stroke-width="0.05">G</text>
<text transform="translate(440.69,330.10) scale(5.497,10.465)" font-size="1" font-weight="bold" fill="#2b2bee" stroke="#2b2bee" stroke-width="0.05">C</text>
<text transform="translate(444.66,330.90) scale(5.104,0.465)" font-size="1" font-weight="bold" fill="#f2a634" stroke="#f2a634" stroke-width="0.05">G</text>
<text transform="translate(444.66,330.58) scale(6.499,0.698)" font-size="1" font-weight="bold" fill="#e63030" stroke="#e63030" stroke-width="0.05">T</text>
<text transform="translate(444.66,330.10) scale(5.497,10.465)" font-size="1" font-weight="bold" fill="#3cc93c" stroke="#3cc93c" stroke-width="0.05">A</text>
<text transform="translate(448.63,330.90) scale(5.497,1.163)" font-size="1" font-weight="bold" fill="#2b2bee" stroke="#2b2bee" stroke-width="0.05">C</text>
<text transform="translate(448.63,330.10) scale(5.497,1.860)" font-size="1" font-weight="bold" fill="#3cc93c" stroke="#3cc93c" stroke-width="0.05">A</text>
<text transform="translate(448.63,328.82) scale(5.104,2.791)" font-size="1" font-weight="bold" fill="#f2a634" stroke="#f2a634" stroke-width="0.05">G</text>
<text transform="translate(448.63,326.90) scale(6.499,3.953)" font-size="1" font-weight="bold" fill="#e63030" stroke="#e63030" stroke-width="0.05">T</text>
<text x="460.50" y="348.40" font-size="8.10" fill="#333" stroke="#333" stroke-width="0.252">Fra</text>
<text x="491.20" y="348.40" font-size="8.10" fill="#333" stroke="#333" stroke-width="0.252">0.0000</text>
<text transform="translate(405.20,349.80) scale(5.562,1.163)" font-size="1" font-weight="bold" fill="#2b2bee" stroke="#2b2bee" stroke-width="0.05">C</text>
<text transform="translate(405.20,349.00) scale(5.562,1.860)" font-size="1" font-weight="bold" fill="#3cc93c" stroke="#3cc93c" stroke-width="0.05">A</text>
<text transform="translate(405.20,347.72) scale(6.576,2.791)" font-size="1" font-weight="bold" fill="#e63030" stroke="#e63030" stroke-width="0.05">T</text>
<text transform="translate(405.20,345.80) scale(5.164,3.953)" font-size="1" font-weight="bold" fill="#f2a634" stroke="#f2a634" stroke-width="0.05">G</text>
<text transform="translate(409.22,349.80) scale(5.562,1.163)" font-size="1" font-weight="bold" fill="#2b2bee" stroke="#2b2bee" stroke-width="0.05">C</text>
<text transform="translate(409.22,349.00) scale(5.562,1.860)" font-size="1" font-weight="bold" fill="#3cc93c" stroke="#3cc93c" stroke-width="0.05">A</text>
<text transform="translate(409.22,347.72) scale(6.576,2.791)" font-size="1" font-weight="bold" fill="#e63030" stroke="#e63030" stroke-width="0.05">T</text>
<text transform="translate(409.22,345.80) scale(5.164,3.953)" font-size="1" font-weight="bold" fill="#f2a634" stroke="#f2a634" stroke-width="0.05">G</text>
<text transform="translate(413.23,349.80) scale(6.576,1.163)" font-size="1" font-weight="bold" fill="#e63030" stroke="#e63030" stroke-width="0.05">T</text>
<text transform="translate(413.23,349.00) scale(5.164,1.860)" font-size="1" font-weight="bold" fill="#f2a634" stroke="#f2a634" stroke-width="0.05">G</text>
<text transform="translate(413.23,347.72) scale(5.562,2.791)" font-size="1" font-weight="bold" fill="#2b2bee" stroke="#2b2bee" stroke-width="0.05">C</text>
<text transform="translate(413.23,345.80) scale(5.562,3.953)" font-size="1" font-weight="bold" fill="#3cc93c" stroke="#3cc93c" stroke-width="0.05">A</text>
<text transform="translate(417.25,349.80) scale(5.164,0.465)" font-size="1" font-weight="bold" fill="#f2a634" stroke="#f2a634" stroke-width="0.05">G</text>
<text transform="translate(417.25,349.48) scale(5.562,0.698)" font-size="1" font-weight="bold" fill="#2b2bee" stroke="#2b2bee" stroke-width="0.05">C</text>
<text transform="translate(417.25,349.00) scale(6.576,10.465)" font-size="1" font-weight="bold" fill="#e63030" stroke="#e63030" stroke-width="0.05">T</text>
<text transform="translate(421.27,349.80) scale(5.562,0.465)" font-size="1" font-weight="bold" fill="#2b2bee" stroke="#2b2bee" stroke-width="0.05">C</text>
<text transform="translate(421.27,349.48) scale(5.562,0.698)" font-size="1" font-weight="bold" fill="#3cc93c" stroke="#3cc93c" stroke-width="0.05">A</text>
<text transform="translate(421.27,349.00) scale(5.164,10.465)" font-size="1" font-weight="bold" fill="#f2a634" stroke="#f2a634" stroke-width="0.05">G</text>
<text transform="translate(425.28,349.80) scale(5.562,0.465)" font-size="1" font-weight="bold" fill="#2b2bee" stroke="#2b2bee" stroke-width="0.05">C</text>
<text transform="translate(425.28,349.48) scale(6.576,0.698)" font-size="1" font-weight="bold" fill="#e63030" stroke="#e63030" stroke-width="0.05">T</text>
<text transform="translate(425.28,349.00) scale(5.562,10.465)" font-size="1" font-weight="bold" fill="#3cc93c" stroke="#3cc93c" stroke-width="0.05">A</text>
<text transform="translate(429.30,349.80) scale(5.164,1.163)" font-size="1" font-weight="bold" fill="#f2a634" stroke="#f2a634" stroke-width="0.05">G</text>
<text transform="translate(429.30,349.00) scale(6.576,1.860)" font-size="1" font-weight="bold" fill="#e63030" stroke="#e63030" stroke-width="0.05">T</text>
<text transform="translate(429.30,347.72) scale(5.562,2.791)" font-size="1" font-weight="bold" fill="#3cc93c" stroke="#3cc93c" stroke-width="0.05">A</text>
<text transform="translate(429.30,345.80) scale(5.562,3.953)" font-size="1" font-weight="bold" fill="#2b2bee" stroke="#2b2bee" stroke-width="0.05">C</text>
<text transform="translate(433.32,349.80) scale(5.562,0.465)" font-size="1" font-weight="bold" fill="#2b2bee" stroke="#2b2bee" stroke-width="0.05">C</text>
<text transform="translate(433.32,349.48) scale(5.164,0.698)" font-size="1" font-weight="bold" fill="#f2a634" stroke="#f2a634" stroke-width="0.05">G</text>
<text transform="translate(433.32,349.00) scale(6.576,10.465)" font-size="1" font-weight="bold" fill="#e63030" stroke="#e63030" stroke-width="0.05">T</text>
<text transform="translate(437.33,349.80) scale(6.576,0.465)" font-size="1" font-weight="bold" fill="#e63030" stroke="#e63030" stroke-width="0.05">T</text>
<text transform="translate(437.33,349.48) scale(5.562,0.698)" font-size="1" font-weight="bold" fill="#3cc93c" stroke="#3cc93c" stroke-width="0.05">A</text>
<text transform="translate(437.33,349.00) scale(5.562,10.465)" font-size="1" font-weight="bold" fill="#2b2bee" stroke="#2b2bee" stroke-width="0.05">C</text>
<text transform="translate(441.35,349.80) scale(5.164,0.465)" font-size="1" font-weight="bold" fill="#f2a634" stroke="#f2a634" stroke-width="0.05">G</text>
<text transform="translate(441.35,349.48) scale(5.562,0.698)" font-size="1" font-weight="bold" fill="#2b2bee" stroke="#2b2bee" stroke-width="0.05">C</text>
<text transform="translate(441.35,349.00) scale(5.562,10.465)" font-size="1" font-weight="bold" fill="#3cc93c" stroke="#3cc93c" stroke-width="0.05">A</text>
<text transform="translate(445.37,349.80) scale(5.562,1.163)" font-size="1" font-weight="bold" fill="#3cc93c" stroke="#3cc93c" stroke-width="0.05">A</text>
<text transform="translate(445.37,349.00) scale(5.562,1.860)" font-size="1" font-weight="bold" fill="#2b2bee" stroke="#2b2bee" stroke-width="0.05">C</text>
<text transform="translate(445.37,347.72) scale(5.164,2.791)" font-size="1" font-weight="bold" fill="#f2a634" stroke="#f2a634" stroke-width="0.05">G</text>
<text transform="translate(445.37,345.80) scale(6.576,3.953)" font-size="1" font-weight="bold" fill="#e63030" stroke="#e63030" stroke-width="0.05">T</text>
<text transform="translate(449.38,349.80) scale(5.562,1.163)" font-size="1" font-weight="bold" fill="#3cc93c" stroke="#3cc93c" stroke-width="0.05">A</text>
<text transform="translate(449.38,349.00) scale(6.576,1.860)" font-size="1" font-weight="bold" fill="#e63030" stroke="#e63030" stroke-width="0.05">T</text>
<text transform="translate(449.38,347.72) scale(5.164,2.791)" font-size="1" font-weight="bold" fill="#f2a634" stroke="#f2a634" stroke-width="0.05">G</text>
<text transform="translate(449.38,345.80) scale(5.562,3.953)" font-size="1" font-weight="bold" fill="#2b2bee" stroke="#2b2bee" stroke-width="0.05">C</text>
<text x="460.50" y="367.00" font-size="8.10" fill="#333" stroke="#333" stroke-width="0.252">JunB</text>
<text x="491.20" y="367.00" font-size="8.10" fill="#333" stroke="#333" stroke-width="0.252">0.0000</text>
<text transform="translate(409.00,367.90) scale(6.663,1.163)" font-size="1" font-weight="bold" fill="#e63030" stroke="#e63030" stroke-width="0.05">T</text>
<text transform="translate(409.00,367.10) scale(5.636,1.860)" font-size="1" font-weight="bold" fill="#2b2bee" stroke="#2b2bee" stroke-width="0.05">C</text>
<text transform="translate(409.00,365.82) scale(5.636,2.791)" font-size="1" font-weight="bold" fill="#3cc93c" stroke="#3cc93c" stroke-width="0.05">A</text>
<text transform="translate(409.00,363.90) scale(5.233,3.953)" font-size="1" font-weight="bold" fill="#f2a634" stroke="#f2a634" stroke-width="0.05">G</text>
<text transform="translate(413.07,367.90) scale(5.636,1.163)" font-size="1" font-weight="bold" fill="#2b2bee" stroke="#2b2bee" stroke-width="0.05">C</text>
<text transform="translate(413.07,367.10) scale(5.233,1.860)" font-size="1" font-weight="bold" fill="#f2a634" stroke="#f2a634" stroke-width="0.05">G</text>
<text transform="translate(413.07,365.82) scale(6.663,2.791)" font-size="1" font-weight="bold" fill="#e63030" stroke="#e63030" stroke-width="0.05">T</text>
<text transform="translate(413.07,363.90) scale(5.636,3.953)" font-size="1" font-weight="bold" fill="#3cc93c" stroke="#3cc93c" stroke-width="0.05">A</text>
<text transform="translate(417.14,367.90) scale(5.636,0.465)" font-size="1" font-weight="bold" fill="#3cc93c" stroke="#3cc93c" stroke-width="0.05">A</text>
<text transform="translate(417.14,367.58) scale(5.233,0.698)" font-size="1" font-weight="bold" fill="#f2a634" stroke="#f2a634" stroke-width="0.05">G</text>
<text transform="translate(417.14,367.10) scale(6.663,10.465)" font-size="1" font-weight="bold" fill="#e63030" stroke="#e63030" stroke-width="0.05">T</text>
<text transform="translate(421.21,367.90) scale(5.636,0.465)" font-size="1" font-weight="bold" fill="#2b2bee" stroke="#2b2bee" stroke-width="0.05">C</text>
<text transform="translate(421.21,367.58) scale(5.636,0.698)" font-size="1" font-weight="bold" fill="#3cc93c" stroke="#3cc93c" stroke-width="0.05">A</text>
<text transform="translate(421.21,367.10) scale(5.233,10.465)" font-size="1" font-weight="bold" fill="#f2a634" stroke="#f2a634" stroke-width="0.05">G</text>
<text transform="translate(425.28,367.90) scale(5.636,0.465)" font-size="1" font-weight="bold" fill="#2b2bee" stroke="#2b2bee" stroke-width="0.05">C</text>
<text transform="translate(425.28,367.58) scale(5.233,0.698)" font-size="1" font-weight="bold" fill="#f2a634" stroke="#f2a634" stroke-width="0.05">G</text>
<text transform="translate(425.28,367.10) scale(5.636,10.465)" font-size="1" font-weight="bold" fill="#3cc93c" stroke="#3cc93c" stroke-width="0.05">A</text>
<text transform="translate(429.35,367.90) scale(6.663,1.163)" font-size="1" font-weight="bold" fill="#e63030" stroke="#e63030" stroke-width="0.05">T</text>
<text transform="translate(429.35,367.10) scale(5.636,1.860)" font-size="1" font-weight="bold" fill="#3cc93c" stroke="#3cc93c" stroke-width="0.05">A</text>
<text transform="translate(429.35,365.82) scale(5.233,2.791)" font-size="1" font-weight="bold" fill="#f2a634" stroke="#f2a634" stroke-width="0.05">G</text>
<text transform="translate(429.35,363.90) scale(5.636,3.953)" font-size="1" font-weight="bold" fill="#2b2bee" stroke="#2b2bee" stroke-width="0.05">C</text>
<text transform="translate(433.42,367.90) scale(5.636,0.465)" font-size="1" font-weight="bold" fill="#3cc93c" stroke="#3cc93c" stroke-width="0.05">A</text>
<text transform="translate(433.42,367.58) scale(5.636,0.698)" font-size="1" font-weight="bold" fill="#2b2bee" stroke="#2b2bee" stroke-width="0.05">C</text>
<text transform="translate(433.42,367.10) scale(6.663,10.465)" font-size="1" font-weight="bold" fill="#e63030" stroke="#e63030" stroke-width="0.05">T</text>
<text transform="translate(437.49,367.90) scale(6.663,0.465)" font-size="1" font-weight="bold" fill="#e63030" stroke="#e63030" stroke-width="0.05">T</text>
<text transform="translate(437.49,367.58) scale(5.636,0.698)" font-size="1" font-weight="bold" fill="#3cc93c" stroke="#3cc93c" stroke-width="0.05">A</text>
<text transform="translate(437.49,367.10) scale(5.636,10.465)" font-size="1" font-weight="bold" fill="#2b2bee" stroke="#2b2bee" stroke-width="0.05">C</text>
<text transform="translate(441.56,367.90) scale(5.636,0.465)" font-size="1" font-weight="bold" fill="#2b2bee" stroke="#2b2bee" stroke-width="0.05">C</text>
<text transform="translate(441.56,367.58) scale(6.663,0.698)" font-size="1" font-weight="bold" fill="#e63030" stroke="#e63030" stroke-width="0.05">T</text>
<text transform="translate(441.56,367.10) scale(5.636,10.465)" font-size="1" font-weight="bold" fill="#3cc93c" stroke="#3cc93c" stroke-width="0.05">A</text>
<text transform="translate(445.63,367.90) scale(5.636,1.163)" font-size="1" font-weight="bold" fill="#3cc93c" stroke="#3cc93c" stroke-width="0.05">A</text>
<text transform="translate(445.63,367.10) scale(5.233,1.860)" font-size="1" font-weight="bold" fill="#f2a634" stroke="#f2a634" stroke-width="0.05">G</text>
<text transform="translate(445.63,365.82) scale(5.636,2.791)" font-size="1" font-weight="bold" fill="#2b2bee" stroke="#2b2bee" stroke-width="0.05">C</text>
<text transform="translate(445.63,363.90) scale(6.663,3.953)" font-size="1" font-weight="bold" fill="#e63030" stroke="#e63030" stroke-width="0.05">T</text>
<text x="460.50" y="385.60" font-size="8.10" fill="#333" stroke="#333" stroke-width="0.252">Fra2</text>
<text x="491.20" y="385.60" font-size="8.10" fill="#333" stroke="#333" stroke-width="0.252">0.0000</text>
<text transform="translate(405.50,386.00) scale(6.657,1.163)" font-size="1" font-weight="bold" fill="#e63030" stroke="#e63030" stroke-width="0.05">T</text>
<text transform="translate(405.50,385.20) scale(5.631,1.860)" font-size="1" font-weight="bold" fill="#3cc93c" stroke="#3cc93c" stroke-width="0.05">A</text>
<text transform="translate(405.50,383.92) scale(5.631,2.791)" font-size="1" font-weight="bold" fill="#2b2bee" stroke="#2b2bee" stroke-width="0.05">C</text>
<text transform="translate(405.50,382.00) scale(5.228,3.953)" font-size="1" font-weight="bold" fill="#f2a634" stroke="#f2a634" stroke-width="0.05">G</text>
<text transform="translate(409.57,386.00) scale(6.657,1.163)" font-size="1" font-weight="bold" fill="#e63030" stroke="#e63030" stroke-width="0.05">T</text>
<text transform="translate(409.57,385.20) scale(5.631,1.860)" font-size="1" font-weight="bold" fill="#3cc93c" stroke="#3cc93c" stroke-width="0.05">A</text>
<text transform="translate(409.57,383.92) scale(5.631,2.791)" font-size="1" font-weight="bold" fill="#2b2bee" stroke="#2b2bee" stroke-width="0.05">C</text>
<text transform="translate(409.57,382.00) scale(5.228,3.953)" font-size="1" font-weight="bold" fill="#f2a634" stroke="#f2a634" stroke-width="0.05">G</text>
<text transform="translate(413.63,386.00) scale(6.657,1.163)" font-size="1" font-weight="bold" fill="#e63030" stroke="#e63030" stroke-width="0.05">T</text>
<text transform="translate(413.63,385.20) scale(5.631,1.860)" font-size="1" font-weight="bold" fill="#2b2bee" stroke="#2b2bee" stroke-width="0.05">C</text>
<text transform="translate(413.63,383.92) scale(5.228,2.791)" font-size="1" font-weight="bold" fill="#f2a634" stroke="#f2a634" stroke-width="0.05">G</text>
<text transform="translate(413.63,382.00) scale(5.631,3.953)" font-size="1" font-weight="bold" fill="#3cc93c" stroke="#3cc93c" stroke-width="0.05">A</text>
<text transform="translate(417.70,386.00) scale(5.228,0.465)" font-size="1" font-weight="bold" fill="#f2a634" stroke="#f2a634" stroke-width="0.05">G</text>
<text transform="translate(417.70,385.68) scale(5.631,0.698)" font-size="1" font-weight="bold" fill="#3cc93c" stroke="#3cc93c" stroke-width="0.05">A</text>
<text transform="translate(417.70,385.20) scale(6.657,10.465)" font-size="1" font-weight="bold" fill="#e63030" stroke="#e63030" stroke-width="0.05">T</text>
<text transform="translate(421.77,386.00) scale(5.631,0.465)" font-size="1" font-weight="bold" fill="#2b2bee" stroke="#2b2bee" stroke-width="0.05">C</text>
<text transform="translate(421.77,385.68) scale(6.657,0.698)" font-size="1" font-weight="bold" fill="#e63030" stroke="#e63030" stroke-width="0.05">T</text>
<text transform="translate(421.77,385.20) scale(5.228,10.465)" font-size="1" font-weight="bold" fill="#f2a634" stroke="#f2a634" stroke-width="0.05">G</text>
<text transform="translate(425.83,386.00) scale(5.631,0.465)" font-size="1" font-weight="bold" fill="#2b2bee" stroke="#2b2bee" stroke-width="0.05">C</text>
<text transform="translate(425.83,385.68) scale(5.228,0.698)" font-size="1" font-weight="bold" fill="#f2a634" stroke="#f2a634" stroke-width="0.05">G</text>
<text transform="translate(425.83,385.20) scale(5.631,10.465)" font-size="1" font-weight="bold" fill="#3cc93c" stroke="#3cc93c" stroke-width="0.05">A</text>
<text transform="translate(429.90,386.00) scale(5.631,1.163)" font-size="1" font-weight="bold" fill="#3cc93c" stroke="#3cc93c" stroke-width="0.05">A</text>
<text transform="translate(429.90,385.20) scale(5.228,1.860)" font-size="1" font-weight="bold" fill="#f2a634" stroke="#f2a634" stroke-width="0.05">G</text>
<text transform="translate(429.90,383.92) scale(6.657,2.791)" font-size="1" font-weight="bold" fill="#e63030" stroke="#e63030" stroke-width="0.05">T</text>
<text transform="translate(429.90,382.00) scale(5.631,3.953)" font-size="1" font-weight="bold" fill="#2b2bee" stroke="#2b2bee" stroke-width="0.05">C</text>
<text transform="translate(433.97,386.00) scale(5.631,0.465)" font-size="1" font-weight="bold" fill="#2b2bee" stroke="#2b2bee" stroke-width="0.05">C</text>
<text transform="translate(433.97,385.68) scale(5.631,0.698)" font-size="1" font-weight="bold" fill="#3cc93c" stroke="#3cc93c" stroke-width="0.05">A</text>
<text transform="translate(433.97,385.20) scale(6.657,10.465)" font-size="1" font-weight="bold" fill="#e63030" stroke="#e63030" stroke-width="0.05">T</text>
<text transform="translate(438.03,386.00) scale(5.228,0.465)" font-size="1" font-weight="bold" fill="#f2a634" stroke="#f2a634" stroke-width="0.05">G</text>
<text transform="translate(438.03,385.68) scale(5.631,0.698)" font-size="1" font-weight="bold" fill="#3cc93c" stroke="#3cc93c" stroke-width="0.05">A</text>
<text transform="translate(438.03,385.20) scale(5.631,10.465)" font-size="1" font-weight="bold" fill="#2b2bee" stroke="#2b2bee" stroke-width="0.05">C</text>
<text transform="translate(442.10,386.00) scale(6.657,0.465)" font-size="1" font-weight="bold" fill="#e63030" stroke="#e63030" stroke-width="0.05">T</text>
<text transform="translate(442.10,385.68) scale(5.228,0.698)" font-size="1" font-weight="bold" fill="#f2a634" stroke="#f2a634" stroke-width="0.05">G</text>
<text transform="translate(442.10,385.20) scale(5.631,10.465)" font-size="1" font-weight="bold" fill="#3cc93c" stroke="#3cc93c" stroke-width="0.05">A</text>
<text transform="translate(446.17,386.00) scale(5.631,1.163)" font-size="1" font-weight="bold" fill="#2b2bee" stroke="#2b2bee" stroke-width="0.05">C</text>
<text transform="translate(446.17,385.20) scale(5.228,1.860)" font-size="1" font-weight="bold" fill="#f2a634" stroke="#f2a634" stroke-width="0.05">G</text>
<text transform="translate(446.17,383.92) scale(5.631,2.791)" font-size="1" font-weight="bold" fill="#3cc93c" stroke="#3cc93c" stroke-width="0.05">A</text>
<text transform="translate(446.17,382.00) scale(6.657,3.953)" font-size="1" font-weight="bold" fill="#e63030" stroke="#e63030" stroke-width="0.05">T</text>
<text transform="translate(450.23,386.00) scale(6.657,1.163)" font-size="1" font-weight="bold" fill="#e63030" stroke="#e63030" stroke-width="0.05">T</text>
<text transform="translate(450.23,385.20) scale(5.631,1.860)" font-size="1" font-weight="bold" fill="#3cc93c" stroke="#3cc93c" stroke-width="0.05">A</text>
<text transform="translate(450.23,383.92) scale(5.228,2.791)" font-size="1" font-weight="bold" fill="#f2a634" stroke="#f2a634" stroke-width="0.05">G</text>
<text transform="translate(450.23,382.00) scale(5.631,3.953)" font-size="1" font-weight="bold" fill="#2b2bee" stroke="#2b2bee" stroke-width="0.05">C</text>
<text x="460.50" y="403.90" font-size="8.10" fill="#333" stroke="#333" stroke-width="0.252">AP-1</text>
<text x="491.20" y="403.90" font-size="8.10" fill="#333" stroke="#333" stroke-width="0.252">0.0000</text>
<text transform="translate(411.70,404.50) scale(5.143,1.163)" font-size="1" font-weight="bold" fill="#f2a634" stroke="#f2a634" stroke-width="0.05">G</text>
<text transform="translate(411.70,403.70) scale(5.539,1.860)" font-size="1" font-weight="bold" fill="#2b2bee" stroke="#2b2bee" stroke-width="0.05">C</text>
<text transform="translate(411.70,402.42) scale(6.548,2.791)" font-size="1" font-weight="bold" fill="#e63030" stroke="#e63030" stroke-width="0.05">T</text>
<text transform="translate(411.70,400.50) scale(5.539,3.953)" font-size="1" font-weight="bold" fill="#3cc93c" stroke="#3cc93c" stroke-width="0.05">A</text>
<text transform="translate(415.70,404.50) scale(5.143,0.465)" font-size="1" font-weight="bold" fill="#f2a634" stroke="#f2a634" stroke-width="0.05">G</text>
<text transform="translate(415.70,404.18) scale(5.539,0.698)" font-size="1" font-weight="bold" fill="#3cc93c" stroke="#3cc93c" stroke-width="0.05">A</text>
<text transform="translate(415.70,403.70) scale(6.548,10.465)" font-size="1" font-weight="bold" fill="#e63030" stroke="#e63030" stroke-width="0.05">T</text>
<text transform="translate(419.70,404.50) scale(5.539,0.465)" font-size="1" font-weight="bold" fill="#2b2bee" stroke="#2b2bee" stroke-width="0.05">C</text>
<text transform="translate(419.70,404.18) scale(5.539,0.698)" font-size="1" font-weight="bold" fill="#3cc93c" stroke="#3cc93c" stroke-width="0.05">A</text>
<text transform="translate(419.70,403.70) scale(5.143,10.465)" font-size="1" font-weight="bold" fill="#f2a634" stroke="#f2a634" stroke-width="0.05">G</text>
<text transform="translate(423.70,404.50) scale(5.539,0.465)" font-size="1" font-weight="bold" fill="#2b2bee" stroke="#2b2bee" stroke-width="0.05">C</text>
<text transform="translate(423.70,404.18) scale(6.548,0.698)" font-size="1" font-weight="bold" fill="#e63030" stroke="#e63030" stroke-width="0.05">T</text>
<text transform="translate(423.70,403.70) scale(5.539,10.465)" font-size="1" font-weight="bold" fill="#3cc93c" stroke="#3cc93c" stroke-width="0.05">A</text>
<text transform="translate(427.70,404.50) scale(6.548,1.163)" font-size="1" font-weight="bold" fill="#e63030" stroke="#e63030" stroke-width="0.05">T</text>
<text transform="translate(427.70,403.70) scale(5.143,1.860)" font-size="1" font-weight="bold" fill="#f2a634" stroke="#f2a634" stroke-width="0.05">G</text>
<text transform="translate(427.70,402.42) scale(5.539,2.791)" font-size="1" font-weight="bold" fill="#3cc93c" stroke="#3cc93c" stroke-width="0.05">A</text>
<text transform="translate(427.70,400.50) scale(5.539,3.953)" font-size="1" font-weight="bold" fill="#2b2bee" stroke="#2b2bee" stroke-width="0.05">C</text>
<text transform="translate(431.70,404.50) scale(5.539,0.465)" font-size="1" font-weight="bold" fill="#3cc93c" stroke="#3cc93c" stroke-width="0.05">A</text>
<text transform="translate(431.70,404.18) scale(5.539,0.698)" font-size="1" font-weight="bold" fill="#2b2bee" stroke="#2b2bee" stroke-width="0.05">C</text>
<text transform="translate(431.70,403.70) scale(6.548,10.465)" font-size="1" font-weight="bold" fill="#e63030" stroke="#e63030" stroke-width="0.05">T</text>
<text transform="translate(435.70,404.50) scale(6.548,0.465)" font-size="1" font-weight="bold" fill="#e63030" stroke="#e63030" stroke-width="0.05">T</text>
<text transform="translate(435.70,404.18) scale(5.539,0.698)" font-size="1" font-weight="bold" fill="#3cc93c" stroke="#3cc93c" stroke-width="0.05">A</text>
<text transform="translate(435.70,403.70) scale(5.539,10.465)" font-size="1" font-weight="bold" fill="#2b2bee" stroke="#2b2bee" stroke-width="0.05">C</text>
<text transform="translate(439.70,404.50) scale(6.548,0.465)" font-size="1" font-weight="bold" fill="#e63030" stroke="#e63030" stroke-width="0.05">T</text>
<text transform="translate(439.70,404.18) scale(5.143,0.698)" font-size="1" font-weight="bold" fill="#f2a634" stroke="#f2a634" stroke-width="0.05">G</text>
<text transform="translate(439.70,403.70) scale(5.539,10.465)" font-size="1" font-weight="bold" fill="#3cc93c" stroke="#3cc93c" stroke-width="0.05">A</text>
<text transform="translate(443.70,404.50) scale(5.539,1.163)" font-size="1" font-weight="bold" fill="#2b2bee" stroke="#2b2bee" stroke-width="0.05">C</text>
<text transform="translate(443.70,403.70) scale(5.143,1.860)" font-size="1" font-weight="bold" fill="#f2a634" stroke="#f2a634" stroke-width="0.05">G</text>
<text transform="translate(443.70,402.42) scale(5.539,2.791)" font-size="1" font-weight="bold" fill="#3cc93c" stroke="#3cc93c" stroke-width="0.05">A</text>
<text transform="translate(443.70,400.50) scale(6.548,3.953)" font-size="1" font-weight="bold" fill="#e63030" stroke="#e63030" stroke-width="0.05">T</text>
<text transform="translate(447.70,404.50) scale(5.143,1.163)" font-size="1" font-weight="bold" fill="#f2a634" stroke="#f2a634" stroke-width="0.05">G</text>
<text transform="translate(447.70,403.70) scale(5.539,1.860)" font-size="1" font-weight="bold" fill="#3cc93c" stroke="#3cc93c" stroke-width="0.05">A</text>
<text transform="translate(447.70,402.42) scale(6.548,2.791)" font-size="1" font-weight="bold" fill="#e63030" stroke="#e63030" stroke-width="0.05">T</text>
<text transform="translate(447.70,400.50) scale(5.539,3.953)" font-size="1" font-weight="bold" fill="#2b2bee" stroke="#2b2bee" stroke-width="0.05">C</text>
<text x="462.90" y="422.50" font-size="8.10" fill="#333" stroke="#333" stroke-width="0.252">Fosl2</text>
<text x="491.80" y="422.50" font-size="8.10" fill="#333" stroke="#333" stroke-width="0.252">0.0000</text>
<text transform="translate(405.50,423.10) scale(6.657,1.163)" font-size="1" font-weight="bold" fill="#e63030" stroke="#e63030" stroke-width="0.05">T</text>
<text transform="translate(405.50,422.30) scale(5.631,1.860)" font-size="1" font-weight="bold" fill="#3cc93c" stroke="#3cc93c" stroke-width="0.05">A</text>
<text transform="translate(405.50,421.02) scale(5.631,2.791)" font-size="1" font-weight="bold" fill="#2b2bee" stroke="#2b2bee" stroke-width="0.05">C</text>
<text transform="translate(405.50,419.10) scale(5.228,3.953)" font-size="1" font-weight="bold" fill="#f2a634" stroke="#f2a634" stroke-width="0.05">G</text>
<text transform="translate(409.57,423.10) scale(6.657,1.163)" font-size="1" font-weight="bold" fill="#e63030" stroke="#e63030" stroke-width="0.05">T</text>
<text transform="translate(409.57,422.30) scale(5.228,1.860)" font-size="1" font-weight="bold" fill="#f2a634" stroke="#f2a634" stroke-width="0.05">G</text>
<text transform="translate(409.57,421.02) scale(5.631,2.791)" font-size="1" font-weight="bold" fill="#2b2bee" stroke="#2b2bee" stroke-width="0.05">C</text>
<text transform="translate(409.57,419.10) scale(5.631,3.953)" font-size="1" font-weight="bold" fill="#3cc93c" stroke="#3cc93c" stroke-width="0.05">A</text>
<text transform="translate(413.63,423.10) scale(5.228,0.465)" font-size="1" font-weight="bold" fill="#f2a634" stroke="#f2a634" stroke-width="0.05">G</text>
<text transform="translate(413.63,422.78) scale(5.631,0.698)" font-size="1" font-weight="bold" fill="#2b2bee" stroke="#2b2bee" stroke-width="0.05">C</text>
<text transform="translate(413.63,422.30) scale(6.657,10.465)" font-size="1" font-weight="bold" fill="#e63030" stroke="#e63030" stroke-width="0.05">T</text>
<text transform="translate(417.70,423.10) scale(6.657,0.465)" font-size="1" font-weight="bold" fill="#e63030" stroke="#e63030" stroke-width="0.05">T</text>
<text transform="translate(417.70,422.78) scale(5.631,0.698)" font-size="1" font-weight="bold" fill="#3cc93c" stroke="#3cc93c" stroke-width="0.05">A</text>
<text transform="translate(417.70,422.30) scale(5.228,10.465)" font-size="1" font-weight="bold" fill="#f2a634" stroke="#f2a634" stroke-width="0.05">G</text>
<text transform="translate(421.77,423.10) scale(5.631,0.465)" font-size="1" font-weight="bold" fill="#2b2bee" stroke="#2b2bee" stroke-width="0.05">C</text>
<text transform="translate(421.77,422.78) scale(5.228,0.698)" font-size="1" font-weight="bold" fill="#f2a634" stroke="#f2a634" stroke-width="0.05">G</text>
<text transform="translate(421.77,422.30) scale(5.631,10.465)" font-size="1" font-weight="bold" fill="#3cc93c" stroke="#3cc93c" stroke-width="0.05">A</text>
<text transform="translate(425.83,423.10) scale(5.228,1.163)" font-size="1" font-weight="bold" fill="#f2a634" stroke="#f2a634" stroke-width="0.05">G</text>
<text transform="translate(425.83,422.30) scale(5.631,1.860)" font-size="1" font-weight="bold" fill="#3cc93c" stroke="#3cc93c" stroke-width="0.05">A</text>
<text transform="translate(425.83,421.02) scale(6.657,2.791)" font-size="1" font-weight="bold" fill="#e63030" stroke="#e63030" stroke-width="0.05">T</text>
<text transform="translate(425.83,419.10) scale(5.631,3.953)" font-size="1" font-weight="bold" fill="#2b2bee" stroke="#2b2bee" stroke-width="0.05">C</text>
<text transform="translate(429.90,423.10) scale(5.631,0.465)" font-size="1" font-weight="bold" fill="#3cc93c" stroke="#3cc93c" stroke-width="0.05">A</text>
<text transform="translate(429.90,422.78) scale(5.228,0.698)" font-size="1" font-weight="bold" fill="#f2a634" stroke="#f2a634" stroke-width="0.05">G</text>
<text transform="translate(429.90,422.30) scale(6.657,10.465)" font-size="1" font-weight="bold" fill="#e63030" stroke="#e63030" stroke-width="0.05">T</text>
<text transform="translate(433.97,423.10) scale(5.228,0.465)" font-size="1" font-weight="bold" fill="#f2a634" stroke="#f2a634" stroke-width="0.05">G</text>
<text transform="translate(433.97,422.78) scale(5.631,0.698)" font-size="1" font-weight="bold" fill="#3cc93c" stroke="#3cc93c" stroke-width="0.05">A</text>
<text transform="translate(433.97,422.30) scale(5.631,10.465)" font-size="1" font-weight="bold" fill="#2b2bee" stroke="#2b2bee" stroke-width="0.05">C</text>
<text transform="translate(438.03,423.10) scale(5.228,0.465)" font-size="1" font-weight="bold" fill="#f2a634" stroke="#f2a634" stroke-width="0.05">G</text>
<text transform="translate(438.03,422.78) scale(6.657,0.698)" font-size="1" font-weight="bold" fill="#e63030" stroke="#e63030" stroke-width="0.05">T</text>
<text transform="translate(438.03,422.30) scale(5.631,10.465)" font-size="1" font-weight="bold" fill="#3cc93c" stroke="#3cc93c" stroke-width="0.05">A</text>
<text transform="translate(442.10,423.10) scale(5.631,1.163)" font-size="1" font-weight="bold" fill="#2b2bee" stroke="#2b2bee" stroke-width="0.05">C</text>
<text transform="translate(442.10,422.30) scale(5.631,1.860)" font-size="1" font-weight="bold" fill="#3cc93c" stroke="#3cc93c" stroke-width="0.05">A</text>
<text transform="translate(442.10,421.02) scale(5.228,2.791)" font-size="1" font-weight="bold" fill="#f2a634" stroke="#f2a634" stroke-width="0.05">G</text>
<text transform="translate(442.10,419.10) scale(6.657,3.953)" font-size="1" font-weight="bold" fill="#e63030" stroke="#e63030" stroke-width="0.05">T</text>
<text transform="translate(446.17,423.10) scale(5.631,1.163)" font-size="1" font-weight="bold" fill="#3cc93c" stroke="#3cc93c" stroke-width="0.05">A</text>
<text transform="translate(446.17,422.30) scale(5.228,1.860)" font-size="1" font-weight="bold" fill="#f2a634" stroke="#f2a634" stroke-width="0.05">G</text>
<text transform="translate(446.17,421.02) scale(6.657,2.791)" font-size="1" font-weight="bold" fill="#e63030" stroke="#e63030" stroke-width="0.05">T</text>
<text transform="translate(446.17,419.10) scale(5.631,3.953)" font-size="1" font-weight="bold" fill="#2b2bee" stroke="#2b2bee" stroke-width="0.05">C</text>
<text transform="translate(450.23,423.10) scale(5.631,1.163)" font-size="1" font-weight="bold" fill="#3cc93c" stroke="#3cc93c" stroke-width="0.05">A</text>
<text transform="translate(450.23,422.30) scale(6.657,1.860)" font-size="1" font-weight="bold" fill="#e63030" stroke="#e63030" stroke-width="0.05">T</text>
<text transform="translate(450.23,421.02) scale(5.228,2.791)" font-size="1" font-weight="bold" fill="#f2a634" stroke="#f2a634" stroke-width="0.05">G</text>
<text transform="translate(450.23,419.10) scale(5.631,3.953)" font-size="1" font-weight="bold" fill="#2b2bee" stroke="#2b2bee" stroke-width="0.05">C</text>
<rect x="18.30" y="458.30" width="10.10" height="218.00" fill="url(#b1L)"/>
<rect x="28.40" y="458.30" width="36.10" height="218.00" fill="url(#b1R)"/>
<rect x="18.30" y="678.40" width="10.10" height="8.40" fill="#cde3f2"/>
<rect x="28.40" y="678.40" width="36.10" height="8.40" fill="#d9eaf6"/>
<rect x="18.30" y="458.3" width="46.20" height="218" filter="url(#nzB)" opacity="0.08"/>
<rect x="27.60" y="458.30" width="1.60" height="218.00" fill="#8fc2e3"/>
<rect x="18.30" y="458.30" width="46.20" height="218.00" fill="none" stroke="#a9a9a9" stroke-width="0.9"/>
<rect x="27.60" y="678.40" width="1.60" height="8.40" fill="#8fc2e3"/>
<rect x="18.30" y="678.40" width="46.20" height="8.40" fill="none" stroke="#a9a9a9" stroke-width="0.9"/>
<line x1="18.30" y1="686.80" x2="18.30" y2="689.00" stroke="#555" stroke-width="0.5"/>
<line x1="28.40" y1="686.80" x2="28.40" y2="689.00" stroke="#555" stroke-width="0.5"/>
<line x1="64.50" y1="686.80" x2="64.50" y2="689.00" stroke="#555" stroke-width="0.5"/>
<rect x="67.40" y="458.30" width="10.40" height="218.00" fill="url(#b2L)"/>
<rect x="77.80" y="458.30" width="35.10" height="218.00" fill="url(#b2R)"/>
<rect x="67.40" y="678.40" width="10.40" height="8.40" fill="#cde3f2"/>
<rect x="77.80" y="678.40" width="35.10" height="8.40" fill="#d9eaf6"/>
<rect x="67.40" y="458.3" width="45.50" height="218" filter="url(#nzB)" opacity="0.08"/>
<rect x="77.00" y="458.30" width="1.60" height="218.00" fill="#6eaedb"/>
<rect x="67.40" y="458.30" width="45.50" height="218.00" fill="none" stroke="#a9a9a9" stroke-width="0.9"/>
<rect x="77.00" y="678.40" width="1.60" height="8.40" fill="#6eaedb"/>
<rect x="67.40" y="678.40" width="45.50" height="8.40" fill="none" stroke="#a9a9a9" stroke-width="0.9"/>
<line x1="67.40" y1="686.80" x2="67.40" y2="689.00" stroke="#555" stroke-width="0.5"/>
<line x1="77.80" y1="686.80" x2="77.80" y2="689.00" stroke="#555" stroke-width="0.5"/>
<line x1="112.90" y1="686.80" x2="112.90" y2="689.00" stroke="#555" stroke-width="0.5"/>
<rect x="116.20" y="458.30" width="10.50" height="218.00" fill="url(#b3L)"/>
<rect x="126.70" y="458.30" width="34.90" height="218.00" fill="url(#b3R)"/>
<rect x="116.20" y="678.40" width="10.50" height="8.40" fill="#cde3f2"/>
<rect x="126.70" y="678.40" width="34.90" height="8.40" fill="#d9eaf6"/>
<rect x="116.20" y="458.3" width="45.40" height="218" filter="url(#nzB)" opacity="0.08"/>
<rect x="125.90" y="458.30" width="1.60" height="218.00" fill="#74b1dc"/>
<rect x="116.20" y="458.30" width="45.40" height="218.00" fill="none" stroke="#a9a9a9" stroke-width="0.9"/>
<rect x="125.90" y="678.40" width="1.60" height="8.40" fill="#74b1dc"/>
<rect x="116.20" y="678.40" width="45.40" height="8.40" fill="none" stroke="#a9a9a9" stroke-width="0.9"/>
<line x1="116.20" y1="686.80" x2="116.20" y2="689.00" stroke="#555" stroke-width="0.5"/>
<line x1="126.70" y1="686.80" x2="126.70" y2="689.00" stroke="#555" stroke-width="0.5"/>
<line x1="161.60" y1="686.80" x2="161.60" y2="689.00" stroke="#555" stroke-width="0.5"/>
<rect x="165.30" y="458.30" width="5.40" height="228.90" fill="url(#bcb)"/>
<rect x="165.3" y="458.3" width="5.4" height="228.9" fill="none" stroke="#999" stroke-width="0.4"/>
<line x1="170.70" y1="468.30" x2="172.00" y2="468.30" stroke="#555" stroke-width="0.5"/>
<text x="174.00" y="470.50" font-size="6.30" stroke="#1c1819" stroke-width="0.196">50</text>
<line x1="170.70" y1="511.90" x2="172.00" y2="511.90" stroke="#555" stroke-width="0.5"/>
<text x="174.00" y="514.10" font-size="6.30" stroke="#1c1819" stroke-width="0.196">40</text>
<line x1="170.70" y1="555.50" x2="172.00" y2="555.50" stroke="#555" stroke-width="0.5"/>
<text x="174.00" y="557.70" font-size="6.30" stroke="#1c1819" stroke-width="0.196">30</text>
<line x1="170.70" y1="599.10" x2="172.00" y2="599.10" stroke="#555" stroke-width="0.5"/>
<text x="174.00" y="601.30" font-size="6.30" stroke="#1c1819" stroke-width="0.196">20</text>
<line x1="170.70" y1="642.70" x2="172.00" y2="642.70" stroke="#555" stroke-width="0.5"/>
<text x="174.00" y="644.90" font-size="6.30" stroke="#1c1819" stroke-width="0.196">10</text>
<line x1="170.70" y1="686.30" x2="172.00" y2="686.30" stroke="#555" stroke-width="0.5"/>
<text x="174.00" y="688.50" font-size="6.30" stroke="#1c1819" stroke-width="0.196">0</text>
<text x="4.40" y="446.22" font-size="14.56" fill="#231f20" font-weight="bold" stroke="#231f20" stroke-width="0.35">H</text>
<text x="67.70" y="441.90" font-size="10.13" stroke="#1c1819" stroke-width="0.296">H3K27Ac ChIP</text>
<text x="31.50" y="453.60" font-size="9.42" stroke="#1c1819" stroke-width="0.293">sgCtr</text>
<text x="77.40" y="453.60" font-size="8.86" stroke="#1c1819" stroke-width="0.276">Brd7-KO1</text>
<text x="125.00" y="453.60" font-size="9.18" stroke="#1c1819" stroke-width="0.285">Brd7-KO2</text>
<text x="11.00" y="561.70" font-size="9.22" transform="rotate(-90 11.00 561.70)" stroke="#1c1819" stroke-width="0.287">Brd7_KO gain peaks</text>
<text x="12.60" y="696.10" font-size="9.16" transform="rotate(-90 12.60 696.10)" stroke="#1c1819" stroke-width="0.285">Brd7_KO loss peaks</text>
<text x="11.40" y="696.60" font-size="6.30" stroke="#1c1819" stroke-width="0.196">-3.0</text>
<text x="22.30" y="696.60" font-size="6.30" stroke="#1c1819" stroke-width="0.196">center</text>
<text x="43.80" y="696.60" font-size="6.30" stroke="#1c1819" stroke-width="0.196">10.0Kb</text>
<text x="66.60" y="696.60" font-size="6.30" stroke="#1c1819" stroke-width="0.196">-3.0center</text>
<text x="95.80" y="696.60" font-size="6.30" stroke="#1c1819" stroke-width="0.196">10.0Kb</text>
<text x="116.20" y="696.60" font-size="6.30" stroke="#1c1819" stroke-width="0.196">-3.0</text>
<text x="129.90" y="696.60" font-size="6.30" stroke="#1c1819" stroke-width="0.196">center</text>
<text x="151.20" y="696.60" font-size="6.30" stroke="#1c1819" stroke-width="0.196">10.0Kb</text>
<text x="9.50" y="711.90" font-size="7.66" stroke="#1c1819" stroke-width="0.238">Distance from center of H3k27Ac ChIP-seq signal</text>
<text x="184.30" y="446.32" font-size="14.56" fill="#231f20" font-weight="bold" stroke="#231f20" stroke-width="0.35">I</text>
<text x="208.90" y="457.20" font-size="7.54" stroke="#1c1819" stroke-width="0.235">BRD7-KO gain</text>
<text x="282.80" y="457.50" font-size="7.48" stroke="#1c1819" stroke-width="0.233">BRD7-KO loss</text>
<rect x="207.8" y="461.1" width="48.70" height="62.20" fill="#fff" stroke="#9a9a9a" stroke-width="0.6"/>
<line x1="207.80" y1="523.30" x2="256.50" y2="523.30" stroke="#555" stroke-width="0.6"/>
<line x1="206.00" y1="516.30" x2="207.80" y2="516.30" stroke="#444" stroke-width="0.5"/>
<text x="204.40" y="518.50" font-size="6.30" text-anchor="end" stroke="#1c1819" stroke-width="0.196">10</text>
<line x1="206.00" y1="503.58" x2="207.80" y2="503.58" stroke="#444" stroke-width="0.5"/>
<text x="204.40" y="505.78" font-size="6.30" text-anchor="end" stroke="#1c1819" stroke-width="0.196">15</text>
<line x1="206.00" y1="490.86" x2="207.80" y2="490.86" stroke="#444" stroke-width="0.5"/>
<text x="204.40" y="493.06" font-size="6.30" text-anchor="end" stroke="#1c1819" stroke-width="0.196">20</text>
<line x1="206.00" y1="478.14" x2="207.80" y2="478.14" stroke="#444" stroke-width="0.5"/>
<text x="204.40" y="480.34" font-size="6.30" text-anchor="end" stroke="#1c1819" stroke-width="0.196">25</text>
<line x1="206.00" y1="465.42" x2="207.80" y2="465.42" stroke="#444" stroke-width="0.5"/>
<text x="204.40" y="467.62" font-size="6.30" text-anchor="end" stroke="#1c1819" stroke-width="0.196">30</text>
<line x1="207.80" y1="523.30" x2="207.80" y2="525.20" stroke="#444" stroke-width="0.5"/>
<line x1="219.04" y1="523.30" x2="219.04" y2="525.20" stroke="#444" stroke-width="0.5"/>
<line x1="256.50" y1="523.30" x2="256.50" y2="525.20" stroke="#444" stroke-width="0.5"/>
<text x="194.50" y="492.30" font-size="5.65" text-anchor="middle" transform="rotate(-90 194.50 492.30)" stroke="#1c1819" stroke-width="0.176">Normalized signal</text>
<rect x="282.2" y="461.1" width="47.90" height="62.20" fill="#fff" stroke="#9a9a9a" stroke-width="0.6"/>
<line x1="282.20" y1="523.30" x2="330.10" y2="523.30" stroke="#555" stroke-width="0.6"/>
<line x1="280.40" y1="516.30" x2="282.20" y2="516.30" stroke="#444" stroke-width="0.5"/>
<text x="278.80" y="518.50" font-size="6.30" text-anchor="end" stroke="#1c1819" stroke-width="0.196">10</text>
<line x1="280.40" y1="503.58" x2="282.20" y2="503.58" stroke="#444" stroke-width="0.5"/>
<text x="278.80" y="505.78" font-size="6.30" text-anchor="end" stroke="#1c1819" stroke-width="0.196">15</text>
<line x1="280.40" y1="490.86" x2="282.20" y2="490.86" stroke="#444" stroke-width="0.5"/>
<text x="278.80" y="493.06" font-size="6.30" text-anchor="end" stroke="#1c1819" stroke-width="0.196">20</text>
<line x1="280.40" y1="478.14" x2="282.20" y2="478.14" stroke="#444" stroke-width="0.5"/>
<text x="278.80" y="480.34" font-size="6.30" text-anchor="end" stroke="#1c1819" stroke-width="0.196">25</text>
<line x1="280.40" y1="465.42" x2="282.20" y2="465.42" stroke="#444" stroke-width="0.5"/>
<text x="278.80" y="467.62" font-size="6.30" text-anchor="end" stroke="#1c1819" stroke-width="0.196">30</text>
<line x1="282.20" y1="523.30" x2="282.20" y2="525.20" stroke="#444" stroke-width="0.5"/>
<line x1="293.25" y1="523.30" x2="293.25" y2="525.20" stroke="#444" stroke-width="0.5"/>
<line x1="330.10" y1="523.30" x2="330.10" y2="525.20" stroke="#444" stroke-width="0.5"/>
<text x="268.80" y="492.30" font-size="5.65" text-anchor="middle" transform="rotate(-90 268.80 492.30)" stroke="#1c1819" stroke-width="0.176">Normalized signal</text>
<path d="M208.10,503.56 L208.30,503.51 L208.50,503.43 L208.70,503.34 L208.90,503.22 L209.10,503.09 L209.30,502.94 L209.50,502.78 L209.70,502.61 L209.90,502.43 L210.10,502.24 L210.30,502.05 L210.51,501.86 L210.71,501.67 L210.91,501.49 L211.11,501.30 L211.31,501.13 L211.51,500.96 L211.71,500.81 L211.91,500.67 L212.11,500.55 L212.31,500.45 L212.51,500.37 L212.71,500.31 L212.91,500.28 L213.11,500.27 L213.31,500.19 L213.51,500.02 L213.71,499.78 L213.91,499.48 L214.11,499.13 L214.31,498.74 L214.51,498.32 L214.71,497.88 L214.91,497.43 L215.11,496.99 L215.32,496.57 L215.52,496.17 L215.72,495.80 L215.92,495.49 L216.12,495.23 L216.32,495.05 L216.52,494.95 L216.72,494.95 L216.92,495.18 L217.12,495.56 L217.32,496.00 L217.52,496.40 L217.72,496.66 L217.92,496.70 L218.12,496.62 L218.32,496.52 L218.52,496.46 L218.72,486.20 L218.92,467.46 L219.12,465.43 L219.32,483.16 L219.52,496.37 L219.72,496.50 L219.92,496.60 L220.13,496.69 L220.33,496.66 L220.53,496.24 L220.73,495.72 L220.93,495.44 L221.13,495.49 L221.33,495.64 L221.53,495.87 L221.73,496.18 L221.93,496.54 L222.13,496.95 L222.33,497.38 L222.53,497.82 L222.73,498.26 L222.93,498.68 L223.13,499.07 L223.33,499.41 L223.53,499.69 L223.73,499.89 L223.93,500.00 L224.13,500.02 L224.33,500.06 L224.53,500.12 L224.73,500.22 L224.94,500.34 L225.14,500.49 L225.34,500.66 L225.54,500.84 L225.74,501.04 L225.94,501.25 L226.14,501.47 L226.34,501.70 L226.54,501.93 L226.74,502.16 L226.94,502.38 L227.14,502.60 L227.34,502.81 L227.54,503.01 L227.74,503.20 L227.94,503.36 L228.14,503.51 L228.34,503.63 L228.54,503.73 L228.74,503.80 L228.94,503.83 L229.14,503.84 L229.34,503.84 L229.54,503.86 L229.75,503.89 L229.95,503.92 L230.15,503.96 L230.35,504.00 L230.55,504.05 L230.75,504.11 L230.95,504.17 L231.15,504.24 L231.35,504.32 L231.55,504.40 L231.75,504.48 L231.95,504.56 L232.15,504.65 L232.35,504.75 L232.55,504.84 L232.75,504.94 L232.95,505.04 L233.15,505.15 L233.35,505.25 L233.55,505.36 L233.75,505.46 L233.95,505.57 L234.15,505.68 L234.35,505.78 L234.56,505.89 L234.76,506.00 L234.96,506.10 L235.16,506.20 L235.36,506.30 L235.56,506.40 L235.76,506.50 L235.96,506.59 L236.16,506.68 L236.36,506.77 L236.56,506.85 L236.76,506.93 L236.96,507.00 L237.16,507.07 L237.36,507.13 L237.56,507.19 L237.76,507.24 L237.96,507.28 L238.16,507.32 L238.36,507.35 L238.56,507.37 L238.76,507.39 L238.96,507.40 L239.16,507.40 L239.37,507.40 L239.57,507.40 L239.77,507.41 L239.97,507.41 L240.17,507.42 L240.37,507.43 L240.57,507.44 L240.77,507.46 L240.97,507.47 L241.17,507.48 L241.37,507.50 L241.57,507.52 L241.77,507.54 L241.97,507.56 L242.17,507.58 L242.37,507.60 L242.57,507.63 L242.77,507.65 L242.97,507.68 L243.17,507.70 L243.37,507.73 L243.57,507.76 L243.77,507.79 L243.97,507.82 L244.18,507.85 L244.38,507.88 L244.58,507.91 L244.78,507.95 L244.98,507.98 L245.18,508.01 L245.38,508.05 L245.58,508.08 L245.78,508.12 L245.98,508.15 L246.18,508.19 L246.38,508.23 L246.58,508.26 L246.78,508.30 L246.98,508.34 L247.18,508.38 L247.38,508.42 L247.58,508.45 L247.78,508.49 L247.98,508.53 L248.18,508.57 L248.38,508.61 L248.58,508.64 L248.78,508.68 L248.98,508.72 L249.19,508.76 L249.39,508.80 L249.59,508.83 L249.79,508.87 L249.99,508.91 L250.19,508.94 L250.39,508.98 L250.59,509.01 L250.79,509.05 L250.99,509.08 L251.19,509.12 L251.39,509.15 L251.59,509.18 L251.79,509.22 L251.99,509.25 L252.19,509.28 L252.39,509.31 L252.59,509.34 L252.79,509.36 L252.99,509.39 L253.19,509.42 L253.39,509.44 L253.59,509.47 L253.79,509.49 L254.00,509.51 L254.20,509.53 L254.40,509.55 L254.60,509.57 L254.80,509.59 L255.00,509.60 L255.20,509.62 L255.40,509.63 L255.60,509.64 L255.80,509.65 L256.00,509.66 L256.20,509.67" fill="none" stroke="#66eef2" stroke-width="1.1" stroke-linejoin="round"/>
<path d="M208.10,505.59 L208.30,505.54 L208.50,505.46 L208.70,505.35 L208.90,505.23 L209.10,505.09 L209.30,504.93 L209.50,504.75 L209.70,504.57 L209.90,504.38 L210.10,504.18 L210.30,503.97 L210.51,503.77 L210.71,503.56 L210.91,503.36 L211.11,503.16 L211.31,502.98 L211.51,502.80 L211.71,502.63 L211.91,502.49 L212.11,502.35 L212.31,502.24 L212.51,502.16 L212.71,502.09 L212.91,502.06 L213.11,502.05 L213.31,501.96 L213.51,501.78 L213.71,501.52 L213.91,501.19 L214.11,500.80 L214.31,500.37 L214.51,499.91 L214.71,499.43 L214.91,498.94 L215.11,498.46 L215.32,497.99 L215.52,497.56 L215.72,497.16 L215.92,496.81 L216.12,496.54 L216.32,496.33 L216.52,496.22 L216.72,496.22 L216.92,496.45 L217.12,496.83 L217.32,497.27 L217.52,497.67 L217.72,497.93 L217.92,497.97 L218.12,497.89 L218.32,497.79 L218.52,497.73 L218.72,489.80 L218.92,475.32 L219.12,473.75 L219.32,487.45 L219.52,497.66 L219.72,497.77 L219.92,497.88 L220.13,497.97 L220.33,497.94 L220.53,497.61 L220.73,497.19 L220.93,496.97 L221.13,497.02 L221.33,497.19 L221.53,497.45 L221.73,497.79 L221.93,498.19 L222.13,498.64 L222.33,499.12 L222.53,499.61 L222.73,500.10 L222.93,500.57 L223.13,501.00 L223.33,501.38 L223.53,501.69 L223.73,501.91 L223.93,502.04 L224.13,502.06 L224.33,502.09 L224.53,502.16 L224.73,502.25 L224.94,502.38 L225.14,502.52 L225.34,502.69 L225.54,502.88 L225.74,503.08 L225.94,503.29 L226.14,503.51 L226.34,503.73 L226.54,503.96 L226.74,504.19 L226.94,504.42 L227.14,504.64 L227.34,504.85 L227.54,505.05 L227.74,505.23 L227.94,505.40 L228.14,505.55 L228.34,505.67 L228.54,505.76 L228.74,505.83 L228.94,505.87 L229.14,505.87 L229.34,505.88 L229.54,505.90 L229.75,505.92 L229.95,505.96 L230.15,506.00 L230.35,506.05 L230.55,506.10 L230.75,506.17 L230.95,506.23 L231.15,506.31 L231.35,506.39 L231.55,506.47 L231.75,506.56 L231.95,506.65 L232.15,506.75 L232.35,506.85 L232.55,506.95 L232.75,507.06 L232.95,507.17 L233.15,507.28 L233.35,507.39 L233.55,507.50 L233.75,507.61 L233.95,507.73 L234.15,507.84 L234.35,507.96 L234.56,508.07 L234.76,508.19 L234.96,508.30 L235.16,508.41 L235.36,508.51 L235.56,508.62 L235.76,508.72 L235.96,508.82 L236.16,508.92 L236.36,509.01 L236.56,509.10 L236.76,509.18 L236.96,509.26 L237.16,509.33 L237.36,509.40 L237.56,509.46 L237.76,509.51 L237.96,509.56 L238.16,509.60 L238.36,509.64 L238.56,509.66 L238.76,509.68 L238.96,509.68 L239.16,509.69 L239.37,509.69 L239.57,509.69 L239.77,509.70 L239.97,509.70 L240.17,509.71 L240.37,509.72 L240.57,509.73 L240.77,509.74 L240.97,509.76 L241.17,509.77 L241.37,509.79 L241.57,509.81 L241.77,509.83 L241.97,509.85 L242.17,509.87 L242.37,509.89 L242.57,509.92 L242.77,509.94 L242.97,509.97 L243.17,509.99 L243.37,510.02 L243.57,510.05 L243.77,510.08 L243.97,510.11 L244.18,510.14 L244.38,510.17 L244.58,510.20 L244.78,510.24 L244.98,510.27 L245.18,510.30 L245.38,510.34 L245.58,510.37 L245.78,510.41 L245.98,510.44 L246.18,510.48 L246.38,510.52 L246.58,510.55 L246.78,510.59 L246.98,510.63 L247.18,510.67 L247.38,510.71 L247.58,510.74 L247.78,510.78 L247.98,510.82 L248.18,510.86 L248.38,510.90 L248.58,510.93 L248.78,510.97 L248.98,511.01 L249.19,511.05 L249.39,511.09 L249.59,511.12 L249.79,511.16 L249.99,511.20 L250.19,511.23 L250.39,511.27 L250.59,511.30 L250.79,511.34 L250.99,511.37 L251.19,511.41 L251.39,511.44 L251.59,511.47 L251.79,511.50 L251.99,511.54 L252.19,511.57 L252.39,511.60 L252.59,511.63 L252.79,511.65 L252.99,511.68 L253.19,511.71 L253.39,511.73 L253.59,511.76 L253.79,511.78 L254.00,511.80 L254.20,511.82 L254.40,511.84 L254.60,511.86 L254.80,511.88 L255.00,511.89 L255.20,511.91 L255.40,511.92 L255.60,511.93 L255.80,511.94 L256.00,511.95 L256.20,511.96" fill="none" stroke="#e6f36a" stroke-width="1.1" stroke-linejoin="round"/>
<path d="M208.10,511.20 L208.30,511.16 L208.50,511.11 L208.70,511.04 L208.90,510.96 L209.10,510.87 L209.30,510.77 L209.50,510.66 L209.70,510.54 L209.90,510.42 L210.10,510.29 L210.30,510.16 L210.51,510.02 L210.71,509.89 L210.91,509.76 L211.11,509.64 L211.31,509.52 L211.51,509.40 L211.71,509.30 L211.91,509.20 L212.11,509.12 L212.31,509.05 L212.51,508.99 L212.71,508.95 L212.91,508.93 L213.11,508.92 L213.31,508.85 L213.51,508.71 L213.71,508.51 L213.91,508.25 L214.11,507.96 L214.31,507.64 L214.51,507.29 L214.71,506.93 L214.91,506.57 L215.11,506.22 L215.32,505.89 L215.52,505.59 L215.72,505.33 L215.92,505.11 L216.12,504.95 L216.32,504.87 L216.52,504.86 L216.72,504.97 L216.92,505.16 L217.12,505.37 L217.32,505.54 L217.52,505.61 L217.72,505.66 L217.92,505.78 L218.12,505.93 L218.32,506.06 L218.52,506.12 L218.72,501.23 L218.92,492.28 L219.12,491.31 L219.32,499.78 L219.52,506.08 L219.72,506.12 L219.92,506.12 L220.13,506.12 L220.33,506.08 L220.53,505.75 L220.73,505.33 L220.93,505.11 L221.13,505.17 L221.33,505.36 L221.53,505.64 L221.73,506.00 L221.93,506.39 L222.13,506.79 L222.33,507.16 L222.53,507.49 L222.73,507.74 L222.93,507.88 L223.13,507.91 L223.33,507.94 L223.53,508.01 L223.73,508.11 L223.93,508.23 L224.13,508.37 L224.33,508.53 L224.53,508.71 L224.73,508.89 L224.94,509.08 L225.14,509.27 L225.34,509.46 L225.54,509.64 L225.74,509.82 L225.94,509.98 L226.14,510.12 L226.34,510.24 L226.54,510.34 L226.74,510.41 L226.94,510.44 L227.14,510.45 L227.34,510.47 L227.54,510.51 L227.74,510.56 L227.94,510.62 L228.14,510.70 L228.34,510.79 L228.54,510.89 L228.74,511.00 L228.94,511.11 L229.14,511.23 L229.34,511.35 L229.54,511.47 L229.75,511.59 L229.95,511.71 L230.15,511.83 L230.35,511.94 L230.55,512.05 L230.75,512.15 L230.95,512.24 L231.15,512.31 L231.35,512.38 L231.55,512.43 L231.75,512.46 L231.95,512.48 L232.15,512.49 L232.35,512.49 L232.55,512.51 L232.75,512.53 L232.95,512.56 L233.15,512.59 L233.35,512.63 L233.55,512.67 L233.75,512.71 L233.95,512.76 L234.15,512.82 L234.35,512.87 L234.56,512.93 L234.76,513.00 L234.96,513.06 L235.16,513.12 L235.36,513.19 L235.56,513.25 L235.76,513.32 L235.96,513.38 L236.16,513.45 L236.36,513.51 L236.56,513.57 L236.76,513.63 L236.96,513.69 L237.16,513.74 L237.36,513.79 L237.56,513.84 L237.76,513.88 L237.96,513.91 L238.16,513.94 L238.36,513.97 L238.56,513.99 L238.76,514.00 L238.96,514.01 L239.16,514.01 L239.37,514.01 L239.57,514.02 L239.77,514.03 L239.97,514.04 L240.17,514.05 L240.37,514.06 L240.57,514.07 L240.77,514.09 L240.97,514.11 L241.17,514.13 L241.37,514.15 L241.57,514.17 L241.77,514.20 L241.97,514.22 L242.17,514.25 L242.37,514.27 L242.57,514.30 L242.77,514.33 L242.97,514.36 L243.17,514.39 L243.37,514.42 L243.57,514.45 L243.77,514.48 L243.97,514.51 L244.18,514.54 L244.38,514.57 L244.58,514.60 L244.78,514.63 L244.98,514.66 L245.18,514.69 L245.38,514.72 L245.58,514.75 L245.78,514.77 L245.98,514.80 L246.18,514.83 L246.38,514.85 L246.58,514.87 L246.78,514.90 L246.98,514.92 L247.18,514.94 L247.38,514.95 L247.58,514.97 L247.78,514.98 L247.98,515.00 L248.18,515.01 L248.38,515.02 L248.58,515.02 L248.78,515.03 L248.98,515.03 L249.19,515.03 L249.39,515.03 L249.59,515.03 L249.79,515.04 L249.99,515.05 L250.19,515.06 L250.39,515.07 L250.59,515.08 L250.79,515.09 L250.99,515.10 L251.19,515.12 L251.39,515.13 L251.59,515.15 L251.79,515.17 L251.99,515.18 L252.19,515.20 L252.39,515.22 L252.59,515.24 L252.79,515.26 L252.99,515.28 L253.19,515.30 L253.39,515.32 L253.59,515.34 L253.79,515.35 L254.00,515.37 L254.20,515.39 L254.40,515.41 L254.60,515.42 L254.80,515.44 L255.00,515.45 L255.20,515.47 L255.40,515.48 L255.60,515.49 L255.80,515.50 L256.00,515.51 L256.20,515.52" fill="none" stroke="#2f32a3" stroke-width="1.1" stroke-linejoin="round"/>
<line x1="223.00" y1="464.20" x2="230.50" y2="464.20" stroke="#2f32a3" stroke-width="1.1"/>
<text x="230.80" y="465.90" font-size="5.17" stroke="#1c1819" stroke-width="0.161">sgCtrl</text>
<line x1="223.00" y1="470.10" x2="230.50" y2="470.10" stroke="#66eef2" stroke-width="1.1"/>
<text x="230.80" y="471.80" font-size="5.08" stroke="#1c1819" stroke-width="0.158">BRD7-KO1</text>
<line x1="223.00" y1="475.10" x2="230.50" y2="475.10" stroke="#e6f36a" stroke-width="1.1"/>
<text x="230.80" y="476.80" font-size="5.08" stroke="#1c1819" stroke-width="0.158">BRD7-KO2</text>
<path d="M282.50,510.85 L282.75,510.98 L283.00,510.76 L283.25,510.72 L283.50,510.67 L283.75,510.29 L284.00,509.56 L284.25,509.12 L284.50,508.80 L284.75,508.93 L285.00,508.70 L285.25,508.69 L285.50,508.73 L285.75,508.77 L286.00,508.71 L286.25,508.15 L286.50,507.80 L286.75,507.39 L287.00,506.89 L287.26,506.77 L287.51,506.31 L287.76,505.49 L288.01,504.63 L288.26,503.76 L288.51,502.99 L288.76,502.95 L289.01,502.42 L289.26,502.01 L289.51,501.95 L289.76,502.49 L290.01,503.22 L290.26,504.42 L290.51,504.62 L290.76,504.71 L291.01,506.52 L291.26,509.54 L291.51,512.15 L291.76,514.42 L292.01,514.72 L292.26,511.75 L292.51,507.83 L292.76,505.98 L293.01,490.97 L293.26,477.36 L293.51,492.66 L293.76,506.42 L294.01,508.31 L294.26,512.83 L294.51,515.74 L294.76,514.30 L295.01,510.89 L295.26,506.93 L295.51,504.76 L295.76,504.67 L296.01,503.88 L296.26,503.86 L296.51,503.69 L296.77,503.94 L297.02,503.93 L297.27,504.37 L297.52,504.73 L297.77,504.76 L298.02,505.14 L298.27,505.13 L298.52,504.91 L298.77,505.59 L299.02,506.26 L299.27,506.78 L299.52,506.93 L299.77,507.38 L300.02,508.17 L300.27,508.76 L300.52,509.38 L300.77,509.63 L301.02,510.11 L301.27,509.84 L301.52,509.51 L301.77,509.34 L302.02,509.50 L302.27,509.52 L302.52,510.37 L302.77,510.79 L303.02,510.66 L303.27,510.86 L303.52,511.40 L303.77,511.44 L304.02,511.85 L304.27,512.06 L304.52,512.70 L304.77,513.26 L305.02,513.50 L305.27,513.94 L305.52,514.07 L305.77,513.73 L306.02,514.01 L306.28,514.40 L306.53,514.60 L306.78,514.65 L307.03,514.24 L307.28,514.34 L307.53,514.49 L307.78,514.76 L308.03,514.29 L308.28,514.47 L308.53,514.79 L308.78,515.13 L309.03,515.37 L309.28,515.47 L309.53,515.17 L309.78,515.43 L310.03,515.69 L310.28,515.52 L310.53,515.62 L310.78,515.12 L311.03,515.48 L311.28,515.39 L311.53,515.16 L311.78,515.35 L312.03,515.08 L312.28,515.38 L312.53,515.81 L312.78,516.02 L313.03,516.51 L313.28,516.60 L313.53,516.88 L313.78,516.64 L314.03,516.62 L314.28,516.94 L314.53,517.57 L314.78,517.84 L315.03,518.06 L315.28,518.27 L315.53,518.41 L315.79,518.02 L316.04,518.34 L316.29,518.59 L316.54,518.06 L316.79,518.03 L317.04,517.70 L317.29,517.95 L317.54,517.74 L317.79,517.81 L318.04,517.76 L318.29,517.79 L318.54,518.01 L318.79,518.46 L319.04,518.66 L319.29,518.29 L319.54,518.06 L319.79,517.93 L320.04,518.31 L320.29,518.31 L320.54,518.22 L320.79,518.29 L321.04,518.22 L321.29,518.41 L321.54,518.44 L321.79,518.44 L322.04,518.77 L322.29,518.47 L322.54,518.28 L322.79,518.83 L323.04,518.48 L323.29,518.27 L323.54,518.38 L323.79,518.92 L324.04,518.60 L324.29,519.00 L324.54,518.61 L324.79,518.61 L325.04,519.08 L325.30,519.30 L325.55,519.08 L325.80,519.01 L326.05,518.84 L326.30,518.61 L326.55,519.03 L326.80,519.45 L327.05,519.02 L327.30,519.46 L327.55,519.08 L327.80,519.44 L328.05,519.13 L328.30,518.98 L328.55,518.82 L328.80,518.99 L329.05,518.84 L329.30,519.27 L329.55,519.17 L329.80,519.38" fill="none" stroke="#2f32a3" stroke-width="1.3" stroke-linejoin="round"/>
<path d="M282.50,513.10 L282.75,512.86 L283.00,512.60 L283.25,512.24 L283.50,512.08 L283.75,511.76 L284.00,512.14 L284.25,511.94 L284.50,511.37 L284.75,511.17 L285.00,510.78 L285.25,511.08 L285.50,510.95 L285.75,511.01 L286.00,510.82 L286.25,510.70 L286.50,510.97 L286.75,510.76 L287.00,510.33 L287.26,509.30 L287.51,508.50 L287.76,508.18 L288.01,507.21 L288.26,506.87 L288.51,506.07 L288.76,505.79 L289.01,505.60 L289.26,504.79 L289.51,504.85 L289.76,505.22 L290.01,505.49 L290.26,506.20 L290.51,507.20 L290.76,507.20 L291.01,509.04 L291.26,511.78 L291.51,515.05 L291.76,516.89 L292.01,517.37 L292.26,514.27 L292.51,510.06 L292.76,508.44 L293.01,503.33 L293.26,498.74 L293.51,504.23 L293.76,509.25 L294.01,511.42 L294.26,515.29 L294.51,518.27 L294.76,516.79 L295.01,513.36 L295.26,509.60 L295.51,507.12 L295.76,507.00 L296.01,506.82 L296.26,506.42 L296.51,506.03 L296.77,506.46 L297.02,506.20 L297.27,506.95 L297.52,506.99 L297.77,507.06 L298.02,507.76 L298.27,507.55 L298.52,507.79 L298.77,507.97 L299.02,508.74 L299.27,509.42 L299.52,509.98 L299.77,509.97 L300.02,510.77 L300.27,511.02 L300.52,511.18 L300.77,511.36 L301.02,511.94 L301.27,512.21 L301.52,512.24 L301.77,512.13 L302.02,512.67 L302.27,512.60 L302.52,512.64 L302.77,512.74 L303.02,513.56 L303.27,513.49 L303.52,514.23 L303.77,514.62 L304.02,514.78 L304.27,514.76 L304.52,515.30 L304.77,515.28 L305.02,515.65 L305.27,516.12 L305.52,516.44 L305.77,516.77 L306.02,517.05 L306.28,517.13 L306.53,516.77 L306.78,516.34 L307.03,516.74 L307.28,517.10 L307.53,516.63 L307.78,516.73 L308.03,516.93 L308.28,517.22 L308.53,517.16 L308.78,516.98 L309.03,517.20 L309.28,517.39 L309.53,517.82 L309.78,517.45 L310.03,517.92 L310.28,517.88 L310.53,517.60 L310.78,517.99 L311.03,517.76 L311.28,517.45 L311.53,517.52 L311.78,517.50 L312.03,518.06 L312.28,518.21 L312.53,518.60 L312.78,518.38 L313.03,518.75 L313.28,518.94 L313.53,518.72 L313.78,518.79 L314.03,518.82 L314.28,519.32 L314.53,519.66 L314.78,519.75 L315.03,520.05 L315.28,520.41 L315.53,520.58 L315.79,520.89 L316.04,520.91 L316.29,520.43 L316.54,520.16 L316.79,520.26 L317.04,520.43 L317.29,520.66 L317.54,521.00 L317.79,521.08 L318.04,520.75 L318.29,520.50 L318.54,520.75 L318.79,520.60 L319.04,520.53 L319.29,520.56 L319.54,520.63 L319.79,520.61 L320.04,520.91 L320.29,520.85 L320.54,521.16 L320.79,521.20 L321.04,521.02 L321.29,520.98 L321.54,521.27 L321.79,520.96 L322.04,521.01 L322.29,521.10 L322.54,521.59 L322.79,521.48 L323.04,521.63 L323.29,521.41 L323.54,521.43 L323.79,521.18 L324.04,521.16 L324.29,521.05 L324.54,521.33 L324.79,521.28 L325.04,521.18 L325.30,521.07 L325.55,521.38 L325.80,521.20 L326.05,521.08 L326.30,521.16 L326.55,520.99 L326.80,520.92 L327.05,521.23 L327.30,521.41 L327.55,521.81 L327.80,521.54 L328.05,521.32 L328.30,521.54 L328.55,521.52 L328.80,521.49 L329.05,521.47 L329.30,521.89 L329.55,521.68 L329.80,521.71" fill="none" stroke="#66eef2" stroke-width="1.3" stroke-linejoin="round"/>
<path d="M282.50,511.70 L282.75,511.45 L283.00,511.48 L283.25,511.58 L283.50,511.74 L283.75,511.24 L284.00,510.99 L284.25,510.52 L284.50,510.44 L284.75,510.01 L285.00,510.05 L285.25,509.61 L285.50,509.36 L285.75,509.42 L286.00,509.36 L286.25,509.23 L286.50,509.45 L286.75,509.08 L287.00,508.41 L287.26,508.14 L287.51,507.26 L287.76,506.53 L288.01,505.68 L288.26,505.29 L288.51,505.02 L288.76,504.13 L289.01,503.49 L289.26,503.34 L289.51,503.56 L289.76,503.95 L290.01,504.48 L290.26,505.53 L290.51,505.78 L290.76,506.13 L291.01,508.15 L291.26,510.75 L291.51,513.81 L291.76,515.64 L292.01,515.94 L292.26,513.25 L292.51,509.13 L292.76,507.06 L293.01,500.20 L293.26,493.81 L293.51,501.20 L293.76,507.50 L294.01,509.63 L294.26,513.93 L294.51,516.50 L294.76,515.67 L295.01,511.76 L295.26,507.97 L295.51,506.17 L295.76,505.78 L296.01,505.58 L296.26,505.38 L296.51,505.06 L296.77,505.32 L297.02,505.59 L297.27,505.43 L297.52,505.61 L297.77,506.35 L298.02,506.25 L298.27,506.72 L298.52,506.81 L298.77,506.63 L299.02,506.96 L299.27,507.65 L299.52,508.26 L299.77,508.86 L300.02,509.65 L300.27,509.65 L300.52,510.52 L300.77,510.85 L301.02,510.82 L301.27,511.00 L301.52,510.65 L301.77,511.08 L302.02,510.86 L302.27,510.90 L302.52,511.21 L302.77,511.35 L303.02,511.90 L303.27,512.07 L303.52,512.34 L303.77,512.84 L304.02,513.31 L304.27,513.53 L304.52,514.00 L304.77,514.64 L305.02,514.60 L305.27,515.01 L305.52,515.14 L305.77,515.02 L306.02,515.41 L306.28,515.74 L306.53,515.86 L306.78,515.59 L307.03,515.63 L307.28,515.77 L307.53,515.73 L307.78,515.39 L308.03,515.73 L308.28,515.85 L308.53,515.61 L308.78,515.71 L309.03,516.07 L309.28,516.16 L309.53,516.25 L309.78,516.59 L310.03,516.64 L310.28,516.74 L310.53,516.44 L310.78,516.63 L311.03,516.49 L311.28,516.16 L311.53,516.02 L311.78,516.40 L312.03,516.51 L312.28,516.86 L312.53,517.09 L312.78,517.24 L313.03,517.17 L313.28,517.12 L313.53,517.66 L313.78,518.29 L314.03,518.41 L314.28,518.87 L314.53,519.23 L314.78,518.95 L315.03,519.34 L315.28,519.15 L315.53,519.35 L315.79,519.04 L316.04,518.92 L316.29,519.44 L316.54,519.64 L316.79,519.19 L317.04,519.19 L317.29,519.34 L317.54,519.17 L317.79,519.06 L318.04,519.25 L318.29,519.40 L318.54,519.78 L318.79,519.83 L319.04,520.04 L319.29,519.81 L319.54,519.71 L319.79,520.02 L320.04,519.85 L320.29,520.17 L320.54,520.37 L320.79,520.09 L321.04,520.08 L321.29,519.75 L321.54,519.77 L321.79,519.74 L322.04,520.17 L322.29,519.89 L322.54,520.30 L322.79,520.14 L323.04,519.82 L323.29,519.63 L323.54,519.53 L323.79,519.81 L324.04,519.79 L324.29,519.72 L324.54,520.18 L324.79,519.85 L325.04,519.69 L325.30,519.96 L325.55,519.88 L325.80,520.09 L326.05,520.36 L326.30,520.20 L326.55,520.61 L326.80,520.30 L327.05,519.99 L327.30,520.35 L327.55,520.07 L327.80,520.57 L328.05,520.28 L328.30,520.56 L328.55,520.21 L328.80,520.42 L329.05,520.17 L329.30,520.71 L329.55,520.99 L329.80,520.61" fill="none" stroke="#e6f36a" stroke-width="1.3" stroke-linejoin="round"/>
<text x="203.10" y="532.30" font-size="6.35" stroke="#1c1819" stroke-width="0.198">-3.0center</text>
<text x="238.10" y="532.30" font-size="6.28" stroke="#1c1819" stroke-width="0.195">10.0Kb</text>
<text x="277.30" y="532.30" font-size="6.35" stroke="#1c1819" stroke-width="0.198">-3.0center</text>
<text x="311.60" y="532.30" font-size="6.28" stroke="#1c1819" stroke-width="0.195">10.0Kb</text>
<text x="193.20" y="541.10" font-size="6.38" stroke="#1c1819" stroke-width="0.199">Distance from center of H3k27Ac ChIP-seq signal</text>
<text x="331.00" y="441.52" font-size="14.56" fill="#231f20" font-weight="bold" stroke="#231f20" stroke-width="0.35">J</text>
<text x="360.70" y="441.20" font-size="9.82" stroke="#1c1819" stroke-width="0.296">Brd7-KO Gain Enhancer Annotation</text>
<path d="M371.50,474.10 L399.20,474.10 A27.7,27.7 0 0 0 365.30,447.10 Z" fill="#aad1e2" stroke="#aad1e2" stroke-width="0.3"/>
<path d="M371.50,474.10 L365.30,447.10 A27.7,27.7 0 0 0 356.14,451.05 Z" fill="#3b7bb3" stroke="#3b7bb3" stroke-width="0.3"/>
<path d="M371.50,474.10 L356.14,451.05 A27.7,27.7 0 0 0 350.59,455.93 Z" fill="#a9dc89" stroke="#a9dc89" stroke-width="0.3"/>
<path d="M371.50,474.10 L350.59,455.93 A27.7,27.7 0 0 0 350.20,456.39 Z" fill="#3da03c" stroke="#3da03c" stroke-width="0.3"/>
<path d="M371.50,474.10 L350.20,456.39 A27.7,27.7 0 0 0 347.94,459.53 Z" fill="#f3a3a9" stroke="#f3a3a9" stroke-width="0.3"/>
<path d="M371.50,474.10 L347.94,459.53 A27.7,27.7 0 0 0 346.86,461.45 Z" fill="#e0282a" stroke="#e0282a" stroke-width="0.3"/>
<path d="M371.50,474.10 L346.86,461.45 A27.7,27.7 0 0 0 344.43,468.22 Z" fill="#f5c272" stroke="#f5c272" stroke-width="0.3"/>
<path d="M371.50,474.10 L344.43,468.22 A27.7,27.7 0 0 0 346.65,486.34 Z" fill="#ee8024" stroke="#ee8024" stroke-width="0.3"/>
<path d="M371.50,474.10 L346.65,486.34 A27.7,27.7 0 0 0 370.14,501.77 Z" fill="#c9b4dc" stroke="#c9b4dc" stroke-width="0.3"/>
<path d="M371.50,474.10 L370.14,501.77 A27.7,27.7 0 0 0 370.36,501.78 Z" fill="#5c2d91" stroke="#5c2d91" stroke-width="0.3"/>
<path d="M371.50,474.10 L370.36,501.78 A27.7,27.7 0 0 0 399.20,474.10 Z" fill="#f2fba2" stroke="#f2fba2" stroke-width="0.3"/>
<rect x="401.60" y="451.40" width="3.00" height="3.00" fill="#aad1e2"/>
<rect x="401.60" y="456.85" width="3.00" height="3.00" fill="#3b7bb3"/>
<rect x="401.60" y="462.30" width="3.00" height="3.00" fill="#a9dc89"/>
<rect x="401.60" y="467.75" width="3.00" height="3.00" fill="#3da03c"/>
<rect x="401.60" y="473.20" width="3.00" height="3.00" fill="#f3a3a9"/>
<rect x="401.60" y="478.65" width="3.00" height="3.00" fill="#e0282a"/>
<rect x="401.60" y="484.10" width="3.00" height="3.00" fill="#f5c272"/>
<rect x="401.60" y="489.55" width="3.00" height="3.00" fill="#ee8024"/>
<rect x="401.60" y="495.00" width="3.00" height="3.00" fill="#c9b4dc"/>
<rect x="401.60" y="500.45" width="3.00" height="3.00" fill="#5c2d91"/>
<rect x="401.60" y="505.90" width="3.00" height="3.00" fill="#f2fba2"/>
<text x="407.60" y="454.60" font-size="8.18" stroke="#1c1819" stroke-width="0.254">Promoter (&lt;=1kb) (28.59%)</text>
<text x="407.60" y="465.10" font-size="8.18" stroke="#1c1819" stroke-width="0.254">Promoter (1−2kb) (5.76%)</text>
<text x="407.60" y="475.70" font-size="8.18" stroke="#1c1819" stroke-width="0.254">Promoter (2−3kb) (4.26%)</text>
<text x="407.60" y="483.70" font-size="8.18" stroke="#1c1819" stroke-width="0.254">5' UTR (0.35%)</text>
<text x="407.60" y="493.60" font-size="8.18" stroke="#1c1819" stroke-width="0.254">3' UTR (2.22%)</text>
<text x="407.60" y="504.20" font-size="8.18" stroke="#1c1819" stroke-width="0.254">1st Exon (1.27%)</text>
<text x="407.60" y="513.70" font-size="8.18" stroke="#1c1819" stroke-width="0.254">Other Exon (4.14%)</text>
<text x="407.60" y="522.60" font-size="8.18" stroke="#1c1819" stroke-width="0.254">1st Intron (10.69%)</text>
<text x="407.60" y="532.10" font-size="8.18" stroke="#1c1819" stroke-width="0.254">Other Intron (16.93%)</text>
<text x="407.60" y="541.00" font-size="8.18" stroke="#1c1819" stroke-width="0.254">Downstream (&lt;=300) (0.13%)</text>
<text x="407.60" y="550.10" font-size="8.18" stroke="#1c1819" stroke-width="0.254">Distal Intergenic (25.65%)</text>
<text x="526.90" y="441.10" font-size="9.82" stroke="#1c1819" stroke-width="0.296">Brd7-KO Loss Enhancer Annotation</text>
<path d="M537.80,476.30 L565.50,476.30 A27.7,27.7 0 0 0 561.43,461.84 Z" fill="#aad1e2" stroke="#aad1e2" stroke-width="0.3"/>
<path d="M537.80,476.30 L561.43,461.84 A27.7,27.7 0 0 0 557.20,456.53 Z" fill="#3b7bb3" stroke="#3b7bb3" stroke-width="0.3"/>
<path d="M537.80,476.30 L557.20,456.53 A27.7,27.7 0 0 0 552.58,452.87 Z" fill="#a9dc89" stroke="#a9dc89" stroke-width="0.3"/>
<path d="M537.80,476.30 L552.58,452.87 A27.7,27.7 0 0 0 552.50,452.82 Z" fill="#3da03c" stroke="#3da03c" stroke-width="0.3"/>
<path d="M537.80,476.30 L552.50,452.82 A27.7,27.7 0 0 0 551.11,452.01 Z" fill="#f3a3a9" stroke="#f3a3a9" stroke-width="0.3"/>
<path d="M537.80,476.30 L551.11,452.01 A27.7,27.7 0 0 0 549.59,451.24 Z" fill="#e0282a" stroke="#e0282a" stroke-width="0.3"/>
<path d="M537.80,476.30 L549.59,451.24 A27.7,27.7 0 0 0 546.34,449.95 Z" fill="#f5c272" stroke="#f5c272" stroke-width="0.3"/>
<path d="M537.80,476.30 L546.34,449.95 A27.7,27.7 0 0 0 521.82,453.68 Z" fill="#ee8024" stroke="#ee8024" stroke-width="0.3"/>
<path d="M537.80,476.30 L521.82,453.68 A27.7,27.7 0 0 0 515.97,493.35 Z" fill="#c9b4dc" stroke="#c9b4dc" stroke-width="0.3"/>
<path d="M537.80,476.30 L515.97,493.35 A27.7,27.7 0 0 0 516.15,493.58 Z" fill="#5c2d91" stroke="#5c2d91" stroke-width="0.3"/>
<path d="M537.80,476.30 L516.15,493.58 A27.7,27.7 0 0 0 565.50,476.30 Z" fill="#f2fba2" stroke="#f2fba2" stroke-width="0.3"/>
<rect x="566.80" y="451.70" width="3.00" height="3.00" fill="#aad1e2"/>
<rect x="566.80" y="457.18" width="3.00" height="3.00" fill="#3b7bb3"/>
<rect x="566.80" y="462.66" width="3.00" height="3.00" fill="#a9dc89"/>
<rect x="566.80" y="468.14" width="3.00" height="3.00" fill="#3da03c"/>
<rect x="566.80" y="473.62" width="3.00" height="3.00" fill="#f3a3a9"/>
<rect x="566.80" y="479.10" width="3.00" height="3.00" fill="#e0282a"/>
<rect x="566.80" y="484.58" width="3.00" height="3.00" fill="#f5c272"/>
<rect x="566.80" y="490.06" width="3.00" height="3.00" fill="#ee8024"/>
<rect x="566.80" y="495.54" width="3.00" height="3.00" fill="#c9b4dc"/>
<rect x="566.80" y="501.02" width="3.00" height="3.00" fill="#5c2d91"/>
<rect x="566.80" y="506.50" width="3.00" height="3.00" fill="#f2fba2"/>
<text x="571.30" y="456.90" font-size="8.14" stroke="#1c1819" stroke-width="0.253">Promoter (&lt;=1kb) (8.74%)</text>
<text x="571.30" y="468.70" font-size="8.14" stroke="#1c1819" stroke-width="0.253">Promoter (1−2kb) (3.91%)</text>
<text x="571.30" y="479.70" font-size="8.14" stroke="#1c1819" stroke-width="0.253">Promoter (2−3kb) (3.39%)</text>
<text x="571.30" y="490.30" font-size="8.14" stroke="#1c1819" stroke-width="0.253">5' UTR (0.06%)</text>
<text x="571.30" y="499.40" font-size="8.14" stroke="#1c1819" stroke-width="0.253">3' UTR (0.92%)</text>
<text x="571.30" y="507.00" font-size="8.14" stroke="#1c1819" stroke-width="0.253">1st Exon (0.98%)</text>
<text x="571.30" y="516.50" font-size="8.14" stroke="#1c1819" stroke-width="0.253">Other Exon (2.01%)</text>
<text x="571.30" y="525.30" font-size="8.14" stroke="#1c1819" stroke-width="0.253">1st Intron (14.78%)</text>
<text x="571.30" y="535.30" font-size="8.14" stroke="#1c1819" stroke-width="0.253">Other Intron (25.76%)</text>
<text x="571.30" y="544.10" font-size="8.14" stroke="#1c1819" stroke-width="0.253">Downstream (&lt;=300) (0.17%)</text>
<text x="571.30" y="552.70" font-size="8.14" stroke="#1c1819" stroke-width="0.253">Distal Intergenic (39.28%)</text>
<text x="188.20" y="571.62" font-size="14.56" fill="#231f20" font-weight="bold" stroke="#231f20" stroke-width="0.35">K</text>
<text x="225.90" y="574.20" font-size="10.19" fill="#e8403d" stroke="#e8403d" stroke-width="0.296">Brd7-KO RNAseq_Up</text>
<circle cx="277.00" cy="608.80" r="29.40" fill="#e8868c"/>
<circle cx="277.00" cy="642.30" r="29.80" fill="#9dd1f9"/>
<path d="M252.60,625.20 A29.40,29.40 0 0 0 301.40,625.20 A29.80,29.80 0 0 0 252.60,625.20 Z" fill="#8189c9" stroke="#fff" stroke-width="2.3"/>
<text x="278.30" y="604.80" font-size="8.70" text-anchor="middle" stroke="#1c1819" stroke-width="0.271">71</text>
<text x="277.50" y="628.90" font-size="8.70" text-anchor="middle" stroke="#1c1819" stroke-width="0.271">224</text>
<text x="278.30" y="652.40" font-size="8.50" text-anchor="middle" stroke="#1c1819" stroke-width="0.264">11023</text>
<line x1="293.60" y1="626.10" x2="333.70" y2="626.10" stroke="#444" stroke-width="0.8"/>
<line x1="333.70" y1="593.40" x2="333.70" y2="661.10" stroke="#444" stroke-width="0.8"/>
<text x="207.50" y="680.50" font-size="9.72" fill="#55a6f0" stroke="#55a6f0" stroke-width="0.296">Brd7-KO Gain Enhancer_Gene</text>
<text x="344.60" y="658.00" font-size="8.98" transform="rotate(-90 344.60 658.00)" stroke="#1c1819" stroke-width="0.279">Gene Ontology</text>
<line x1="359.70" y1="553.20" x2="359.70" y2="668.20" stroke="#333" stroke-width="0.8"/>
<line x1="359.70" y1="668.20" x2="509.40" y2="668.20" stroke="#333" stroke-width="0.8"/>
<rect x="359.70" y="557.30" width="129.00" height="8.00" fill="#eea6f5"/>
<line x1="354.90" y1="561.30" x2="359.70" y2="561.30" stroke="#333" stroke-width="0.8"/>
<rect x="359.70" y="568.40" width="92.80" height="8.00" fill="#eea6f5"/>
<line x1="354.90" y1="572.40" x2="359.70" y2="572.40" stroke="#333" stroke-width="0.8"/>
<rect x="359.70" y="579.50" width="82.30" height="8.00" fill="#eea6f5"/>
<line x1="354.90" y1="583.50" x2="359.70" y2="583.50" stroke="#333" stroke-width="0.8"/>
<rect x="359.70" y="590.60" width="79.10" height="8.00" fill="#eea6f5"/>
<line x1="354.90" y1="594.60" x2="359.70" y2="594.60" stroke="#333" stroke-width="0.8"/>
<rect x="359.70" y="601.70" width="61.30" height="8.00" fill="#eea6f5"/>
<line x1="354.90" y1="605.70" x2="359.70" y2="605.70" stroke="#333" stroke-width="0.8"/>
<rect x="359.70" y="612.80" width="33.70" height="8.00" fill="#eea6f5"/>
<line x1="354.90" y1="616.80" x2="359.70" y2="616.80" stroke="#333" stroke-width="0.8"/>
<rect x="359.70" y="623.90" width="29.70" height="8.00" fill="#eea6f5"/>
<line x1="354.90" y1="627.90" x2="359.70" y2="627.90" stroke="#333" stroke-width="0.8"/>
<rect x="359.70" y="635.00" width="12.60" height="8.00" fill="#eea6f5"/>
<line x1="354.90" y1="639.00" x2="359.70" y2="639.00" stroke="#333" stroke-width="0.8"/>
<rect x="359.70" y="646.10" width="7.40" height="8.00" fill="#eea6f5"/>
<line x1="354.90" y1="650.10" x2="359.70" y2="650.10" stroke="#333" stroke-width="0.8"/>
<rect x="359.70" y="657.20" width="5.50" height="8.00" fill="#eea6f5"/>
<line x1="354.90" y1="661.20" x2="359.70" y2="661.20" stroke="#333" stroke-width="0.8"/>
<text x="363.10" y="564.30" font-size="8.96" stroke="#1c1819" stroke-width="0.279">actin filament bundle organization</text>
<text x="363.10" y="575.40" font-size="8.96" stroke="#1c1819" stroke-width="0.279">actin filament organization</text>
<text x="363.10" y="586.50" font-size="8.96" stroke="#1c1819" stroke-width="0.279">regulation of actin filament-based process</text>
<text x="363.10" y="597.60" font-size="8.96" stroke="#1c1819" stroke-width="0.279">regulation of actin cytoskeleton organization</text>
<text x="363.10" y="608.70" font-size="8.96" stroke="#1c1819" stroke-width="0.279">Rho protein signal transduction</text>
<text x="363.10" y="619.80" font-size="8.96" stroke="#1c1819" stroke-width="0.279">small GTPase mediated signal transduction</text>
<text x="363.10" y="630.90" font-size="8.96" stroke="#1c1819" stroke-width="0.279">mitotic sister chromatid segregation</text>
<text x="363.10" y="642.00" font-size="8.96" stroke="#1c1819" stroke-width="0.279">chromosome segregation</text>
<text x="363.10" y="653.10" font-size="8.96" stroke="#1c1819" stroke-width="0.279">cilium organization</text>
<text x="363.10" y="664.20" font-size="8.96" stroke="#1c1819" stroke-width="0.279">cilium assembly</text>
<line x1="359.70" y1="668.20" x2="359.70" y2="672.70" stroke="#333" stroke-width="0.8"/>
<line x1="389.60" y1="668.20" x2="389.60" y2="672.70" stroke="#333" stroke-width="0.8"/>
<line x1="419.60" y1="668.20" x2="419.60" y2="672.70" stroke="#333" stroke-width="0.8"/>
<line x1="449.50" y1="668.20" x2="449.50" y2="672.70" stroke="#333" stroke-width="0.8"/>
<line x1="479.40" y1="668.20" x2="479.40" y2="672.70" stroke="#333" stroke-width="0.8"/>
<line x1="509.40" y1="668.20" x2="509.40" y2="672.70" stroke="#333" stroke-width="0.8"/>
<text x="359.60" y="680.30" font-size="8.80" text-anchor="middle" stroke="#1c1819" stroke-width="0.274">0</text>
<text x="377.80" y="680.30" font-size="9.06" stroke="#1c1819" stroke-width="0.282">1×10</text>
<text x="398.50" y="677.70" font-size="6.49" stroke="#1c1819" stroke-width="0.202">−5</text>
<text x="407.75" y="680.30" font-size="9.06" stroke="#1c1819" stroke-width="0.282">2×10</text>
<text x="428.45" y="677.70" font-size="6.49" stroke="#1c1819" stroke-width="0.202">−5</text>
<text x="437.70" y="680.30" font-size="9.06" stroke="#1c1819" stroke-width="0.282">3×10</text>
<text x="458.40" y="677.70" font-size="6.49" stroke="#1c1819" stroke-width="0.202">−5</text>
<text x="467.65" y="680.30" font-size="9.06" stroke="#1c1819" stroke-width="0.282">4×10</text>
<text x="488.35" y="677.70" font-size="6.49" stroke="#1c1819" stroke-width="0.202">−5</text>
<text x="497.60" y="680.30" font-size="9.06" stroke="#1c1819" stroke-width="0.282">5×10</text>
<text x="518.30" y="677.70" font-size="6.49" stroke="#1c1819" stroke-width="0.202">−5</text>
<text x="405.90" y="694.20" font-size="8.84" stroke="#1c1819" stroke-width="0.275">p value</text>
<text x="4.50" y="733.62" font-size="14.56" fill="#231f20" font-weight="bold" stroke="#231f20" stroke-width="0.35">L</text>
<text x="11.10" y="743.60" font-size="10.13" fill="#e8403d" stroke="#e8403d" stroke-width="0.296">Brd7-KO RNAseq_Down</text>
<circle cx="65.10" cy="775.50" r="29.30" fill="#e8868c"/>
<circle cx="65.10" cy="808.80" r="29.70" fill="#9dd1f9"/>
<path d="M40.75,791.80 A29.30,29.30 0 0 0 89.45,791.80 A29.70,29.70 0 0 0 40.75,791.80 Z" fill="#8189c9" stroke="#fff" stroke-width="2.3"/>
<text x="65.80" y="771.60" font-size="8.80" text-anchor="middle" stroke="#1c1819" stroke-width="0.274">264</text>
<text x="66.40" y="794.20" font-size="8.80" text-anchor="middle" stroke="#1c1819" stroke-width="0.274">55</text>
<text x="67.70" y="818.50" font-size="8.80" text-anchor="middle" stroke="#1c1819" stroke-width="0.274">1090</text>
<line x1="80.00" y1="791.50" x2="115.30" y2="791.50" stroke="#444" stroke-width="0.8"/>
<line x1="115.30" y1="758.20" x2="115.30" y2="825.40" stroke="#444" stroke-width="0.8"/>
<text x="2.90" y="849.30" font-size="9.70" fill="#55a6f0" stroke="#55a6f0" stroke-width="0.296">Brd7-KO Loss Enhancer_Gene</text>
<text x="138.00" y="821.60" font-size="8.96" transform="rotate(-90 138.00 821.60)" stroke="#1c1819" stroke-width="0.279">Gene Ontology</text>
<line x1="152.30" y1="723.00" x2="152.30" y2="838.20" stroke="#333" stroke-width="0.8"/>
<line x1="152.30" y1="838.20" x2="267.90" y2="838.20" stroke="#333" stroke-width="0.8"/>
<rect x="152.30" y="732.30" width="98.60" height="17.00" fill="#ebc6f8"/>
<line x1="147.30" y1="740.80" x2="152.30" y2="740.80" stroke="#333" stroke-width="0.8"/>
<rect x="152.30" y="758.50" width="65.90" height="17.00" fill="#ebc6f8"/>
<line x1="147.30" y1="767.00" x2="152.30" y2="767.00" stroke="#333" stroke-width="0.8"/>
<rect x="152.30" y="785.00" width="35.90" height="17.00" fill="#ebc6f8"/>
<line x1="147.30" y1="793.50" x2="152.30" y2="793.50" stroke="#333" stroke-width="0.8"/>
<rect x="152.30" y="811.90" width="20.70" height="17.00" fill="#ebc6f8"/>
<line x1="147.30" y1="820.40" x2="152.30" y2="820.40" stroke="#333" stroke-width="0.8"/>
<text x="156.00" y="743.80" font-size="8.93" stroke="#1c1819" stroke-width="0.278">Defense response to virus</text>
<text x="156.00" y="770.00" font-size="8.93" stroke="#1c1819" stroke-width="0.278">Antigen processing and presentation</text>
<text x="156.00" y="796.50" font-size="8.93" stroke="#1c1819" stroke-width="0.278">Response to interferon-beta</text>
<text x="156.00" y="823.40" font-size="8.93" stroke="#1c1819" stroke-width="0.278">Negative regulation of viral process</text>
<line x1="152.30" y1="838.20" x2="152.30" y2="842.70" stroke="#333" stroke-width="0.8"/>
<line x1="190.20" y1="838.20" x2="190.20" y2="842.70" stroke="#333" stroke-width="0.8"/>
<line x1="229.00" y1="838.20" x2="229.00" y2="842.70" stroke="#333" stroke-width="0.8"/>
<line x1="267.90" y1="838.20" x2="267.90" y2="842.70" stroke="#333" stroke-width="0.8"/>
<text x="152.60" y="852.60" font-size="9.00" text-anchor="middle" stroke="#1c1819" stroke-width="0.280">0</text>
<text x="178.50" y="852.60" font-size="9.06" stroke="#1c1819" stroke-width="0.282">5×10</text>
<text x="199.30" y="849.20" font-size="6.40" stroke="#1c1819" stroke-width="0.199">−6</text>
<text x="217.00" y="852.60" font-size="9.15" stroke="#1c1819" stroke-width="0.285">1×10</text>
<text x="237.90" y="849.20" font-size="6.23" stroke="#1c1819" stroke-width="0.194">−5</text>
<text x="251.40" y="852.60" font-size="8.36" stroke="#1c1819" stroke-width="0.260">1.5×10</text>
<text x="277.50" y="849.20" font-size="8.42" stroke="#1c1819" stroke-width="0.262">−5</text>
<text x="194.80" y="866.20" font-size="8.78" stroke="#1c1819" stroke-width="0.273">p value</text>
<text x="334.00" y="720.42" font-size="14.56" fill="#231f20" font-weight="bold" stroke="#231f20" stroke-width="0.35">M</text>
<text x="369.00" y="721.00" font-size="10.07" stroke="#1c1819" stroke-width="0.296">Brd7-KO Loss Peak Motif</text>
<text x="377.50" y="734.20" font-size="10.24" stroke="#1c1819" stroke-width="0.296">Motif</text>
<text x="419.30" y="734.20" font-size="9.50" stroke="#1c1819" stroke-width="0.296">TF</text>
<text x="453.70" y="734.20" font-size="8.96" stroke="#1c1819" stroke-width="0.279">q value</text>
<line x1="369.00" y1="739.40" x2="488.80" y2="739.40" stroke="#666" stroke-width="0.8"/>
<line x1="369.00" y1="862.90" x2="488.80" y2="862.90" stroke="#777" stroke-width="0.9"/>
<text x="411.40" y="755.50" font-size="9.10" fill="#333" stroke="#333" stroke-width="0.283">NKX25</text>
<text x="450.50" y="755.50" font-size="9.10" fill="#333" stroke="#333" stroke-width="0.283">0.0000</text>
<text transform="translate(367.20,755.50) scale(6.097,13.808)" font-size="1" fill="#3cc93c" stroke="#3cc93c" stroke-width="0.03">A</text>
<text transform="translate(371.27,755.50) scale(5.228,13.808)" font-size="1" fill="#f2a634" stroke="#f2a634" stroke-width="0.03">G</text>
<text transform="translate(375.33,755.50) scale(6.657,13.808)" font-size="1" fill="#e63030" stroke="#e63030" stroke-width="0.03">T</text>
<text transform="translate(379.40,755.50) scale(6.097,4.603)" font-size="1" fill="#3cc93c" stroke="#3cc93c" stroke-width="0.03">A</text>
<text transform="translate(383.47,755.50) scale(6.097,10.740)" font-size="1" fill="#3cc93c" stroke="#3cc93c" stroke-width="0.03">A</text>
<text transform="translate(387.53,755.50) scale(6.657,9.205)" font-size="1" fill="#e63030" stroke="#e63030" stroke-width="0.03">T</text>
<text transform="translate(391.60,755.50) scale(5.228,13.808)" font-size="1" fill="#f2a634" stroke="#f2a634" stroke-width="0.03">G</text>
<text transform="translate(395.67,755.50) scale(6.097,9.205)" font-size="1" fill="#3cc93c" stroke="#3cc93c" stroke-width="0.03">A</text>
<text transform="translate(399.73,755.50) scale(5.228,13.808)" font-size="1" fill="#f2a634" stroke="#f2a634" stroke-width="0.03">G</text>
<text x="411.40" y="772.40" font-size="9.10" fill="#333" stroke="#333" stroke-width="0.283">NFATC2</text>
<text x="450.50" y="772.40" font-size="9.10" fill="#333" stroke="#333" stroke-width="0.283">0.0000</text>
<text transform="translate(365.50,772.80) scale(5.427,1.534)" font-size="1" fill="#3cc93c" stroke="#3cc93c" stroke-width="0.03">A</text>
<text transform="translate(369.12,772.80) scale(4.654,13.808)" font-size="1" fill="#f2a634" stroke="#f2a634" stroke-width="0.03">G</text>
<text transform="translate(372.74,772.80) scale(5.926,13.808)" font-size="1" fill="#e63030" stroke="#e63030" stroke-width="0.03">T</text>
<text transform="translate(376.36,772.80) scale(5.427,6.137)" font-size="1" fill="#3cc93c" stroke="#3cc93c" stroke-width="0.03">A</text>
<text transform="translate(379.98,772.80) scale(5.427,10.740)" font-size="1" fill="#3cc93c" stroke="#3cc93c" stroke-width="0.03">A</text>
<text transform="translate(383.60,772.80) scale(5.427,6.137)" font-size="1" fill="#3cc93c" stroke="#3cc93c" stroke-width="0.03">A</text>
<text transform="translate(387.22,772.80) scale(4.654,12.274)" font-size="1" fill="#f2a634" stroke="#f2a634" stroke-width="0.03">G</text>
<text transform="translate(390.84,772.80) scale(5.427,6.137)" font-size="1" fill="#3cc93c" stroke="#3cc93c" stroke-width="0.03">A</text>
<text transform="translate(394.46,772.80) scale(5.013,9.205)" font-size="1" fill="#2b2bee" stroke="#2b2bee" stroke-width="0.03">C</text>
<text transform="translate(398.08,772.80) scale(5.926,4.603)" font-size="1" fill="#e63030" stroke="#e63030" stroke-width="0.03">T</text>
<text x="411.40" y="789.90" font-size="9.10" fill="#333" stroke="#333" stroke-width="0.283">PAX6</text>
<text x="450.50" y="789.90" font-size="9.10" fill="#333" stroke="#333" stroke-width="0.283">0.0000</text>
<text transform="translate(365.50,788.10) scale(5.570,13.808)" font-size="1" fill="#2b2bee" stroke="#2b2bee" stroke-width="0.03">C</text>
<text transform="translate(369.52,788.10) scale(6.030,4.603)" font-size="1" fill="#3cc93c" stroke="#3cc93c" stroke-width="0.03">A</text>
<text transform="translate(373.54,788.10) scale(6.030,13.808)" font-size="1" fill="#3cc93c" stroke="#3cc93c" stroke-width="0.03">A</text>
<text transform="translate(377.57,788.10) scale(6.585,13.808)" font-size="1" fill="#e63030" stroke="#e63030" stroke-width="0.03">T</text>
<text transform="translate(381.59,788.10) scale(5.171,13.808)" font-size="1" fill="#f2a634" stroke="#f2a634" stroke-width="0.03">G</text>
<text transform="translate(385.61,788.10) scale(6.585,13.808)" font-size="1" fill="#e63030" stroke="#e63030" stroke-width="0.03">T</text>
<text transform="translate(389.63,788.10) scale(6.030,13.808)" font-size="1" fill="#3cc93c" stroke="#3cc93c" stroke-width="0.03">A</text>
<text transform="translate(393.66,788.10) scale(6.030,7.671)" font-size="1" fill="#3cc93c" stroke="#3cc93c" stroke-width="0.03">A</text>
<text transform="translate(397.68,788.10) scale(6.030,13.808)" font-size="1" fill="#3cc93c" stroke="#3cc93c" stroke-width="0.03">A</text>
<text x="411.40" y="807.40" font-size="9.10" fill="#333" stroke="#333" stroke-width="0.283">FOXD1</text>
<text x="450.50" y="807.40" font-size="9.10" fill="#333" stroke="#333" stroke-width="0.283">0.0000</text>
<text transform="translate(365.50,808.20) scale(7.469,13.808)" font-size="1" fill="#e63030" stroke="#e63030" stroke-width="0.03">T</text>
<text transform="translate(370.06,808.20) scale(5.866,3.068)" font-size="1" fill="#f2a634" stroke="#f2a634" stroke-width="0.03">G</text>
<text transform="translate(374.62,808.20) scale(6.840,12.274)" font-size="1" fill="#3cc93c" stroke="#3cc93c" stroke-width="0.03">A</text>
<text transform="translate(379.19,808.20) scale(7.469,6.137)" font-size="1" fill="#e63030" stroke="#e63030" stroke-width="0.03">T</text>
<text transform="translate(383.75,808.20) scale(7.469,13.808)" font-size="1" fill="#e63030" stroke="#e63030" stroke-width="0.03">T</text>
<text transform="translate(388.31,808.20) scale(6.318,13.808)" font-size="1" fill="#2b2bee" stroke="#2b2bee" stroke-width="0.03">C</text>
<text transform="translate(392.88,808.20) scale(5.866,13.808)" font-size="1" fill="#f2a634" stroke="#f2a634" stroke-width="0.03">G</text>
<text transform="translate(397.44,808.20) scale(6.318,13.808)" font-size="1" fill="#2b2bee" stroke="#2b2bee" stroke-width="0.03">C</text>
<text x="411.40" y="825.00" font-size="9.10" fill="#333" stroke="#333" stroke-width="0.283">HMX1</text>
<text x="450.50" y="825.00" font-size="9.10" fill="#333" stroke="#333" stroke-width="0.283">0.0000</text>
<text transform="translate(365.50,826.50) scale(4.693,13.808)" font-size="1" fill="#f2a634" stroke="#f2a634" stroke-width="0.03">G</text>
<text transform="translate(369.15,826.50) scale(5.054,13.808)" font-size="1" fill="#2b2bee" stroke="#2b2bee" stroke-width="0.03">C</text>
<text transform="translate(372.80,826.50) scale(5.472,4.603)" font-size="1" fill="#3cc93c" stroke="#3cc93c" stroke-width="0.03">A</text>
<text transform="translate(376.45,826.50) scale(5.975,7.671)" font-size="1" fill="#e63030" stroke="#e63030" stroke-width="0.03">T</text>
<text transform="translate(380.10,826.50) scale(4.693,13.808)" font-size="1" fill="#f2a634" stroke="#f2a634" stroke-width="0.03">G</text>
<text transform="translate(383.75,826.50) scale(5.975,13.808)" font-size="1" fill="#e63030" stroke="#e63030" stroke-width="0.03">T</text>
<text transform="translate(387.40,826.50) scale(5.975,9.205)" font-size="1" fill="#e63030" stroke="#e63030" stroke-width="0.03">T</text>
<text transform="translate(391.05,826.50) scale(5.975,13.808)" font-size="1" fill="#e63030" stroke="#e63030" stroke-width="0.03">T</text>
<text transform="translate(394.70,826.50) scale(5.975,13.808)" font-size="1" fill="#e63030" stroke="#e63030" stroke-width="0.03">T</text>
<text transform="translate(398.35,826.50) scale(5.975,13.808)" font-size="1" fill="#e63030" stroke="#e63030" stroke-width="0.03">T</text>
<text x="411.40" y="843.10" font-size="9.10" fill="#333" stroke="#333" stroke-width="0.283">NFATC2</text>
<text x="450.50" y="843.10" font-size="9.10" fill="#333" stroke="#333" stroke-width="0.283">0.0000</text>
<text transform="translate(365.50,843.40) scale(5.472,1.534)" font-size="1" fill="#3cc93c" stroke="#3cc93c" stroke-width="0.03">A</text>
<text transform="translate(369.15,843.40) scale(5.054,13.808)" font-size="1" fill="#2b2bee" stroke="#2b2bee" stroke-width="0.03">C</text>
<text transform="translate(372.80,843.40) scale(5.472,4.603)" font-size="1" fill="#3cc93c" stroke="#3cc93c" stroke-width="0.03">A</text>
<text transform="translate(376.45,843.40) scale(5.975,13.808)" font-size="1" fill="#e63030" stroke="#e63030" stroke-width="0.03">T</text>
<text transform="translate(380.10,843.40) scale(5.975,13.808)" font-size="1" fill="#e63030" stroke="#e63030" stroke-width="0.03">T</text>
<text transform="translate(383.75,843.40) scale(4.693,13.808)" font-size="1" fill="#f2a634" stroke="#f2a634" stroke-width="0.03">G</text>
<text transform="translate(387.40,843.40) scale(5.975,7.671)" font-size="1" fill="#e63030" stroke="#e63030" stroke-width="0.03">T</text>
<text transform="translate(391.05,843.40) scale(5.054,13.808)" font-size="1" fill="#2b2bee" stroke="#2b2bee" stroke-width="0.03">C</text>
<text transform="translate(394.70,843.40) scale(5.975,13.808)" font-size="1" fill="#e63030" stroke="#e63030" stroke-width="0.03">T</text>
<text transform="translate(398.35,843.40) scale(4.693,3.068)" font-size="1" fill="#f2a634" stroke="#f2a634" stroke-width="0.03">G</text>
<text x="411.40" y="856.20" font-size="9.10" fill="#333" stroke="#333" stroke-width="0.283">SMAD2</text>
<text x="450.50" y="856.20" font-size="9.10" fill="#333" stroke="#333" stroke-width="0.283">0.0000</text>
<text transform="translate(365.50,857.80) scale(5.472,13.808)" font-size="1" fill="#3cc93c" stroke="#3cc93c" stroke-width="0.03">A</text>
<text transform="translate(369.15,857.80) scale(5.472,3.068)" font-size="1" fill="#3cc93c" stroke="#3cc93c" stroke-width="0.03">A</text>
<text transform="translate(372.80,857.80) scale(5.472,1.534)" font-size="1" fill="#3cc93c" stroke="#3cc93c" stroke-width="0.03">A</text>
<text transform="translate(376.45,857.80) scale(5.054,13.808)" font-size="1" fill="#2b2bee" stroke="#2b2bee" stroke-width="0.03">C</text>
<text transform="translate(380.10,857.80) scale(5.975,13.808)" font-size="1" fill="#e63030" stroke="#e63030" stroke-width="0.03">T</text>
<text transform="translate(383.75,857.80) scale(5.472,13.808)" font-size="1" fill="#3cc93c" stroke="#3cc93c" stroke-width="0.03">A</text>
<text transform="translate(387.40,857.80) scale(5.975,7.671)" font-size="1" fill="#e63030" stroke="#e63030" stroke-width="0.03">T</text>
<text transform="translate(391.05,857.80) scale(5.975,7.671)" font-size="1" fill="#e63030" stroke="#e63030" stroke-width="0.03">T</text>
<text transform="translate(394.70,857.80) scale(5.054,13.808)" font-size="1" fill="#2b2bee" stroke="#2b2bee" stroke-width="0.03">C</text>
<text transform="translate(398.35,857.80) scale(5.975,13.808)" font-size="1" fill="#e63030" stroke="#e63030" stroke-width="0.03">T</text>
<text x="547.70" y="647.82" font-size="14.56" fill="#231f20" font-weight="bold" stroke="#231f20" stroke-width="0.35">N</text>
<text x="570.60" y="641.40" font-size="10.03" stroke="#1c1819" stroke-width="0.296">Brd7-KO Gain Peak Motif</text>
<text x="577.30" y="656.30" font-size="9.69" stroke="#1c1819" stroke-width="0.296">Motif</text>
<text x="615.90" y="656.30" font-size="8.60" stroke="#1c1819" stroke-width="0.268">TF</text>
<text x="647.20" y="656.30" font-size="8.96" stroke="#1c1819" stroke-width="0.279">q value</text>
<line x1="569.40" y1="661.20" x2="679.20" y2="661.20" stroke="#666" stroke-width="0.8"/>
<line x1="569.40" y1="861.60" x2="679.20" y2="861.60" stroke="#777" stroke-width="0.9"/>
<text x="612.30" y="676.80" font-size="8.90" fill="#333" stroke="#333" stroke-width="0.277">ZFX</text>
<text x="644.70" y="676.80" font-size="8.90" fill="#333" stroke="#333" stroke-width="0.277">0.0000</text>
<text transform="translate(566.00,677.20) scale(5.432,0.465)" font-size="1" font-weight="bold" fill="#f2a634" stroke="#f2a634" stroke-width="0.05">G</text>
<text transform="translate(566.00,676.88) scale(5.850,0.698)" font-size="1" font-weight="bold" fill="#2b2bee" stroke="#2b2bee" stroke-width="0.05">C</text>
<text transform="translate(566.00,676.40) scale(5.850,10.465)" font-size="1" font-weight="bold" fill="#3cc93c" stroke="#3cc93c" stroke-width="0.05">A</text>
<text transform="translate(570.23,677.20) scale(5.850,0.465)" font-size="1" font-weight="bold" fill="#3cc93c" stroke="#3cc93c" stroke-width="0.05">A</text>
<text transform="translate(570.23,676.88) scale(6.917,0.698)" font-size="1" font-weight="bold" fill="#e63030" stroke="#e63030" stroke-width="0.05">T</text>
<text transform="translate(570.23,676.40) scale(5.432,10.465)" font-size="1" font-weight="bold" fill="#f2a634" stroke="#f2a634" stroke-width="0.05">G</text>
<text transform="translate(574.45,677.20) scale(5.850,0.465)" font-size="1" font-weight="bold" fill="#3cc93c" stroke="#3cc93c" stroke-width="0.05">A</text>
<text transform="translate(574.45,676.88) scale(6.917,0.698)" font-size="1" font-weight="bold" fill="#e63030" stroke="#e63030" stroke-width="0.05">T</text>
<text transform="translate(574.45,676.40) scale(5.432,10.465)" font-size="1" font-weight="bold" fill="#f2a634" stroke="#f2a634" stroke-width="0.05">G</text>
<text transform="translate(578.67,677.20) scale(6.917,0.465)" font-size="1" font-weight="bold" fill="#e63030" stroke="#e63030" stroke-width="0.05">T</text>
<text transform="translate(578.67,676.88) scale(5.432,0.698)" font-size="1" font-weight="bold" fill="#f2a634" stroke="#f2a634" stroke-width="0.05">G</text>
<text transform="translate(578.67,676.40) scale(5.850,10.465)" font-size="1" font-weight="bold" fill="#2b2bee" stroke="#2b2bee" stroke-width="0.05">C</text>
<text transform="translate(582.90,677.20) scale(6.917,0.465)" font-size="1" font-weight="bold" fill="#e63030" stroke="#e63030" stroke-width="0.05">T</text>
<text transform="translate(582.90,676.88) scale(5.850,0.698)" font-size="1" font-weight="bold" fill="#3cc93c" stroke="#3cc93c" stroke-width="0.05">A</text>
<text transform="translate(582.90,676.40) scale(5.850,10.465)" font-size="1" font-weight="bold" fill="#2b2bee" stroke="#2b2bee" stroke-width="0.05">C</text>
<text transform="translate(587.12,677.20) scale(5.432,0.465)" font-size="1" font-weight="bold" fill="#f2a634" stroke="#f2a634" stroke-width="0.05">G</text>
<text transform="translate(587.12,676.88) scale(5.850,0.698)" font-size="1" font-weight="bold" fill="#2b2bee" stroke="#2b2bee" stroke-width="0.05">C</text>
<text transform="translate(587.12,676.40) scale(6.917,10.465)" font-size="1" font-weight="bold" fill="#e63030" stroke="#e63030" stroke-width="0.05">T</text>
<text transform="translate(591.35,677.20) scale(6.917,1.163)" font-size="1" font-weight="bold" fill="#e63030" stroke="#e63030" stroke-width="0.05">T</text>
<text transform="translate(591.35,676.40) scale(5.432,1.860)" font-size="1" font-weight="bold" fill="#f2a634" stroke="#f2a634" stroke-width="0.05">G</text>
<text transform="translate(591.35,675.12) scale(5.850,2.791)" font-size="1" font-weight="bold" fill="#2b2bee" stroke="#2b2bee" stroke-width="0.05">C</text>
<text transform="translate(591.35,673.20) scale(5.850,3.953)" font-size="1" font-weight="bold" fill="#3cc93c" stroke="#3cc93c" stroke-width="0.05">A</text>
<text transform="translate(595.57,677.20) scale(5.850,1.163)" font-size="1" font-weight="bold" fill="#3cc93c" stroke="#3cc93c" stroke-width="0.05">A</text>
<text transform="translate(595.57,676.40) scale(6.917,1.860)" font-size="1" font-weight="bold" fill="#e63030" stroke="#e63030" stroke-width="0.05">T</text>
<text transform="translate(595.57,675.12) scale(5.850,2.791)" font-size="1" font-weight="bold" fill="#2b2bee" stroke="#2b2bee" stroke-width="0.05">C</text>
<text transform="translate(595.57,673.20) scale(5.432,3.953)" font-size="1" font-weight="bold" fill="#f2a634" stroke="#f2a634" stroke-width="0.05">G</text>
<text x="612.30" y="696.10" font-size="8.90" fill="#333" stroke="#333" stroke-width="0.277">SRS7</text>
<text x="644.70" y="696.10" font-size="8.90" fill="#333" stroke="#333" stroke-width="0.277">0.0000</text>
<text transform="translate(560.70,696.80) scale(5.477,1.163)" font-size="1" font-weight="bold" fill="#f2a634" stroke="#f2a634" stroke-width="0.05">G</text>
<text transform="translate(560.70,696.00) scale(5.899,1.860)" font-size="1" font-weight="bold" fill="#2b2bee" stroke="#2b2bee" stroke-width="0.05">C</text>
<text transform="translate(560.70,694.72) scale(5.899,2.791)" font-size="1" font-weight="bold" fill="#3cc93c" stroke="#3cc93c" stroke-width="0.05">A</text>
<text transform="translate(560.70,692.80) scale(6.974,3.953)" font-size="1" font-weight="bold" fill="#e63030" stroke="#e63030" stroke-width="0.05">T</text>
<text transform="translate(564.96,696.80) scale(6.974,1.163)" font-size="1" font-weight="bold" fill="#e63030" stroke="#e63030" stroke-width="0.05">T</text>
<text transform="translate(564.96,696.00) scale(5.899,1.860)" font-size="1" font-weight="bold" fill="#2b2bee" stroke="#2b2bee" stroke-width="0.05">C</text>
<text transform="translate(564.96,694.72) scale(5.477,2.791)" font-size="1" font-weight="bold" fill="#f2a634" stroke="#f2a634" stroke-width="0.05">G</text>
<text transform="translate(564.96,692.80) scale(5.899,3.953)" font-size="1" font-weight="bold" fill="#3cc93c" stroke="#3cc93c" stroke-width="0.05">A</text>
<text transform="translate(569.22,696.80) scale(5.477,0.465)" font-size="1" font-weight="bold" fill="#f2a634" stroke="#f2a634" stroke-width="0.05">G</text>
<text transform="translate(569.22,696.48) scale(5.899,0.698)" font-size="1" font-weight="bold" fill="#3cc93c" stroke="#3cc93c" stroke-width="0.05">A</text>
<text transform="translate(569.22,696.00) scale(6.974,10.465)" font-size="1" font-weight="bold" fill="#e63030" stroke="#e63030" stroke-width="0.05">T</text>
<text transform="translate(573.48,696.80) scale(6.974,0.465)" font-size="1" font-weight="bold" fill="#e63030" stroke="#e63030" stroke-width="0.05">T</text>
<text transform="translate(573.48,696.48) scale(5.477,0.698)" font-size="1" font-weight="bold" fill="#f2a634" stroke="#f2a634" stroke-width="0.05">G</text>
<text transform="translate(573.48,696.00) scale(5.899,10.465)" font-size="1" font-weight="bold" fill="#3cc93c" stroke="#3cc93c" stroke-width="0.05">A</text>
<text transform="translate(577.74,696.80) scale(6.974,0.465)" font-size="1" font-weight="bold" fill="#e63030" stroke="#e63030" stroke-width="0.05">T</text>
<text transform="translate(577.74,696.48) scale(5.899,0.698)" font-size="1" font-weight="bold" fill="#3cc93c" stroke="#3cc93c" stroke-width="0.05">A</text>
<text transform="translate(577.74,696.00) scale(5.477,10.465)" font-size="1" font-weight="bold" fill="#f2a634" stroke="#f2a634" stroke-width="0.05">G</text>
<text transform="translate(582.00,696.80) scale(5.899,0.465)" font-size="1" font-weight="bold" fill="#2b2bee" stroke="#2b2bee" stroke-width="0.05">C</text>
<text transform="translate(582.00,696.48) scale(6.974,0.698)" font-size="1" font-weight="bold" fill="#e63030" stroke="#e63030" stroke-width="0.05">T</text>
<text transform="translate(582.00,696.00) scale(5.477,10.465)" font-size="1" font-weight="bold" fill="#f2a634" stroke="#f2a634" stroke-width="0.05">G</text>
<text transform="translate(586.26,696.80) scale(5.477,1.163)" font-size="1" font-weight="bold" fill="#f2a634" stroke="#f2a634" stroke-width="0.05">G</text>
<text transform="translate(586.26,696.00) scale(5.899,1.860)" font-size="1" font-weight="bold" fill="#3cc93c" stroke="#3cc93c" stroke-width="0.05">A</text>
<text transform="translate(586.26,694.72) scale(5.899,2.791)" font-size="1" font-weight="bold" fill="#2b2bee" stroke="#2b2bee" stroke-width="0.05">C</text>
<text transform="translate(586.26,692.80) scale(6.974,3.953)" font-size="1" font-weight="bold" fill="#e63030" stroke="#e63030" stroke-width="0.05">T</text>
<text transform="translate(590.52,696.80) scale(5.899,1.163)" font-size="1" font-weight="bold" fill="#2b2bee" stroke="#2b2bee" stroke-width="0.05">C</text>
<text transform="translate(590.52,696.00) scale(5.899,1.860)" font-size="1" font-weight="bold" fill="#3cc93c" stroke="#3cc93c" stroke-width="0.05">A</text>
<text transform="translate(590.52,694.72) scale(5.477,2.791)" font-size="1" font-weight="bold" fill="#f2a634" stroke="#f2a634" stroke-width="0.05">G</text>
<text transform="translate(590.52,692.80) scale(6.974,3.953)" font-size="1" font-weight="bold" fill="#e63030" stroke="#e63030" stroke-width="0.05">T</text>
<text transform="translate(594.78,696.80) scale(5.899,1.163)" font-size="1" font-weight="bold" fill="#3cc93c" stroke="#3cc93c" stroke-width="0.05">A</text>
<text transform="translate(594.78,696.00) scale(5.899,1.860)" font-size="1" font-weight="bold" fill="#2b2bee" stroke="#2b2bee" stroke-width="0.05">C</text>
<text transform="translate(594.78,694.72) scale(5.477,2.791)" font-size="1" font-weight="bold" fill="#f2a634" stroke="#f2a634" stroke-width="0.05">G</text>
<text transform="translate(594.78,692.80) scale(6.974,3.953)" font-size="1" font-weight="bold" fill="#e63030" stroke="#e63030" stroke-width="0.05">T</text>
<text transform="translate(599.04,696.80) scale(5.477,1.163)" font-size="1" font-weight="bold" fill="#f2a634" stroke="#f2a634" stroke-width="0.05">G</text>
<text transform="translate(599.04,696.00) scale(5.899,1.860)" font-size="1" font-weight="bold" fill="#2b2bee" stroke="#2b2bee" stroke-width="0.05">C</text>
<text transform="translate(599.04,694.72) scale(6.974,2.791)" font-size="1" font-weight="bold" fill="#e63030" stroke="#e63030" stroke-width="0.05">T</text>
<text transform="translate(599.04,692.80) scale(5.899,3.953)" font-size="1" font-weight="bold" fill="#3cc93c" stroke="#3cc93c" stroke-width="0.05">A</text>
<text x="612.30" y="716.10" font-size="8.90" fill="#333" stroke="#333" stroke-width="0.277">Meis1</text>
<text x="644.70" y="716.10" font-size="8.90" fill="#333" stroke="#333" stroke-width="0.277">0.0000</text>
<text transform="translate(561.90,716.30) scale(6.958,1.163)" font-size="1" font-weight="bold" fill="#e63030" stroke="#e63030" stroke-width="0.05">T</text>
<text transform="translate(561.90,715.50) scale(5.885,1.860)" font-size="1" font-weight="bold" fill="#3cc93c" stroke="#3cc93c" stroke-width="0.05">A</text>
<text transform="translate(561.90,714.22) scale(5.885,2.791)" font-size="1" font-weight="bold" fill="#2b2bee" stroke="#2b2bee" stroke-width="0.05">C</text>
<text transform="translate(561.90,712.30) scale(5.464,3.953)" font-size="1" font-weight="bold" fill="#f2a634" stroke="#f2a634" stroke-width="0.05">G</text>
<text transform="translate(566.15,716.30) scale(6.958,1.163)" font-size="1" font-weight="bold" fill="#e63030" stroke="#e63030" stroke-width="0.05">T</text>
<text transform="translate(566.15,715.50) scale(5.885,1.860)" font-size="1" font-weight="bold" fill="#3cc93c" stroke="#3cc93c" stroke-width="0.05">A</text>
<text transform="translate(566.15,714.22) scale(5.885,2.791)" font-size="1" font-weight="bold" fill="#2b2bee" stroke="#2b2bee" stroke-width="0.05">C</text>
<text transform="translate(566.15,712.30) scale(5.464,3.953)" font-size="1" font-weight="bold" fill="#f2a634" stroke="#f2a634" stroke-width="0.05">G</text>
<text transform="translate(570.40,716.30) scale(5.464,0.465)" font-size="1" font-weight="bold" fill="#f2a634" stroke="#f2a634" stroke-width="0.05">G</text>
<text transform="translate(570.40,715.98) scale(5.885,0.698)" font-size="1" font-weight="bold" fill="#3cc93c" stroke="#3cc93c" stroke-width="0.05">A</text>
<text transform="translate(570.40,715.50) scale(5.885,10.465)" font-size="1" font-weight="bold" fill="#2b2bee" stroke="#2b2bee" stroke-width="0.05">C</text>
<text transform="translate(574.65,716.30) scale(5.885,0.465)" font-size="1" font-weight="bold" fill="#2b2bee" stroke="#2b2bee" stroke-width="0.05">C</text>
<text transform="translate(574.65,715.98) scale(5.885,0.698)" font-size="1" font-weight="bold" fill="#3cc93c" stroke="#3cc93c" stroke-width="0.05">A</text>
<text transform="translate(574.65,715.50) scale(6.958,10.465)" font-size="1" font-weight="bold" fill="#e63030" stroke="#e63030" stroke-width="0.05">T</text>
<text transform="translate(578.90,716.30) scale(5.885,0.465)" font-size="1" font-weight="bold" fill="#3cc93c" stroke="#3cc93c" stroke-width="0.05">A</text>
<text transform="translate(578.90,715.98) scale(6.958,0.698)" font-size="1" font-weight="bold" fill="#e63030" stroke="#e63030" stroke-width="0.05">T</text>
<text transform="translate(578.90,715.50) scale(5.464,10.465)" font-size="1" font-weight="bold" fill="#f2a634" stroke="#f2a634" stroke-width="0.05">G</text>
<text transform="translate(583.15,716.30) scale(6.958,1.163)" font-size="1" font-weight="bold" fill="#e63030" stroke="#e63030" stroke-width="0.05">T</text>
<text transform="translate(583.15,715.50) scale(5.885,1.860)" font-size="1" font-weight="bold" fill="#2b2bee" stroke="#2b2bee" stroke-width="0.05">C</text>
<text transform="translate(583.15,714.22) scale(5.464,2.791)" font-size="1" font-weight="bold" fill="#f2a634" stroke="#f2a634" stroke-width="0.05">G</text>
<text transform="translate(583.15,712.30) scale(5.885,3.953)" font-size="1" font-weight="bold" fill="#3cc93c" stroke="#3cc93c" stroke-width="0.05">A</text>
<text transform="translate(587.40,716.30) scale(6.958,0.465)" font-size="1" font-weight="bold" fill="#e63030" stroke="#e63030" stroke-width="0.05">T</text>
<text transform="translate(587.40,715.98) scale(5.464,0.698)" font-size="1" font-weight="bold" fill="#f2a634" stroke="#f2a634" stroke-width="0.05">G</text>
<text transform="translate(587.40,715.50) scale(5.885,10.465)" font-size="1" font-weight="bold" fill="#2b2bee" stroke="#2b2bee" stroke-width="0.05">C</text>
<text transform="translate(591.65,716.30) scale(5.885,0.465)" font-size="1" font-weight="bold" fill="#2b2bee" stroke="#2b2bee" stroke-width="0.05">C</text>
<text transform="translate(591.65,715.98) scale(6.958,0.698)" font-size="1" font-weight="bold" fill="#e63030" stroke="#e63030" stroke-width="0.05">T</text>
<text transform="translate(591.65,715.50) scale(5.885,10.465)" font-size="1" font-weight="bold" fill="#3cc93c" stroke="#3cc93c" stroke-width="0.05">A</text>
<text transform="translate(595.90,716.30) scale(5.885,1.163)" font-size="1" font-weight="bold" fill="#2b2bee" stroke="#2b2bee" stroke-width="0.05">C</text>
<text transform="translate(595.90,715.50) scale(6.958,1.860)" font-size="1" font-weight="bold" fill="#e63030" stroke="#e63030" stroke-width="0.05">T</text>
<text transform="translate(595.90,714.22) scale(5.885,2.791)" font-size="1" font-weight="bold" fill="#3cc93c" stroke="#3cc93c" stroke-width="0.05">A</text>
<text transform="translate(595.90,712.30) scale(5.464,3.953)" font-size="1" font-weight="bold" fill="#f2a634" stroke="#f2a634" stroke-width="0.05">G</text>
<text transform="translate(600.15,716.30) scale(5.885,1.163)" font-size="1" font-weight="bold" fill="#3cc93c" stroke="#3cc93c" stroke-width="0.05">A</text>
<text transform="translate(600.15,715.50) scale(6.958,1.860)" font-size="1" font-weight="bold" fill="#e63030" stroke="#e63030" stroke-width="0.05">T</text>
<text transform="translate(600.15,714.22) scale(5.464,2.791)" font-size="1" font-weight="bold" fill="#f2a634" stroke="#f2a634" stroke-width="0.05">G</text>
<text transform="translate(600.15,712.30) scale(5.885,3.953)" font-size="1" font-weight="bold" fill="#2b2bee" stroke="#2b2bee" stroke-width="0.05">C</text>
<text x="612.30" y="735.50" font-size="8.90" fill="#333" stroke="#333" stroke-width="0.277">Zac1</text>
<text x="644.70" y="735.50" font-size="8.90" fill="#333" stroke="#333" stroke-width="0.277">0.0000</text>
<text transform="translate(560.70,734.70) scale(6.051,1.163)" font-size="1" font-weight="bold" fill="#3cc93c" stroke="#3cc93c" stroke-width="0.05">A</text>
<text transform="translate(560.70,733.90) scale(6.051,1.860)" font-size="1" font-weight="bold" fill="#2b2bee" stroke="#2b2bee" stroke-width="0.05">C</text>
<text transform="translate(560.70,732.62) scale(5.618,2.791)" font-size="1" font-weight="bold" fill="#f2a634" stroke="#f2a634" stroke-width="0.05">G</text>
<text transform="translate(560.70,730.70) scale(7.154,3.953)" font-size="1" font-weight="bold" fill="#e63030" stroke="#e63030" stroke-width="0.05">T</text>
<text transform="translate(565.07,734.70) scale(5.618,1.163)" font-size="1" font-weight="bold" fill="#f2a634" stroke="#f2a634" stroke-width="0.05">G</text>
<text transform="translate(565.07,733.90) scale(6.051,1.860)" font-size="1" font-weight="bold" fill="#2b2bee" stroke="#2b2bee" stroke-width="0.05">C</text>
<text transform="translate(565.07,732.62) scale(7.154,2.791)" font-size="1" font-weight="bold" fill="#e63030" stroke="#e63030" stroke-width="0.05">T</text>
<text transform="translate(565.07,730.70) scale(6.051,3.953)" font-size="1" font-weight="bold" fill="#3cc93c" stroke="#3cc93c" stroke-width="0.05">A</text>
<text transform="translate(569.44,734.70) scale(6.051,0.465)" font-size="1" font-weight="bold" fill="#2b2bee" stroke="#2b2bee" stroke-width="0.05">C</text>
<text transform="translate(569.44,734.38) scale(6.051,0.698)" font-size="1" font-weight="bold" fill="#3cc93c" stroke="#3cc93c" stroke-width="0.05">A</text>
<text transform="translate(569.44,733.90) scale(7.154,10.465)" font-size="1" font-weight="bold" fill="#e63030" stroke="#e63030" stroke-width="0.05">T</text>
<text transform="translate(573.81,734.70) scale(6.051,1.163)" font-size="1" font-weight="bold" fill="#2b2bee" stroke="#2b2bee" stroke-width="0.05">C</text>
<text transform="translate(573.81,733.90) scale(7.154,1.860)" font-size="1" font-weight="bold" fill="#e63030" stroke="#e63030" stroke-width="0.05">T</text>
<text transform="translate(573.81,732.62) scale(6.051,2.791)" font-size="1" font-weight="bold" fill="#3cc93c" stroke="#3cc93c" stroke-width="0.05">A</text>
<text transform="translate(573.81,730.70) scale(5.618,3.953)" font-size="1" font-weight="bold" fill="#f2a634" stroke="#f2a634" stroke-width="0.05">G</text>
<text transform="translate(578.18,734.70) scale(6.051,0.465)" font-size="1" font-weight="bold" fill="#3cc93c" stroke="#3cc93c" stroke-width="0.05">A</text>
<text transform="translate(578.18,734.38) scale(6.051,0.698)" font-size="1" font-weight="bold" fill="#2b2bee" stroke="#2b2bee" stroke-width="0.05">C</text>
<text transform="translate(578.18,733.90) scale(5.618,10.465)" font-size="1" font-weight="bold" fill="#f2a634" stroke="#f2a634" stroke-width="0.05">G</text>
<text transform="translate(582.55,734.70) scale(6.051,0.465)" font-size="1" font-weight="bold" fill="#3cc93c" stroke="#3cc93c" stroke-width="0.05">A</text>
<text transform="translate(582.55,734.38) scale(6.051,0.698)" font-size="1" font-weight="bold" fill="#2b2bee" stroke="#2b2bee" stroke-width="0.05">C</text>
<text transform="translate(582.55,733.90) scale(5.618,10.465)" font-size="1" font-weight="bold" fill="#f2a634" stroke="#f2a634" stroke-width="0.05">G</text>
<text transform="translate(586.92,734.70) scale(6.051,0.465)" font-size="1" font-weight="bold" fill="#3cc93c" stroke="#3cc93c" stroke-width="0.05">A</text>
<text transform="translate(586.92,734.38) scale(7.154,0.698)" font-size="1" font-weight="bold" fill="#e63030" stroke="#e63030" stroke-width="0.05">T</text>
<text transform="translate(586.92,733.90) scale(5.618,10.465)" font-size="1" font-weight="bold" fill="#f2a634" stroke="#f2a634" stroke-width="0.05">G</text>
<text transform="translate(591.29,734.70) scale(5.618,1.163)" font-size="1" font-weight="bold" fill="#f2a634" stroke="#f2a634" stroke-width="0.05">G</text>
<text transform="translate(591.29,733.90) scale(6.051,1.860)" font-size="1" font-weight="bold" fill="#3cc93c" stroke="#3cc93c" stroke-width="0.05">A</text>
<text transform="translate(591.29,732.62) scale(7.154,2.791)" font-size="1" font-weight="bold" fill="#e63030" stroke="#e63030" stroke-width="0.05">T</text>
<text transform="translate(591.29,730.70) scale(6.051,3.953)" font-size="1" font-weight="bold" fill="#2b2bee" stroke="#2b2bee" stroke-width="0.05">C</text>
<text transform="translate(595.66,734.70) scale(7.154,1.163)" font-size="1" font-weight="bold" fill="#e63030" stroke="#e63030" stroke-width="0.05">T</text>
<text transform="translate(595.66,733.90) scale(6.051,1.860)" font-size="1" font-weight="bold" fill="#3cc93c" stroke="#3cc93c" stroke-width="0.05">A</text>
<text transform="translate(595.66,732.62) scale(5.618,2.791)" font-size="1" font-weight="bold" fill="#f2a634" stroke="#f2a634" stroke-width="0.05">G</text>
<text transform="translate(595.66,730.70) scale(6.051,3.953)" font-size="1" font-weight="bold" fill="#2b2bee" stroke="#2b2bee" stroke-width="0.05">C</text>
<text transform="translate(600.03,734.70) scale(7.154,1.163)" font-size="1" font-weight="bold" fill="#e63030" stroke="#e63030" stroke-width="0.05">T</text>
<text transform="translate(600.03,733.90) scale(5.618,1.860)" font-size="1" font-weight="bold" fill="#f2a634" stroke="#f2a634" stroke-width="0.05">G</text>
<text transform="translate(600.03,732.62) scale(6.051,2.791)" font-size="1" font-weight="bold" fill="#3cc93c" stroke="#3cc93c" stroke-width="0.05">A</text>
<text transform="translate(600.03,730.70) scale(6.051,3.953)" font-size="1" font-weight="bold" fill="#2b2bee" stroke="#2b2bee" stroke-width="0.05">C</text>
<text x="612.30" y="755.60" font-size="8.90" fill="#333" stroke="#333" stroke-width="0.277">ZNF711</text>
<text x="644.70" y="755.60" font-size="8.90" fill="#333" stroke="#333" stroke-width="0.277">0.0000</text>
<text transform="translate(568.80,756.60) scale(5.972,0.465)" font-size="1" font-weight="bold" fill="#2b2bee" stroke="#2b2bee" stroke-width="0.05">C</text>
<text transform="translate(568.80,756.28) scale(7.060,0.698)" font-size="1" font-weight="bold" fill="#e63030" stroke="#e63030" stroke-width="0.05">T</text>
<text transform="translate(568.80,755.80) scale(5.972,10.465)" font-size="1" font-weight="bold" fill="#3cc93c" stroke="#3cc93c" stroke-width="0.05">A</text>
<text transform="translate(573.11,756.60) scale(5.972,0.465)" font-size="1" font-weight="bold" fill="#2b2bee" stroke="#2b2bee" stroke-width="0.05">C</text>
<text transform="translate(573.11,756.28) scale(5.972,0.698)" font-size="1" font-weight="bold" fill="#3cc93c" stroke="#3cc93c" stroke-width="0.05">A</text>
<text transform="translate(573.11,755.80) scale(5.544,10.465)" font-size="1" font-weight="bold" fill="#f2a634" stroke="#f2a634" stroke-width="0.05">G</text>
<text transform="translate(577.42,756.60) scale(5.972,0.465)" font-size="1" font-weight="bold" fill="#3cc93c" stroke="#3cc93c" stroke-width="0.05">A</text>
<text transform="translate(577.42,756.28) scale(5.972,0.698)" font-size="1" font-weight="bold" fill="#2b2bee" stroke="#2b2bee" stroke-width="0.05">C</text>
<text transform="translate(577.42,755.80) scale(5.544,10.465)" font-size="1" font-weight="bold" fill="#f2a634" stroke="#f2a634" stroke-width="0.05">G</text>
<text transform="translate(581.74,756.60) scale(7.060,0.465)" font-size="1" font-weight="bold" fill="#e63030" stroke="#e63030" stroke-width="0.05">T</text>
<text transform="translate(581.74,756.28) scale(5.972,0.698)" font-size="1" font-weight="bold" fill="#3cc93c" stroke="#3cc93c" stroke-width="0.05">A</text>
<text transform="translate(581.74,755.80) scale(5.972,10.465)" font-size="1" font-weight="bold" fill="#2b2bee" stroke="#2b2bee" stroke-width="0.05">C</text>
<text transform="translate(586.05,756.60) scale(5.972,0.465)" font-size="1" font-weight="bold" fill="#3cc93c" stroke="#3cc93c" stroke-width="0.05">A</text>
<text transform="translate(586.05,756.28) scale(5.544,0.698)" font-size="1" font-weight="bold" fill="#f2a634" stroke="#f2a634" stroke-width="0.05">G</text>
<text transform="translate(586.05,755.80) scale(5.972,10.465)" font-size="1" font-weight="bold" fill="#2b2bee" stroke="#2b2bee" stroke-width="0.05">C</text>
<text transform="translate(590.36,756.60) scale(5.544,0.465)" font-size="1" font-weight="bold" fill="#f2a634" stroke="#f2a634" stroke-width="0.05">G</text>
<text transform="translate(590.36,756.28) scale(5.972,0.698)" font-size="1" font-weight="bold" fill="#3cc93c" stroke="#3cc93c" stroke-width="0.05">A</text>
<text transform="translate(590.36,755.80) scale(7.060,10.465)" font-size="1" font-weight="bold" fill="#e63030" stroke="#e63030" stroke-width="0.05">T</text>
<text transform="translate(594.67,756.60) scale(7.060,1.163)" font-size="1" font-weight="bold" fill="#e63030" stroke="#e63030" stroke-width="0.05">T</text>
<text transform="translate(594.67,755.80) scale(5.972,1.860)" font-size="1" font-weight="bold" fill="#2b2bee" stroke="#2b2bee" stroke-width="0.05">C</text>
<text transform="translate(594.67,754.52) scale(5.544,2.791)" font-size="1" font-weight="bold" fill="#f2a634" stroke="#f2a634" stroke-width="0.05">G</text>
<text transform="translate(594.67,752.60) scale(5.972,3.953)" font-size="1" font-weight="bold" fill="#3cc93c" stroke="#3cc93c" stroke-width="0.05">A</text>
<text transform="translate(598.99,756.60) scale(5.972,1.163)" font-size="1" font-weight="bold" fill="#2b2bee" stroke="#2b2bee" stroke-width="0.05">C</text>
<text transform="translate(598.99,755.80) scale(5.972,1.860)" font-size="1" font-weight="bold" fill="#3cc93c" stroke="#3cc93c" stroke-width="0.05">A</text>
<text transform="translate(598.99,754.52) scale(7.060,2.791)" font-size="1" font-weight="bold" fill="#e63030" stroke="#e63030" stroke-width="0.05">T</text>
<text transform="translate(598.99,752.60) scale(5.544,3.953)" font-size="1" font-weight="bold" fill="#f2a634" stroke="#f2a634" stroke-width="0.05">G</text>
<text x="612.30" y="775.10" font-size="8.90" fill="#333" stroke="#333" stroke-width="0.277">ATAF1</text>
<text x="644.70" y="775.10" font-size="8.90" fill="#333" stroke="#333" stroke-width="0.277">0.0000</text>
<text transform="translate(567.60,775.00) scale(5.737,1.163)" font-size="1" font-weight="bold" fill="#f2a634" stroke="#f2a634" stroke-width="0.05">G</text>
<text transform="translate(567.60,774.20) scale(7.305,1.860)" font-size="1" font-weight="bold" fill="#e63030" stroke="#e63030" stroke-width="0.05">T</text>
<text transform="translate(567.60,772.92) scale(6.179,2.791)" font-size="1" font-weight="bold" fill="#3cc93c" stroke="#3cc93c" stroke-width="0.05">A</text>
<text transform="translate(567.60,771.00) scale(6.179,3.953)" font-size="1" font-weight="bold" fill="#2b2bee" stroke="#2b2bee" stroke-width="0.05">C</text>
<text transform="translate(572.06,775.00) scale(7.305,0.465)" font-size="1" font-weight="bold" fill="#e63030" stroke="#e63030" stroke-width="0.05">T</text>
<text transform="translate(572.06,774.68) scale(6.179,0.698)" font-size="1" font-weight="bold" fill="#2b2bee" stroke="#2b2bee" stroke-width="0.05">C</text>
<text transform="translate(572.06,774.20) scale(6.179,10.465)" font-size="1" font-weight="bold" fill="#3cc93c" stroke="#3cc93c" stroke-width="0.05">A</text>
<text transform="translate(576.52,775.00) scale(7.305,0.465)" font-size="1" font-weight="bold" fill="#e63030" stroke="#e63030" stroke-width="0.05">T</text>
<text transform="translate(576.52,774.68) scale(6.179,0.698)" font-size="1" font-weight="bold" fill="#3cc93c" stroke="#3cc93c" stroke-width="0.05">A</text>
<text transform="translate(576.52,774.20) scale(6.179,10.465)" font-size="1" font-weight="bold" fill="#2b2bee" stroke="#2b2bee" stroke-width="0.05">C</text>
<text transform="translate(580.99,775.00) scale(6.179,0.465)" font-size="1" font-weight="bold" fill="#2b2bee" stroke="#2b2bee" stroke-width="0.05">C</text>
<text transform="translate(580.99,774.68) scale(7.305,0.698)" font-size="1" font-weight="bold" fill="#e63030" stroke="#e63030" stroke-width="0.05">T</text>
<text transform="translate(580.99,774.20) scale(5.737,10.465)" font-size="1" font-weight="bold" fill="#f2a634" stroke="#f2a634" stroke-width="0.05">G</text>
<text transform="translate(585.45,775.00) scale(5.737,1.163)" font-size="1" font-weight="bold" fill="#f2a634" stroke="#f2a634" stroke-width="0.05">G</text>
<text transform="translate(585.45,774.20) scale(6.179,1.860)" font-size="1" font-weight="bold" fill="#3cc93c" stroke="#3cc93c" stroke-width="0.05">A</text>
<text transform="translate(585.45,772.92) scale(6.179,2.791)" font-size="1" font-weight="bold" fill="#2b2bee" stroke="#2b2bee" stroke-width="0.05">C</text>
<text transform="translate(585.45,771.00) scale(7.305,3.953)" font-size="1" font-weight="bold" fill="#e63030" stroke="#e63030" stroke-width="0.05">T</text>
<text transform="translate(589.91,775.00) scale(6.179,1.163)" font-size="1" font-weight="bold" fill="#2b2bee" stroke="#2b2bee" stroke-width="0.05">C</text>
<text transform="translate(589.91,774.20) scale(7.305,1.860)" font-size="1" font-weight="bold" fill="#e63030" stroke="#e63030" stroke-width="0.05">T</text>
<text transform="translate(589.91,772.92) scale(5.737,2.791)" font-size="1" font-weight="bold" fill="#f2a634" stroke="#f2a634" stroke-width="0.05">G</text>
<text transform="translate(589.91,771.00) scale(6.179,3.953)" font-size="1" font-weight="bold" fill="#3cc93c" stroke="#3cc93c" stroke-width="0.05">A</text>
<text transform="translate(594.38,775.00) scale(6.179,1.163)" font-size="1" font-weight="bold" fill="#2b2bee" stroke="#2b2bee" stroke-width="0.05">C</text>
<text transform="translate(594.38,774.20) scale(5.737,1.860)" font-size="1" font-weight="bold" fill="#f2a634" stroke="#f2a634" stroke-width="0.05">G</text>
<text transform="translate(594.38,772.92) scale(7.305,2.791)" font-size="1" font-weight="bold" fill="#e63030" stroke="#e63030" stroke-width="0.05">T</text>
<text transform="translate(594.38,771.00) scale(6.179,3.953)" font-size="1" font-weight="bold" fill="#3cc93c" stroke="#3cc93c" stroke-width="0.05">A</text>
<text transform="translate(598.84,775.00) scale(7.305,1.163)" font-size="1" font-weight="bold" fill="#e63030" stroke="#e63030" stroke-width="0.05">T</text>
<text transform="translate(598.84,774.20) scale(5.737,1.860)" font-size="1" font-weight="bold" fill="#f2a634" stroke="#f2a634" stroke-width="0.05">G</text>
<text transform="translate(598.84,772.92) scale(6.179,2.791)" font-size="1" font-weight="bold" fill="#3cc93c" stroke="#3cc93c" stroke-width="0.05">A</text>
<text transform="translate(598.84,771.00) scale(6.179,3.953)" font-size="1" font-weight="bold" fill="#2b2bee" stroke="#2b2bee" stroke-width="0.05">C</text>
<text x="612.30" y="795.00" font-size="8.90" fill="#333" stroke="#333" stroke-width="0.277">TEAD4</text>
<text x="644.70" y="795.00" font-size="8.90" fill="#333" stroke="#333" stroke-width="0.277">0.0000</text>
<text transform="translate(561.40,794.50) scale(5.954,1.163)" font-size="1" font-weight="bold" fill="#3cc93c" stroke="#3cc93c" stroke-width="0.05">A</text>
<text transform="translate(561.40,793.70) scale(5.528,1.860)" font-size="1" font-weight="bold" fill="#f2a634" stroke="#f2a634" stroke-width="0.05">G</text>
<text transform="translate(561.40,792.42) scale(7.039,2.791)" font-size="1" font-weight="bold" fill="#e63030" stroke="#e63030" stroke-width="0.05">T</text>
<text transform="translate(561.40,790.50) scale(5.954,3.953)" font-size="1" font-weight="bold" fill="#2b2bee" stroke="#2b2bee" stroke-width="0.05">C</text>
<text transform="translate(565.70,794.50) scale(5.528,1.163)" font-size="1" font-weight="bold" fill="#f2a634" stroke="#f2a634" stroke-width="0.05">G</text>
<text transform="translate(565.70,793.70) scale(5.954,1.860)" font-size="1" font-weight="bold" fill="#3cc93c" stroke="#3cc93c" stroke-width="0.05">A</text>
<text transform="translate(565.70,792.42) scale(7.039,2.791)" font-size="1" font-weight="bold" fill="#e63030" stroke="#e63030" stroke-width="0.05">T</text>
<text transform="translate(565.70,790.50) scale(5.954,3.953)" font-size="1" font-weight="bold" fill="#2b2bee" stroke="#2b2bee" stroke-width="0.05">C</text>
<text transform="translate(570.00,794.50) scale(5.528,1.163)" font-size="1" font-weight="bold" fill="#f2a634" stroke="#f2a634" stroke-width="0.05">G</text>
<text transform="translate(570.00,793.70) scale(7.039,1.860)" font-size="1" font-weight="bold" fill="#e63030" stroke="#e63030" stroke-width="0.05">T</text>
<text transform="translate(570.00,792.42) scale(5.954,2.791)" font-size="1" font-weight="bold" fill="#2b2bee" stroke="#2b2bee" stroke-width="0.05">C</text>
<text transform="translate(570.00,790.50) scale(5.954,3.953)" font-size="1" font-weight="bold" fill="#3cc93c" stroke="#3cc93c" stroke-width="0.05">A</text>
<text transform="translate(574.30,794.50) scale(7.039,0.465)" font-size="1" font-weight="bold" fill="#e63030" stroke="#e63030" stroke-width="0.05">T</text>
<text transform="translate(574.30,794.18) scale(5.954,0.698)" font-size="1" font-weight="bold" fill="#3cc93c" stroke="#3cc93c" stroke-width="0.05">A</text>
<text transform="translate(574.30,793.70) scale(5.528,10.465)" font-size="1" font-weight="bold" fill="#f2a634" stroke="#f2a634" stroke-width="0.05">G</text>
<text transform="translate(578.60,794.50) scale(7.039,0.465)" font-size="1" font-weight="bold" fill="#e63030" stroke="#e63030" stroke-width="0.05">T</text>
<text transform="translate(578.60,794.18) scale(5.954,0.698)" font-size="1" font-weight="bold" fill="#2b2bee" stroke="#2b2bee" stroke-width="0.05">C</text>
<text transform="translate(578.60,793.70) scale(5.528,10.465)" font-size="1" font-weight="bold" fill="#f2a634" stroke="#f2a634" stroke-width="0.05">G</text>
<text transform="translate(582.90,794.50) scale(7.039,0.465)" font-size="1" font-weight="bold" fill="#e63030" stroke="#e63030" stroke-width="0.05">T</text>
<text transform="translate(582.90,794.18) scale(5.528,0.698)" font-size="1" font-weight="bold" fill="#f2a634" stroke="#f2a634" stroke-width="0.05">G</text>
<text transform="translate(582.90,793.70) scale(5.954,10.465)" font-size="1" font-weight="bold" fill="#3cc93c" stroke="#3cc93c" stroke-width="0.05">A</text>
<text transform="translate(587.20,794.50) scale(7.039,0.465)" font-size="1" font-weight="bold" fill="#e63030" stroke="#e63030" stroke-width="0.05">T</text>
<text transform="translate(587.20,794.18) scale(5.528,0.698)" font-size="1" font-weight="bold" fill="#f2a634" stroke="#f2a634" stroke-width="0.05">G</text>
<text transform="translate(587.20,793.70) scale(5.954,10.465)" font-size="1" font-weight="bold" fill="#3cc93c" stroke="#3cc93c" stroke-width="0.05">A</text>
<text transform="translate(591.50,794.50) scale(5.528,0.465)" font-size="1" font-weight="bold" fill="#f2a634" stroke="#f2a634" stroke-width="0.05">G</text>
<text transform="translate(591.50,794.18) scale(5.954,0.698)" font-size="1" font-weight="bold" fill="#3cc93c" stroke="#3cc93c" stroke-width="0.05">A</text>
<text transform="translate(591.50,793.70) scale(7.039,10.465)" font-size="1" font-weight="bold" fill="#e63030" stroke="#e63030" stroke-width="0.05">T</text>
<text transform="translate(595.80,794.50) scale(5.954,1.163)" font-size="1" font-weight="bold" fill="#3cc93c" stroke="#3cc93c" stroke-width="0.05">A</text>
<text transform="translate(595.80,793.70) scale(5.954,1.860)" font-size="1" font-weight="bold" fill="#2b2bee" stroke="#2b2bee" stroke-width="0.05">C</text>
<text transform="translate(595.80,792.42) scale(7.039,2.791)" font-size="1" font-weight="bold" fill="#e63030" stroke="#e63030" stroke-width="0.05">T</text>
<text transform="translate(595.80,790.50) scale(5.528,3.953)" font-size="1" font-weight="bold" fill="#f2a634" stroke="#f2a634" stroke-width="0.05">G</text>
<text transform="translate(600.10,794.50) scale(5.528,1.163)" font-size="1" font-weight="bold" fill="#f2a634" stroke="#f2a634" stroke-width="0.05">G</text>
<text transform="translate(600.10,793.70) scale(7.039,1.860)" font-size="1" font-weight="bold" fill="#e63030" stroke="#e63030" stroke-width="0.05">T</text>
<text transform="translate(600.10,792.42) scale(5.954,2.791)" font-size="1" font-weight="bold" fill="#3cc93c" stroke="#3cc93c" stroke-width="0.05">A</text>
<text transform="translate(600.10,790.50) scale(5.954,3.953)" font-size="1" font-weight="bold" fill="#2b2bee" stroke="#2b2bee" stroke-width="0.05">C</text>
<text x="614.30" y="814.40" font-size="8.90" fill="#333" stroke="#333" stroke-width="0.277">ARF2</text>
<text x="647.00" y="814.40" font-size="8.90" fill="#333" stroke="#333" stroke-width="0.277">0.0000</text>
<text transform="translate(560.10,813.60) scale(5.982,1.163)" font-size="1" font-weight="bold" fill="#3cc93c" stroke="#3cc93c" stroke-width="0.05">A</text>
<text transform="translate(560.10,812.80) scale(5.982,1.860)" font-size="1" font-weight="bold" fill="#2b2bee" stroke="#2b2bee" stroke-width="0.05">C</text>
<text transform="translate(560.10,811.52) scale(5.554,2.791)" font-size="1" font-weight="bold" fill="#f2a634" stroke="#f2a634" stroke-width="0.05">G</text>
<text transform="translate(560.10,809.60) scale(7.072,3.953)" font-size="1" font-weight="bold" fill="#e63030" stroke="#e63030" stroke-width="0.05">T</text>
<text transform="translate(564.42,813.60) scale(5.982,0.465)" font-size="1" font-weight="bold" fill="#2b2bee" stroke="#2b2bee" stroke-width="0.05">C</text>
<text transform="translate(564.42,813.28) scale(5.982,0.698)" font-size="1" font-weight="bold" fill="#3cc93c" stroke="#3cc93c" stroke-width="0.05">A</text>
<text transform="translate(564.42,812.80) scale(7.072,10.465)" font-size="1" font-weight="bold" fill="#e63030" stroke="#e63030" stroke-width="0.05">T</text>
<text transform="translate(568.74,813.60) scale(5.982,0.465)" font-size="1" font-weight="bold" fill="#2b2bee" stroke="#2b2bee" stroke-width="0.05">C</text>
<text transform="translate(568.74,813.28) scale(5.982,0.698)" font-size="1" font-weight="bold" fill="#3cc93c" stroke="#3cc93c" stroke-width="0.05">A</text>
<text transform="translate(568.74,812.80) scale(5.554,10.465)" font-size="1" font-weight="bold" fill="#f2a634" stroke="#f2a634" stroke-width="0.05">G</text>
<text transform="translate(573.06,813.60) scale(5.982,0.465)" font-size="1" font-weight="bold" fill="#2b2bee" stroke="#2b2bee" stroke-width="0.05">C</text>
<text transform="translate(573.06,813.28) scale(5.982,0.698)" font-size="1" font-weight="bold" fill="#3cc93c" stroke="#3cc93c" stroke-width="0.05">A</text>
<text transform="translate(573.06,812.80) scale(7.072,10.465)" font-size="1" font-weight="bold" fill="#e63030" stroke="#e63030" stroke-width="0.05">T</text>
<text transform="translate(577.38,813.60) scale(5.554,0.465)" font-size="1" font-weight="bold" fill="#f2a634" stroke="#f2a634" stroke-width="0.05">G</text>
<text transform="translate(577.38,813.28) scale(7.072,0.698)" font-size="1" font-weight="bold" fill="#e63030" stroke="#e63030" stroke-width="0.05">T</text>
<text transform="translate(577.38,812.80) scale(5.982,10.465)" font-size="1" font-weight="bold" fill="#2b2bee" stroke="#2b2bee" stroke-width="0.05">C</text>
<text transform="translate(581.70,813.60) scale(5.982,1.163)" font-size="1" font-weight="bold" fill="#3cc93c" stroke="#3cc93c" stroke-width="0.05">A</text>
<text transform="translate(581.70,812.80) scale(5.982,1.860)" font-size="1" font-weight="bold" fill="#2b2bee" stroke="#2b2bee" stroke-width="0.05">C</text>
<text transform="translate(581.70,811.52) scale(7.072,2.791)" font-size="1" font-weight="bold" fill="#e63030" stroke="#e63030" stroke-width="0.05">T</text>
<text transform="translate(581.70,809.60) scale(5.554,3.953)" font-size="1" font-weight="bold" fill="#f2a634" stroke="#f2a634" stroke-width="0.05">G</text>
<text transform="translate(586.02,813.60) scale(7.072,1.163)" font-size="1" font-weight="bold" fill="#e63030" stroke="#e63030" stroke-width="0.05">T</text>
<text transform="translate(586.02,812.80) scale(5.982,1.860)" font-size="1" font-weight="bold" fill="#2b2bee" stroke="#2b2bee" stroke-width="0.05">C</text>
<text transform="translate(586.02,811.52) scale(5.982,2.791)" font-size="1" font-weight="bold" fill="#3cc93c" stroke="#3cc93c" stroke-width="0.05">A</text>
<text transform="translate(586.02,809.60) scale(5.554,3.953)" font-size="1" font-weight="bold" fill="#f2a634" stroke="#f2a634" stroke-width="0.05">G</text>
<text transform="translate(590.34,813.60) scale(5.554,1.163)" font-size="1" font-weight="bold" fill="#f2a634" stroke="#f2a634" stroke-width="0.05">G</text>
<text transform="translate(590.34,812.80) scale(5.982,1.860)" font-size="1" font-weight="bold" fill="#3cc93c" stroke="#3cc93c" stroke-width="0.05">A</text>
<text transform="translate(590.34,811.52) scale(5.982,2.791)" font-size="1" font-weight="bold" fill="#2b2bee" stroke="#2b2bee" stroke-width="0.05">C</text>
<text transform="translate(590.34,809.60) scale(7.072,3.953)" font-size="1" font-weight="bold" fill="#e63030" stroke="#e63030" stroke-width="0.05">T</text>
<text transform="translate(594.66,813.60) scale(5.982,1.163)" font-size="1" font-weight="bold" fill="#2b2bee" stroke="#2b2bee" stroke-width="0.05">C</text>
<text transform="translate(594.66,812.80) scale(5.982,1.860)" font-size="1" font-weight="bold" fill="#3cc93c" stroke="#3cc93c" stroke-width="0.05">A</text>
<text transform="translate(594.66,811.52) scale(5.554,2.791)" font-size="1" font-weight="bold" fill="#f2a634" stroke="#f2a634" stroke-width="0.05">G</text>
<text transform="translate(594.66,809.60) scale(7.072,3.953)" font-size="1" font-weight="bold" fill="#e63030" stroke="#e63030" stroke-width="0.05">T</text>
<text transform="translate(598.98,813.60) scale(5.982,1.163)" font-size="1" font-weight="bold" fill="#2b2bee" stroke="#2b2bee" stroke-width="0.05">C</text>
<text transform="translate(598.98,812.80) scale(7.072,1.860)" font-size="1" font-weight="bold" fill="#e63030" stroke="#e63030" stroke-width="0.05">T</text>
<text transform="translate(598.98,811.52) scale(5.554,2.791)" font-size="1" font-weight="bold" fill="#f2a634" stroke="#f2a634" stroke-width="0.05">G</text>
<text transform="translate(598.98,809.60) scale(5.982,3.953)" font-size="1" font-weight="bold" fill="#3cc93c" stroke="#3cc93c" stroke-width="0.05">A</text>
<text x="614.30" y="833.90" font-size="8.90" fill="#333" stroke="#333" stroke-width="0.277">ZNF416</text>
<text x="647.00" y="833.90" font-size="8.90" fill="#333" stroke="#333" stroke-width="0.277">0.0000</text>
<text transform="translate(561.40,832.40) scale(6.051,1.163)" font-size="1" font-weight="bold" fill="#2b2bee" stroke="#2b2bee" stroke-width="0.05">C</text>
<text transform="translate(561.40,831.60) scale(6.051,1.860)" font-size="1" font-weight="bold" fill="#3cc93c" stroke="#3cc93c" stroke-width="0.05">A</text>
<text transform="translate(561.40,830.32) scale(5.618,2.791)" font-size="1" font-weight="bold" fill="#f2a634" stroke="#f2a634" stroke-width="0.05">G</text>
<text transform="translate(561.40,828.40) scale(7.154,3.953)" font-size="1" font-weight="bold" fill="#e63030" stroke="#e63030" stroke-width="0.05">T</text>
<text transform="translate(565.77,832.40) scale(6.051,1.163)" font-size="1" font-weight="bold" fill="#2b2bee" stroke="#2b2bee" stroke-width="0.05">C</text>
<text transform="translate(565.77,831.60) scale(6.051,1.860)" font-size="1" font-weight="bold" fill="#3cc93c" stroke="#3cc93c" stroke-width="0.05">A</text>
<text transform="translate(565.77,830.32) scale(7.154,2.791)" font-size="1" font-weight="bold" fill="#e63030" stroke="#e63030" stroke-width="0.05">T</text>
<text transform="translate(565.77,828.40) scale(5.618,3.953)" font-size="1" font-weight="bold" fill="#f2a634" stroke="#f2a634" stroke-width="0.05">G</text>
<text transform="translate(570.14,832.40) scale(7.154,1.163)" font-size="1" font-weight="bold" fill="#e63030" stroke="#e63030" stroke-width="0.05">T</text>
<text transform="translate(570.14,831.60) scale(5.618,1.860)" font-size="1" font-weight="bold" fill="#f2a634" stroke="#f2a634" stroke-width="0.05">G</text>
<text transform="translate(570.14,830.32) scale(6.051,2.791)" font-size="1" font-weight="bold" fill="#3cc93c" stroke="#3cc93c" stroke-width="0.05">A</text>
<text transform="translate(570.14,828.40) scale(6.051,3.953)" font-size="1" font-weight="bold" fill="#2b2bee" stroke="#2b2bee" stroke-width="0.05">C</text>
<text transform="translate(574.51,832.40) scale(7.154,0.465)" font-size="1" font-weight="bold" fill="#e63030" stroke="#e63030" stroke-width="0.05">T</text>
<text transform="translate(574.51,832.08) scale(5.618,0.698)" font-size="1" font-weight="bold" fill="#f2a634" stroke="#f2a634" stroke-width="0.05">G</text>
<text transform="translate(574.51,831.60) scale(6.051,10.465)" font-size="1" font-weight="bold" fill="#2b2bee" stroke="#2b2bee" stroke-width="0.05">C</text>
<text transform="translate(578.88,832.40) scale(6.051,0.465)" font-size="1" font-weight="bold" fill="#2b2bee" stroke="#2b2bee" stroke-width="0.05">C</text>
<text transform="translate(578.88,832.08) scale(6.051,0.698)" font-size="1" font-weight="bold" fill="#3cc93c" stroke="#3cc93c" stroke-width="0.05">A</text>
<text transform="translate(578.88,831.60) scale(7.154,10.465)" font-size="1" font-weight="bold" fill="#e63030" stroke="#e63030" stroke-width="0.05">T</text>
<text transform="translate(583.25,832.40) scale(6.051,0.465)" font-size="1" font-weight="bold" fill="#3cc93c" stroke="#3cc93c" stroke-width="0.05">A</text>
<text transform="translate(583.25,832.08) scale(7.154,0.698)" font-size="1" font-weight="bold" fill="#e63030" stroke="#e63030" stroke-width="0.05">T</text>
<text transform="translate(583.25,831.60) scale(5.618,10.465)" font-size="1" font-weight="bold" fill="#f2a634" stroke="#f2a634" stroke-width="0.05">G</text>
<text transform="translate(587.62,832.40) scale(7.154,0.465)" font-size="1" font-weight="bold" fill="#e63030" stroke="#e63030" stroke-width="0.05">T</text>
<text transform="translate(587.62,832.08) scale(6.051,0.698)" font-size="1" font-weight="bold" fill="#3cc93c" stroke="#3cc93c" stroke-width="0.05">A</text>
<text transform="translate(587.62,831.60) scale(5.618,10.465)" font-size="1" font-weight="bold" fill="#f2a634" stroke="#f2a634" stroke-width="0.05">G</text>
<text transform="translate(591.99,832.40) scale(6.051,0.465)" font-size="1" font-weight="bold" fill="#2b2bee" stroke="#2b2bee" stroke-width="0.05">C</text>
<text transform="translate(591.99,832.08) scale(7.154,0.698)" font-size="1" font-weight="bold" fill="#e63030" stroke="#e63030" stroke-width="0.05">T</text>
<text transform="translate(591.99,831.60) scale(5.618,10.465)" font-size="1" font-weight="bold" fill="#f2a634" stroke="#f2a634" stroke-width="0.05">G</text>
<text transform="translate(596.36,832.40) scale(7.154,0.465)" font-size="1" font-weight="bold" fill="#e63030" stroke="#e63030" stroke-width="0.05">T</text>
<text transform="translate(596.36,832.08) scale(6.051,0.698)" font-size="1" font-weight="bold" fill="#3cc93c" stroke="#3cc93c" stroke-width="0.05">A</text>
<text transform="translate(596.36,831.60) scale(6.051,10.465)" font-size="1" font-weight="bold" fill="#2b2bee" stroke="#2b2bee" stroke-width="0.05">C</text>
<text transform="translate(600.73,832.40) scale(5.618,0.465)" font-size="1" font-weight="bold" fill="#f2a634" stroke="#f2a634" stroke-width="0.05">G</text>
<text transform="translate(600.73,832.08) scale(6.051,0.698)" font-size="1" font-weight="bold" fill="#2b2bee" stroke="#2b2bee" stroke-width="0.05">C</text>
<text transform="translate(600.73,831.60) scale(6.051,10.465)" font-size="1" font-weight="bold" fill="#3cc93c" stroke="#3cc93c" stroke-width="0.05">A</text>
<text x="614.30" y="853.70" font-size="8.90" fill="#333" stroke="#333" stroke-width="0.277">Twist2</text>
<text x="647.00" y="853.70" font-size="8.90" fill="#333" stroke="#333" stroke-width="0.277">0.0000</text>
<text transform="translate(560.70,852.00) scale(6.051,1.163)" font-size="1" font-weight="bold" fill="#3cc93c" stroke="#3cc93c" stroke-width="0.05">A</text>
<text transform="translate(560.70,851.20) scale(5.618,1.860)" font-size="1" font-weight="bold" fill="#f2a634" stroke="#f2a634" stroke-width="0.05">G</text>
<text transform="translate(560.70,849.92) scale(7.154,2.791)" font-size="1" font-weight="bold" fill="#e63030" stroke="#e63030" stroke-width="0.05">T</text>
<text transform="translate(560.70,848.00) scale(6.051,3.953)" font-size="1" font-weight="bold" fill="#2b2bee" stroke="#2b2bee" stroke-width="0.05">C</text>
<text transform="translate(565.07,852.00) scale(6.051,0.465)" font-size="1" font-weight="bold" fill="#3cc93c" stroke="#3cc93c" stroke-width="0.05">A</text>
<text transform="translate(565.07,851.68) scale(5.618,0.698)" font-size="1" font-weight="bold" fill="#f2a634" stroke="#f2a634" stroke-width="0.05">G</text>
<text transform="translate(565.07,851.20) scale(6.051,10.465)" font-size="1" font-weight="bold" fill="#2b2bee" stroke="#2b2bee" stroke-width="0.05">C</text>
<text transform="translate(569.44,852.00) scale(7.154,0.465)" font-size="1" font-weight="bold" fill="#e63030" stroke="#e63030" stroke-width="0.05">T</text>
<text transform="translate(569.44,851.68) scale(5.618,0.698)" font-size="1" font-weight="bold" fill="#f2a634" stroke="#f2a634" stroke-width="0.05">G</text>
<text transform="translate(569.44,851.20) scale(6.051,10.465)" font-size="1" font-weight="bold" fill="#3cc93c" stroke="#3cc93c" stroke-width="0.05">A</text>
<text transform="translate(573.81,852.00) scale(7.154,1.163)" font-size="1" font-weight="bold" fill="#e63030" stroke="#e63030" stroke-width="0.05">T</text>
<text transform="translate(573.81,851.20) scale(6.051,1.860)" font-size="1" font-weight="bold" fill="#2b2bee" stroke="#2b2bee" stroke-width="0.05">C</text>
<text transform="translate(573.81,849.92) scale(6.051,2.791)" font-size="1" font-weight="bold" fill="#3cc93c" stroke="#3cc93c" stroke-width="0.05">A</text>
<text transform="translate(573.81,848.00) scale(5.618,3.953)" font-size="1" font-weight="bold" fill="#f2a634" stroke="#f2a634" stroke-width="0.05">G</text>
<text transform="translate(578.18,852.00) scale(7.154,0.465)" font-size="1" font-weight="bold" fill="#e63030" stroke="#e63030" stroke-width="0.05">T</text>
<text transform="translate(578.18,851.68) scale(6.051,0.698)" font-size="1" font-weight="bold" fill="#3cc93c" stroke="#3cc93c" stroke-width="0.05">A</text>
<text transform="translate(578.18,851.20) scale(6.051,10.465)" font-size="1" font-weight="bold" fill="#2b2bee" stroke="#2b2bee" stroke-width="0.05">C</text>
<text transform="translate(582.55,852.00) scale(6.051,0.465)" font-size="1" font-weight="bold" fill="#2b2bee" stroke="#2b2bee" stroke-width="0.05">C</text>
<text transform="translate(582.55,851.68) scale(6.051,0.698)" font-size="1" font-weight="bold" fill="#3cc93c" stroke="#3cc93c" stroke-width="0.05">A</text>
<text transform="translate(582.55,851.20) scale(7.154,10.465)" font-size="1" font-weight="bold" fill="#e63030" stroke="#e63030" stroke-width="0.05">T</text>
<text transform="translate(586.92,852.00) scale(6.051,0.465)" font-size="1" font-weight="bold" fill="#2b2bee" stroke="#2b2bee" stroke-width="0.05">C</text>
<text transform="translate(586.92,851.68) scale(7.154,0.698)" font-size="1" font-weight="bold" fill="#e63030" stroke="#e63030" stroke-width="0.05">T</text>
<text transform="translate(586.92,851.20) scale(5.618,10.465)" font-size="1" font-weight="bold" fill="#f2a634" stroke="#f2a634" stroke-width="0.05">G</text>
<text transform="translate(591.29,852.00) scale(5.618,1.163)" font-size="1" font-weight="bold" fill="#f2a634" stroke="#f2a634" stroke-width="0.05">G</text>
<text transform="translate(591.29,851.20) scale(6.051,1.860)" font-size="1" font-weight="bold" fill="#2b2bee" stroke="#2b2bee" stroke-width="0.05">C</text>
<text transform="translate(591.29,849.92) scale(6.051,2.791)" font-size="1" font-weight="bold" fill="#3cc93c" stroke="#3cc93c" stroke-width="0.05">A</text>
<text transform="translate(591.29,848.00) scale(7.154,3.953)" font-size="1" font-weight="bold" fill="#e63030" stroke="#e63030" stroke-width="0.05">T</text>
<text transform="translate(595.66,852.00) scale(5.618,1.163)" font-size="1" font-weight="bold" fill="#f2a634" stroke="#f2a634" stroke-width="0.05">G</text>
<text transform="translate(595.66,851.20) scale(6.051,1.860)" font-size="1" font-weight="bold" fill="#3cc93c" stroke="#3cc93c" stroke-width="0.05">A</text>
<text transform="translate(595.66,849.92) scale(6.051,2.791)" font-size="1" font-weight="bold" fill="#2b2bee" stroke="#2b2bee" stroke-width="0.05">C</text>
<text transform="translate(595.66,848.00) scale(7.154,3.953)" font-size="1" font-weight="bold" fill="#e63030" stroke="#e63030" stroke-width="0.05">T</text>
<text transform="translate(600.03,852.00) scale(7.154,1.163)" font-size="1" font-weight="bold" fill="#e63030" stroke="#e63030" stroke-width="0.05">T</text>
<text transform="translate(600.03,851.20) scale(5.618,1.860)" font-size="1" font-weight="bold" fill="#f2a634" stroke="#f2a634" stroke-width="0.05">G</text>
<text transform="translate(600.03,849.92) scale(6.051,2.791)" font-size="1" font-weight="bold" fill="#3cc93c" stroke="#3cc93c" stroke-width="0.05">A</text>
<text transform="translate(600.03,848.00) scale(6.051,3.953)" font-size="1" font-weight="bold" fill="#2b2bee" stroke="#2b2bee" stroke-width="0.05">C</text>
</g>
</svg></body></html>
